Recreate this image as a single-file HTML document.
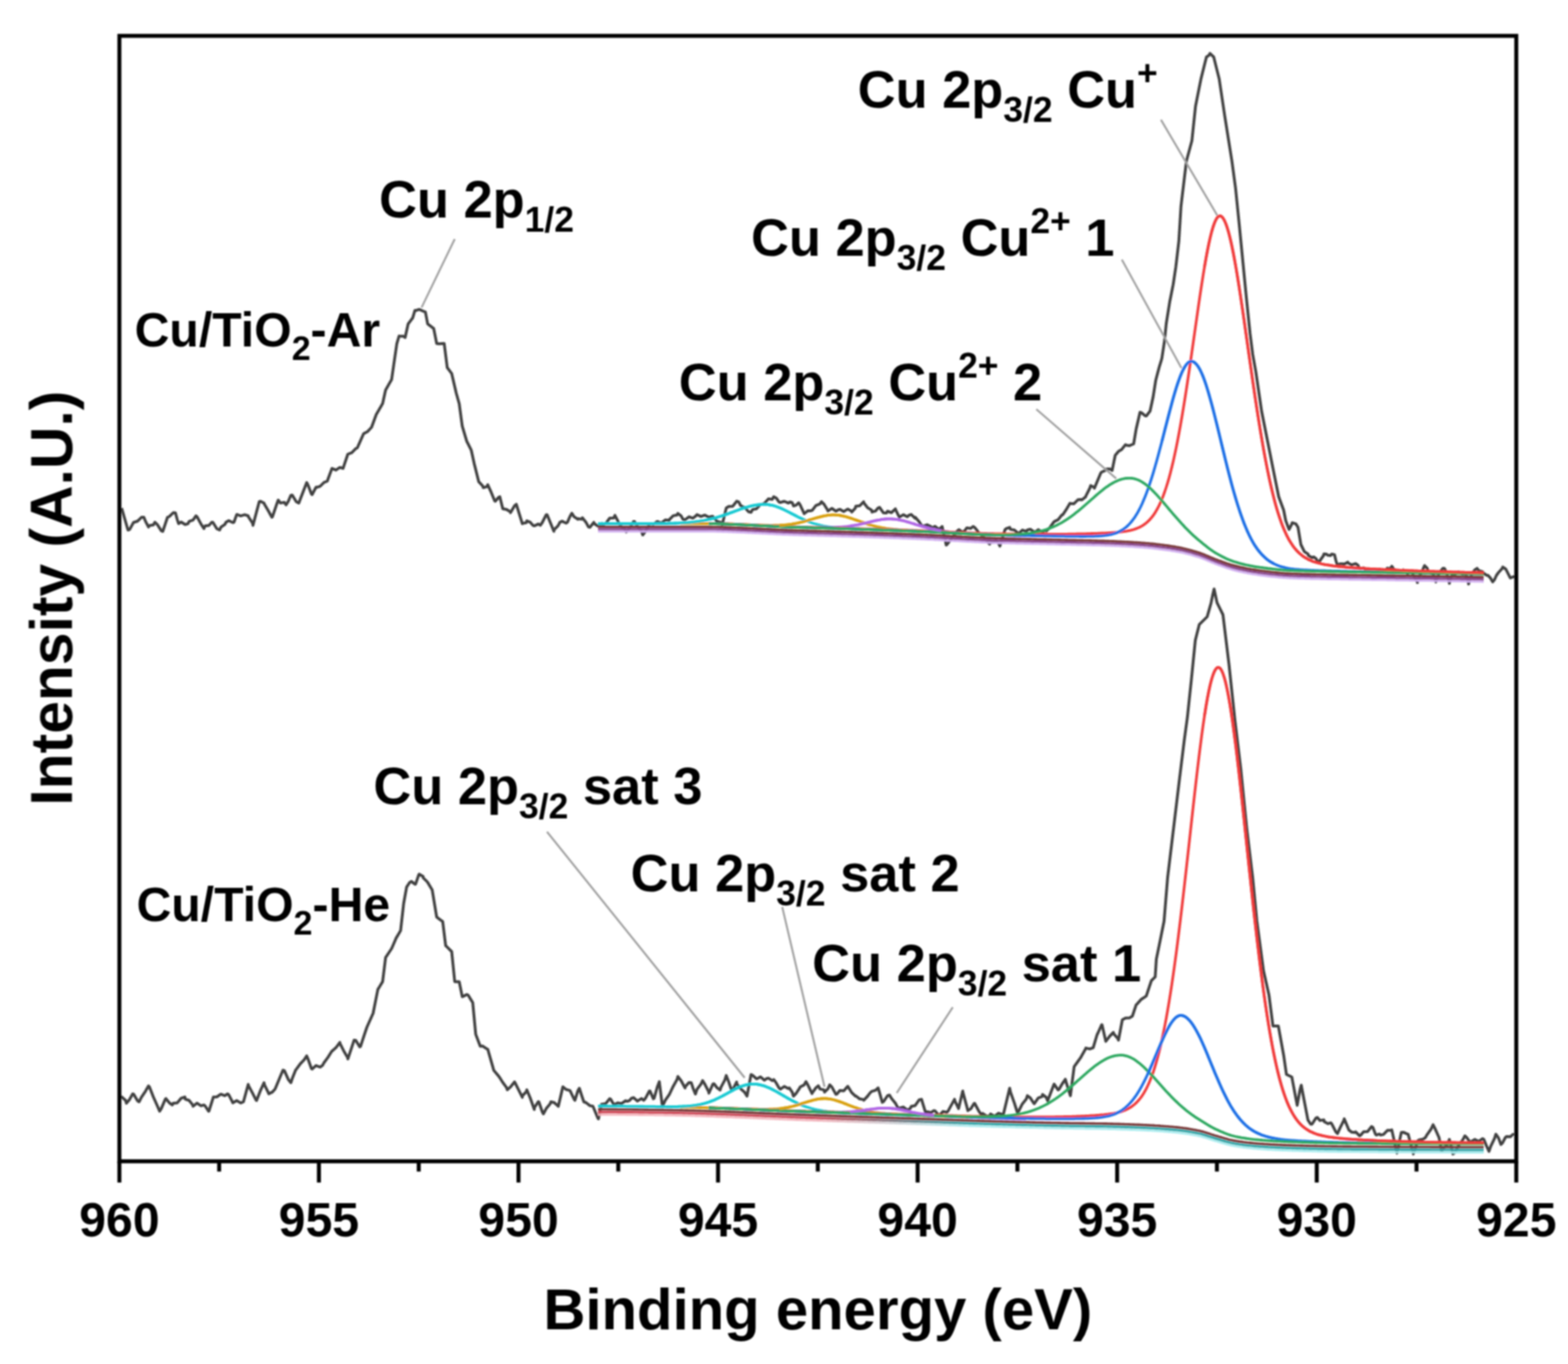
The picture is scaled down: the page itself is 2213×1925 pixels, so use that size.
<!DOCTYPE html>
<html><head><meta charset="utf-8"><title>Cu 2p XPS</title>
<style>html,body{margin:0;padding:0;background:#fff;}body{width:2213px;height:1925px;overflow:hidden;}svg{display:block;}</style>
</head><body>
<svg width="2213" height="1925" viewBox="0 0 2213 1925">
<rect width="100%" height="100%" fill="#fff"/>
<filter id="soft" x="0" y="0" width="100%" height="100%" filterUnits="userSpaceOnUse"><feGaussianBlur stdDeviation="1.3"/></filter>
<g filter="url(#soft)">
<g fill="none" stroke="#3f3f3f" stroke-width="4" stroke-linejoin="round">
<path d="M171.7 717.0 L171.7 717.0 L177.3 736.5 L180.6 748.0 L182.9 747.4 L188.5 737.2 L189.5 737.0 L194.1 735.5 L199.7 730.1 L203.0 730.0 L205.3 735.6 L209.6 743.8 L210.9 741.7 L216.5 740.7 L218.6 737.0 L222.1 740.4 L227.7 749.1 L229.7 750.0 L233.3 739.3 L236.4 730.0 L238.9 729.0 L244.5 723.6 L247.6 723.7 L250.1 733.0 L252.0 739.0 L255.7 736.7 L261.3 740.3 L265.4 739.0 L266.9 735.8 L272.5 733.8 L276.6 728.0 L278.1 729.3 L283.7 739.6 L287.8 746.0 L289.3 742.2 L294.9 741.5 L298.9 737.0 L300.5 737.2 L306.1 746.2 L310.0 748.0 L311.7 744.1 L317.3 740.2 L319.0 737.0 L322.9 734.8 L328.5 737.5 L330.2 737.0 L334.1 726.1 L334.6 726.0 L339.7 728.1 L345.3 726.4 L350.3 728.0 L350.9 729.9 L356.5 738.3 L357.0 741.5 L362.1 722.3 L365.9 708.0 L367.7 707.5 L372.6 710.0 L373.3 711.7 L378.9 721.3 L383.7 730.0 L384.5 729.4 L390.1 712.8 L392.7 705.8 L395.7 709.9 L401.3 709.0 L403.8 712.5 L406.9 707.5 L410.5 699.0 L412.5 698.7 L418.1 708.0 L421.7 710.0 L423.7 704.7 L429.3 690.3 L432.9 681.0 L434.9 684.9 L439.5 697.0 L440.5 698.0 L446.1 687.5 L446.3 688.0 L451.7 686.4 L457.3 680.9 L461.9 679.0 L462.9 676.3 L468.5 661.1 L468.6 661.0 L474.1 663.4 L479.7 659.7 L484.2 661.0 L485.3 657.7 L490.9 641.0 L490.9 641.0 L496.5 638.8 L502.1 633.1 L504.3 632.0 L507.7 624.4 L513.2 612.0 L513.3 611.9 L518.9 608.9 L524.4 603.0 L524.5 602.7 L530.1 587.5 L531.0 585.0 L535.7 577.0 L540.0 569.6 L541.3 563.7 L544.2 550.5 L546.9 545.8 L552.5 536.0 L552.7 535.7 L557.0 506.0 L558.1 498.5 L560.1 484.8 L563.3 474.2 L563.7 474.3 L569.3 474.6 L571.8 476.3 L574.9 462.2 L576.0 457.2 L580.5 451.3 L582.4 448.8 L585.6 438.2 L586.1 438.5 L591.7 436.7 L595.1 438.2 L597.3 439.2 L600.4 440.3 L602.9 453.5 L603.6 457.2 L608.5 460.9 L612.1 463.6 L614.1 473.7 L616.3 484.8 L619.7 485.3 L625.3 484.8 L626.9 484.8 L630.9 516.3 L631.2 518.7 L636.5 525.9 L637.5 527.2 L642.1 547.0 L643.9 554.8 L647.7 568.2 L648.1 569.6 L652.4 601.4 L653.3 604.4 L658.7 622.6 L658.9 623.0 L664.5 634.1 L665.1 635.3 L669.3 654.4 L670.1 657.6 L675.7 679.9 L675.7 679.9 L681.3 685.9 L682.0 688.3 L686.9 686.9 L688.4 684.1 L692.5 693.1 L698.1 706.7 L699.0 707.4 L703.7 701.9 L705.4 701.0 L709.3 716.8 L709.6 718.0 L714.9 719.0 L720.2 722.3 L720.5 723.6 L726.1 713.9 L728.7 711.7 L731.7 721.4 L737.2 739.2 L737.3 738.7 L742.9 737.6 L743.5 735.0 L748.5 737.2 L752.0 741.3 L754.1 742.1 L759.7 739.6 L762.6 741.3 L765.3 737.5 L770.9 726.4 L772.2 726.5 L776.5 737.0 L781.7 749.8 L782.1 747.7 L787.7 741.9 L790.2 737.1 L793.3 735.6 L798.9 738.3 L800.8 737.1 L804.5 728.7 L807.1 724.4 L810.1 729.1 L815.6 732.9 L815.7 731.9 L821.3 732.7 L822.0 730.7 L826.9 736.9 L830.5 743.5 L832.5 744.2 L838.1 737.2 L838.7 739.0 L843.7 742.4 L849.3 738.6 L850.0 741.0 L854.9 739.0 L860.5 731.3 L866.1 731.0 L867.9 727.4 L871.7 734.7 L873.7 739.0 L877.3 743.5 L882.9 748.1 L883.9 750.7 L888.5 745.4 L894.1 736.0 L895.5 736.0 L899.7 743.1 L905.3 750.1 L907.2 755.0 L910.9 750.1 L916.5 739.9 L917.4 739.0 L922.1 739.8 L927.7 735.9 L930.0 737.0 L933.3 738.2 L938.9 733.7 L944.5 734.2 L945.0 733.0 L950.1 727.9 L955.7 726.7 L956.7 724.5 L961.3 728.1 L964.0 733.0 L966.9 733.5 L972.5 729.3 L978.1 731.3 L982.9 727.4 L983.7 726.2 L989.3 728.9 L994.9 726.9 L1000.5 729.9 L1004.7 728.8 L1006.1 728.8 L1011.7 735.6 L1017.3 737.1 L1019.3 740.5 L1022.9 725.7 L1025.0 717.0 L1028.5 714.8 L1034.1 714.5 L1039.7 707.4 L1042.6 708.4 L1045.3 713.5 L1050.0 716.0 L1050.9 715.9 L1056.5 722.3 L1060.0 723.0 L1062.1 719.1 L1067.7 718.0 L1073.3 711.8 L1075.0 712.0 L1078.9 710.4 L1084.5 704.0 L1090.1 704.7 L1092.0 701.0 L1095.7 703.0 L1099.4 708.4 L1101.3 709.2 L1106.9 707.5 L1112.5 709.9 L1115.4 708.4 L1118.1 709.4 L1120.0 714.0 L1123.7 712.9 L1127.3 709.5 L1129.3 712.6 L1134.6 724.0 L1134.9 725.0 L1140.5 720.7 L1143.3 721.0 L1146.1 720.4 L1151.7 713.3 L1157.3 711.1 L1159.3 708.0 L1162.9 711.5 L1168.0 719.7 L1168.5 721.2 L1174.1 717.5 L1179.7 721.4 L1182.6 719.7 L1185.3 718.8 L1190.9 721.9 L1196.5 718.4 L1201.6 721.2 L1202.1 722.6 L1207.4 716.8 L1207.7 714.6 L1213.3 713.8 L1218.9 708.2 L1219.0 709.5 L1224.5 716.5 L1230.1 719.9 L1230.7 722.6 L1235.7 721.1 L1239.4 716.8 L1241.3 716.0 L1246.9 723.8 L1251.0 724.0 L1252.5 721.5 L1258.1 723.5 L1263.7 718.2 L1264.2 719.7 L1268.5 728.4 L1269.3 729.9 L1274.9 726.4 L1280.5 729.2 L1283.1 727.0 L1286.1 726.1 L1291.7 731.5 L1291.8 730.0 L1297.3 736.4 L1300.6 741.5 L1302.9 742.6 L1308.5 740.6 L1313.7 743.0 L1314.1 745.5 L1319.7 742.8 L1323.9 746.0 L1325.3 747.2 L1329.7 743.0 L1330.9 748.4 L1335.5 769.2 L1336.5 768.5 L1341.4 762.0 L1342.1 760.6 L1347.7 753.9 L1350.0 750.3 L1353.3 747.5 L1358.9 751.5 L1361.7 748.8 L1364.5 744.9 L1370.1 745.7 L1373.4 743.0 L1375.7 744.4 L1379.2 748.8 L1381.3 752.1 L1386.9 756.5 L1392.5 764.0 L1396.7 767.8 L1398.1 765.4 L1403.7 765.1 L1405.4 762.0 L1409.3 766.8 L1411.2 770.7 L1414.9 758.9 L1418.5 747.4 L1420.5 745.9 L1425.0 744.3 L1426.1 747.1 L1431.7 748.0 L1435.7 751.4 L1437.3 753.3 L1442.9 748.1 L1448.5 749.9 L1450.0 748.0 L1454.1 746.9 L1459.7 750.9 L1462.0 750.0 L1465.3 747.5 L1470.9 750.9 L1476.5 747.9 L1476.8 749.6 L1482.1 744.0 L1487.7 736.3 L1489.3 735.4 L1493.3 733.5 L1498.9 726.4 L1500.0 726.4 L1504.5 719.7 L1510.1 710.3 L1510.7 710.4 L1515.7 710.9 L1521.3 705.3 L1525.0 705.0 L1526.9 705.5 L1532.0 701.4 L1532.5 700.2 L1538.1 689.0 L1539.3 685.4 L1543.7 687.5 L1544.6 689.0 L1549.3 677.8 L1553.6 667.5 L1554.9 666.3 L1560.5 663.6 L1560.7 662.0 L1566.1 661.7 L1569.6 664.0 L1571.7 653.7 L1574.0 642.5 L1577.3 638.6 L1578.6 637.0 L1582.9 634.5 L1588.5 627.5 L1589.3 628.2 L1594.1 629.0 L1599.7 626.5 L1600.0 626.4 L1603.6 605.0 L1605.3 597.7 L1609.0 581.8 L1610.9 582.4 L1616.5 587.0 L1617.9 587.0 L1622.1 581.5 L1623.2 580.0 L1627.5 560.0 L1627.7 558.7 L1631.2 536.5 L1633.3 528.6 L1636.1 518.0 L1638.9 508.8 L1639.8 505.8 L1643.5 481.2 L1644.5 471.4 L1646.0 456.6 L1650.1 431.0 L1650.9 426.0 L1655.7 401.9 L1655.8 401.4 L1659.5 376.8 L1661.3 361.4 L1663.8 340.0 L1666.8 291.0 L1666.9 290.2 L1672.5 243.6 L1674.5 227.0 L1678.1 213.7 L1682.2 198.6 L1683.7 184.3 L1687.3 150.0 L1689.3 139.9 L1694.9 111.8 L1695.0 111.3 L1700.5 89.3 L1702.7 80.5 L1706.1 78.2 L1707.8 75.4 L1711.7 79.2 L1713.0 80.5 L1717.3 97.7 L1720.7 111.3 L1722.9 126.0 L1728.4 162.7 L1728.5 163.3 L1734.1 198.6 L1738.6 227.0 L1739.7 235.1 L1743.8 265.4 L1745.3 280.2 L1749.0 316.7 L1750.9 336.2 L1754.0 368.0 L1756.5 393.7 L1759.0 419.4 L1762.1 449.5 L1764.3 470.8 L1767.7 497.6 L1768.0 500.0 L1772.5 525.0 L1773.3 530.5 L1778.9 568.9 L1780.6 580.5 L1784.5 600.0 L1788.6 620.6 L1790.1 628.1 L1795.7 656.3 L1796.6 660.8 L1801.3 684.1 L1804.7 701.0 L1806.9 707.0 L1811.7 720.0 L1812.5 724.0 L1814.6 734.6 L1818.1 744.1 L1819.4 747.2 L1823.3 739.4 L1823.7 737.7 L1829.0 739.4 L1829.3 739.9 L1832.0 744.3 L1834.9 761.8 L1836.0 768.5 L1840.5 777.7 L1840.8 778.3 L1846.1 781.8 L1846.6 784.0 L1851.7 787.0 L1854.4 786.0 L1857.3 788.3 L1859.2 791.8 L1862.9 792.1 L1863.0 791.0 L1868.0 784.0 L1868.5 781.8 L1871.8 782.0 L1874.1 783.6 L1877.7 784.0 L1879.7 781.9 L1883.5 783.0 L1885.3 790.5 L1887.4 797.7 L1890.9 795.7 L1896.0 795.7 L1896.5 796.5 L1902.1 793.4 L1903.0 794.8 L1907.7 797.2 L1913.3 795.4 L1916.5 797.7 L1918.9 801.9 L1920.3 802.2 L1924.5 801.4 L1930.0 806.0 L1930.1 807.0 L1935.7 803.6 L1940.3 806.2 L1941.3 807.0 L1946.9 803.6 L1952.0 806.0 L1952.5 807.2 L1958.1 801.7 L1960.0 803.0 L1963.7 800.6 L1964.4 799.2 L1969.0 806.0 L1969.3 804.5 L1974.9 808.1 L1980.4 806.2 L1980.5 804.3 L1986.1 809.3 L1991.7 807.1 L1993.0 808.0 L1997.3 817.0 L1998.0 817.0 L2000.5 822.2 L2002.9 814.6 L2004.0 812.0 L2008.5 802.9 L2010.5 798.2 L2014.1 801.7 L2016.0 807.0 L2019.7 808.6 L2022.0 809.0 L2025.3 816.7 L2026.5 821.2 L2030.9 809.6 L2031.0 809.0 L2036.5 802.1 L2038.6 802.2 L2042.0 809.0 L2042.1 809.7 L2045.6 823.2 L2047.7 815.7 L2050.0 810.0 L2053.3 810.4 L2058.9 807.2 L2060.6 808.2 L2064.5 810.4 L2068.0 809.0 L2070.1 813.9 L2072.7 824.2 L2075.7 815.7 L2077.0 810.0 L2081.3 804.5 L2084.7 802.2 L2086.9 805.2 L2092.5 806.9 L2092.7 808.2 L2098.1 811.7 L2100.0 812.0 L2103.7 815.9 L2106.7 821.2 L2109.3 818.0 L2112.0 812.0 L2114.9 808.0 L2120.5 801.9 L2120.8 800.2 L2125.0 803.0 L2126.1 804.8 L2130.8 814.2 L2131.7 815.7 L2136.8 813.7 L2136.8 816.2"/>
<path d="M171.7 1548.3 L171.7 1548.0 L177.3 1553.1 L178.4 1557.0 L182.9 1551.6 L187.3 1543.8 L188.5 1544.1 L194.1 1553.6 L196.3 1555.0 L199.7 1548.3 L205.3 1540.1 L209.6 1532.6 L210.9 1533.9 L216.5 1548.3 L222.1 1560.8 L225.3 1568.3 L227.7 1564.4 L233.3 1551.2 L234.2 1550.4 L238.9 1556.3 L243.1 1559.4 L244.5 1556.9 L250.1 1556.5 L255.7 1549.9 L261.0 1548.2 L261.3 1551.1 L266.9 1553.0 L272.1 1559.4 L272.5 1561.3 L278.1 1556.8 L283.7 1560.6 L287.8 1559.4 L289.3 1560.5 L294.5 1568.3 L294.9 1568.1 L300.5 1550.3 L301.2 1548.2 L306.1 1548.0 L311.7 1544.2 L317.3 1546.3 L321.3 1543.8 L322.9 1545.1 L328.0 1555.0 L328.5 1556.4 L334.1 1553.3 L339.7 1556.6 L343.6 1555.0 L345.3 1548.8 L350.3 1530.4 L350.9 1532.4 L356.5 1542.9 L361.4 1552.7 L362.1 1553.2 L367.7 1538.8 L372.6 1528.0 L373.3 1531.1 L378.9 1542.4 L379.3 1543.8 L384.5 1541.1 L388.2 1537.0 L390.1 1532.5 L395.7 1519.1 L399.4 1510.3 L401.3 1510.9 L406.9 1523.4 L410.5 1528.0 L412.5 1522.0 L417.2 1510.3 L418.1 1509.1 L423.7 1501.5 L429.3 1495.7 L432.9 1490.2 L434.9 1495.0 L439.5 1508.0 L440.5 1508.7 L446.1 1503.8 L451.7 1506.0 L455.2 1503.6 L457.3 1499.7 L462.9 1492.1 L468.5 1483.3 L468.6 1483.5 L474.1 1478.6 L479.7 1471.2 L479.7 1472.3 L485.3 1483.4 L490.9 1493.1 L490.9 1494.6 L496.5 1477.8 L499.8 1467.9 L502.1 1468.3 L507.7 1477.4 L508.8 1476.8 L513.3 1463.2 L517.7 1450.0 L518.9 1447.3 L524.5 1434.7 L526.6 1430.0 L530.1 1412.4 L533.3 1396.4 L535.7 1392.5 L540.0 1385.4 L541.3 1374.9 L544.2 1351.4 L546.9 1347.4 L552.5 1339.0 L552.7 1338.7 L558.1 1326.2 L559.1 1323.9 L563.7 1316.2 L565.4 1313.3 L569.3 1278.7 L569.7 1275.1 L573.9 1251.8 L574.9 1250.3 L578.2 1245.4 L580.5 1244.0 L586.1 1248.0 L586.6 1247.6 L590.9 1234.8 L591.7 1233.7 L597.2 1237.0 L597.3 1238.8 L602.9 1244.4 L603.6 1245.4 L608.5 1253.5 L610.0 1256.0 L614.1 1280.9 L616.3 1294.2 L619.7 1296.8 L624.8 1300.6 L625.3 1304.6 L629.0 1334.5 L630.9 1336.4 L636.5 1342.0 L637.5 1343.0 L641.8 1385.4 L642.1 1385.4 L647.7 1385.4 L648.1 1385.4 L652.4 1406.6 L653.3 1406.4 L658.9 1403.5 L660.8 1404.5 L664.5 1410.6 L667.2 1415.0 L670.1 1445.8 L671.4 1459.6 L675.7 1471.0 L677.8 1476.5 L681.3 1476.3 L686.9 1480.2 L688.4 1480.8 L692.5 1495.1 L696.9 1510.5 L698.1 1512.0 L703.7 1518.6 L705.4 1521.0 L709.3 1527.3 L714.9 1534.9 L716.0 1538.0 L720.5 1534.1 L726.1 1526.9 L726.6 1527.4 L731.7 1537.6 L737.2 1548.6 L737.3 1546.5 L742.9 1540.6 L743.5 1538.0 L748.5 1550.0 L754.1 1565.8 L754.1 1563.5 L759.7 1554.7 L760.5 1555.0 L765.3 1569.0 L766.9 1572.0 L770.9 1564.6 L776.5 1557.7 L777.5 1555.0 L782.1 1556.0 L787.7 1561.1 L788.0 1561.3 L793.3 1538.5 L794.4 1533.8 L798.9 1537.5 L804.5 1539.1 L805.0 1540.1 L810.1 1551.0 L811.4 1552.8 L815.7 1539.1 L817.7 1535.9 L821.3 1547.1 L824.0 1555.0 L826.9 1556.0 L832.5 1560.4 L836.8 1561.3 L838.1 1564.2 L843.7 1577.7 L844.6 1579.0 L848.9 1558.6 L849.3 1558.4 L854.9 1557.4 L860.5 1550.5 L862.0 1551.4 L866.1 1558.5 L867.9 1558.6 L871.7 1556.5 L877.3 1557.4 L882.9 1553.5 L885.3 1554.3 L888.5 1553.1 L891.2 1550.0 L894.1 1549.1 L899.7 1553.9 L905.3 1550.4 L908.6 1552.8 L910.9 1550.1 L916.5 1539.8 L917.4 1539.7 L922.1 1550.6 L923.2 1550.0 L927.7 1534.0 L930.5 1526.6 L933.3 1548.8 L934.9 1561.5 L938.9 1552.9 L944.5 1544.9 L945.0 1544.0 L950.1 1533.2 L955.7 1523.2 L956.7 1519.3 L961.3 1525.2 L966.9 1535.5 L966.9 1533.9 L972.5 1527.7 L975.6 1528.0 L978.1 1535.7 L981.5 1544.0 L983.7 1537.4 L989.3 1530.0 L991.6 1525.0 L994.9 1530.4 L1000.4 1541.2 L1000.5 1542.8 L1006.1 1530.0 L1007.7 1529.5 L1011.7 1534.8 L1016.4 1538.3 L1017.3 1534.9 L1022.9 1524.4 L1025.0 1517.9 L1028.5 1526.9 L1032.4 1538.3 L1034.1 1538.2 L1039.7 1527.0 L1039.7 1529.5 L1045.3 1536.6 L1050.9 1541.4 L1054.3 1547.0 L1056.5 1535.2 L1060.0 1516.4 L1062.1 1517.5 L1067.7 1522.6 L1068.8 1522.2 L1073.3 1519.8 L1078.9 1524.5 L1082.0 1522.2 L1084.5 1521.6 L1090.1 1525.1 L1092.1 1523.7 L1095.7 1528.7 L1099.4 1535.3 L1101.3 1537.1 L1106.9 1533.3 L1112.5 1536.3 L1114.0 1535.3 L1118.1 1541.3 L1119.8 1547.0 L1123.7 1543.0 L1128.7 1535.3 L1129.3 1534.0 L1134.9 1531.1 L1137.5 1526.6 L1140.5 1531.8 L1146.1 1543.3 L1146.2 1542.6 L1151.7 1535.0 L1155.0 1532.4 L1157.3 1536.9 L1162.9 1538.1 L1163.7 1541.2 L1168.5 1536.6 L1171.0 1531.0 L1174.1 1534.1 L1179.7 1544.4 L1181.2 1544.0 L1185.3 1538.9 L1190.9 1539.5 L1195.7 1533.9 L1196.5 1533.1 L1202.1 1542.0 L1207.4 1547.0 L1207.7 1546.5 L1213.3 1550.8 L1218.9 1551.9 L1219.0 1552.8 L1224.5 1547.0 L1227.8 1542.6 L1230.1 1540.3 L1235.7 1538.7 L1239.4 1535.3 L1241.3 1541.9 L1245.2 1555.7 L1246.9 1554.8 L1252.5 1546.5 L1255.4 1545.5 L1258.1 1550.0 L1262.7 1555.7 L1263.7 1556.9 L1267.0 1563.0 L1269.3 1564.0 L1274.9 1562.3 L1280.5 1566.6 L1284.6 1564.5 L1286.1 1561.5 L1291.7 1560.2 L1297.3 1552.1 L1300.6 1551.4 L1302.9 1559.1 L1306.4 1570.3 L1308.5 1569.0 L1314.1 1570.2 L1318.0 1567.4 L1319.7 1567.7 L1325.3 1574.5 L1326.8 1573.2 L1330.9 1568.6 L1336.5 1569.7 L1338.4 1567.4 L1342.1 1560.6 L1347.2 1551.4 L1347.7 1553.9 L1353.0 1564.5 L1353.3 1562.7 L1358.8 1539.7 L1358.9 1541.1 L1364.5 1561.6 L1366.0 1567.4 L1370.1 1564.9 L1374.8 1557.2 L1375.7 1557.3 L1381.3 1567.8 L1385.0 1573.2 L1386.9 1571.4 L1392.5 1575.2 L1396.7 1574.7 L1398.1 1572.2 L1403.7 1575.4 L1408.0 1572.0 L1409.3 1571.1 L1414.9 1573.0 L1416.0 1573.2 L1420.5 1554.5 L1425.0 1535.7 L1426.1 1541.1 L1431.7 1556.9 L1435.7 1569.6 L1437.3 1569.0 L1442.9 1557.9 L1448.5 1550.9 L1450.0 1546.4 L1454.1 1549.4 L1459.0 1557.0 L1459.7 1557.7 L1465.3 1549.7 L1470.9 1547.5 L1471.4 1544.6 L1476.5 1548.6 L1478.6 1553.6 L1482.1 1544.5 L1487.5 1530.4 L1487.7 1530.0 L1493.3 1538.2 L1494.6 1537.5 L1498.9 1530.0 L1503.6 1523.2 L1504.5 1526.6 L1510.1 1544.4 L1510.7 1546.4 L1515.7 1507.7 L1516.0 1505.4 L1521.3 1498.0 L1525.0 1492.9 L1526.9 1489.5 L1532.0 1480.4 L1532.5 1479.1 L1538.1 1480.4 L1542.9 1478.6 L1543.7 1475.9 L1548.2 1460.7 L1549.3 1458.5 L1554.9 1446.2 L1555.4 1446.4 L1560.5 1468.9 L1560.7 1469.6 L1566.1 1462.5 L1571.4 1457.0 L1571.7 1458.9 L1577.3 1465.2 L1578.6 1467.9 L1582.9 1445.1 L1584.0 1439.3 L1588.5 1436.8 L1594.1 1436.6 L1598.2 1434.0 L1599.7 1429.5 L1603.6 1417.9 L1605.3 1416.4 L1610.9 1410.2 L1616.5 1406.6 L1617.9 1405.4 L1622.1 1392.7 L1625.0 1384.0 L1627.7 1381.3 L1630.4 1378.6 L1632.0 1353.6 L1633.3 1347.3 L1637.5 1326.8 L1638.9 1319.9 L1642.9 1300.0 L1644.5 1280.4 L1647.9 1238.8 L1650.1 1220.5 L1655.7 1174.0 L1656.3 1169.0 L1661.3 1127.5 L1664.7 1099.2 L1666.9 1081.4 L1671.6 1043.3 L1672.5 1036.7 L1675.8 1012.6 L1678.1 990.8 L1681.4 959.6 L1683.7 936.7 L1687.0 903.8 L1689.3 894.6 L1692.6 881.4 L1694.9 879.1 L1700.5 873.6 L1703.8 870.3 L1706.1 862.1 L1709.3 850.7 L1711.7 838.9 L1713.5 831.2 L1717.3 848.8 L1717.7 850.7 L1722.9 861.2 L1726.0 867.5 L1728.5 888.0 L1734.1 934.0 L1734.5 937.3 L1739.7 986.2 L1742.8 1015.4 L1745.3 1036.2 L1750.9 1082.7 L1751.2 1085.2 L1756.5 1138.1 L1759.6 1169.0 L1762.1 1189.8 L1767.7 1236.3 L1768.0 1238.8 L1773.3 1293.8 L1773.9 1300.0 L1778.9 1337.3 L1783.3 1370.2 L1784.5 1375.5 L1790.1 1400.4 L1791.0 1404.4 L1795.7 1441.0 L1796.6 1448.0 L1801.3 1448.0 L1804.2 1448.0 L1806.9 1462.8 L1811.8 1489.8 L1812.5 1494.7 L1815.6 1516.3 L1818.1 1517.5 L1823.2 1520.0 L1823.7 1522.6 L1829.3 1552.1 L1830.8 1560.0 L1834.9 1537.2 L1836.5 1531.5 L1840.5 1552.3 L1846.0 1580.8 L1846.1 1580.9 L1849.8 1586.5 L1851.7 1586.5 L1857.3 1577.8 L1859.2 1577.0 L1862.9 1581.4 L1868.5 1580.4 L1868.7 1582.7 L1874.1 1585.9 L1878.2 1584.6 L1879.7 1586.3 L1885.3 1597.4 L1887.7 1599.8 L1890.9 1592.6 L1896.5 1581.4 L1897.2 1579.0 L1902.1 1590.8 L1903.6 1594.6 L1907.7 1597.8 L1912.0 1598.3 L1913.3 1597.4 L1918.9 1603.0 L1920.6 1601.9 L1924.5 1597.3 L1930.1 1597.1 L1935.7 1589.9 L1937.6 1591.0 L1941.3 1600.8 L1942.5 1601.9 L1946.9 1600.4 L1948.5 1601.9 L1952.5 1601.1 L1958.1 1595.3 L1963.7 1594.9 L1964.3 1594.6 L1969.3 1617.1 L1971.6 1627.4 L1974.9 1611.7 L1977.7 1598.3 L1980.5 1597.9 L1986.1 1600.4 L1987.4 1600.7 L1991.7 1617.1 L1994.7 1628.6 L1997.3 1621.5 L2000.7 1610.4 L2002.9 1608.7 L2008.5 1607.7 L2011.7 1605.5 L2014.1 1601.3 L2019.7 1593.5 L2022.6 1587.3 L2025.3 1592.6 L2030.9 1605.3 L2031.0 1605.5 L2034.7 1625.0 L2036.5 1621.3 L2042.1 1615.9 L2045.6 1608.0 L2047.7 1616.2 L2050.5 1628.6 L2053.3 1626.6 L2058.9 1616.0 L2064.5 1608.6 L2067.5 1603.0 L2070.1 1605.4 L2073.5 1610.4 L2075.7 1611.5 L2081.3 1608.1 L2086.9 1610.9 L2092.5 1607.0 L2094.2 1608.0 L2098.1 1617.5 L2101.5 1625.0 L2103.7 1618.3 L2109.3 1606.6 L2111.2 1600.7 L2114.9 1605.9 L2118.4 1615.2 L2120.5 1613.1 L2124.5 1605.5 L2126.1 1603.9 L2131.7 1604.3 L2135.4 1600.9 L2135.4 1601.9"/>
</g>
<defs><linearGradient id="gb" gradientUnits="userSpaceOnUse" x1="844" y1="0" x2="2094" y2="0"><stop offset="0" stop-color="#d24656"/><stop offset="0.25" stop-color="#c84a5a"/><stop offset="0.42" stop-color="#2ea6a8"/><stop offset="1" stop-color="#2ea6a8"/></linearGradient><linearGradient id="gbl" gradientUnits="userSpaceOnUse" x1="844" y1="0" x2="2094" y2="0"><stop offset="0" stop-color="#f6b6be"/><stop offset="0.25" stop-color="#f3b5bd"/><stop offset="0.42" stop-color="#a8ecef"/><stop offset="1" stop-color="#a8ecef"/></linearGradient></defs>
<g fill="none" stroke-width="4" stroke-linejoin="round" stroke-linecap="butt">
<path d="M844.0 750.0 L846.0 750.0 L848.0 750.0 L850.0 750.0 L852.0 750.0 L854.0 750.0 L856.0 750.0 L858.0 750.0 L860.0 750.0 L862.0 750.0 L864.0 750.0 L866.0 750.0 L868.0 750.0 L870.0 750.0 L872.0 750.0 L874.0 750.0 L876.0 750.0 L878.0 750.0 L880.0 750.0 L882.0 750.0 L884.0 750.0 L886.0 750.0 L888.0 750.0 L890.0 750.0 L892.0 750.0 L894.0 750.0 L896.0 750.0 L898.0 750.0 L900.0 750.0 L902.0 750.0 L904.0 750.0 L906.0 750.0 L908.0 750.0 L910.0 750.0 L912.0 750.0 L914.0 750.0 L916.0 750.0 L918.0 750.0 L920.0 750.0 L922.0 750.0 L924.0 750.0 L926.0 750.0 L928.0 750.0 L930.0 750.0 L932.0 750.0 L934.0 750.0 L936.0 750.0 L938.0 750.0 L940.0 750.0 L942.0 750.0 L944.0 750.0 L946.0 750.0 L948.0 750.0 L950.0 750.0 L952.0 750.0 L954.0 750.0 L956.0 750.0 L958.0 750.0 L960.0 750.0 L962.0 750.0 L964.0 750.0 L966.0 750.0 L968.0 750.0 L970.0 750.0 L972.0 750.0 L974.0 750.0 L976.0 750.0 L978.0 750.0 L980.0 750.0 L982.0 750.0 L984.0 750.0 L986.0 750.0 L988.0 750.0 L990.0 750.0 L992.0 750.0 L994.0 750.0 L996.0 750.0 L998.0 750.0 L1000.0 750.1 L1002.0 750.1 L1004.0 750.1 L1006.0 750.2 L1008.0 750.2 L1010.0 750.2 L1012.0 750.3 L1014.0 750.3 L1016.0 750.4 L1018.0 750.4 L1020.0 750.5 L1022.0 750.6 L1024.0 750.6 L1026.0 750.7 L1028.0 750.8 L1030.0 750.9 L1032.0 750.9 L1034.0 751.0 L1036.0 751.1 L1038.0 751.2 L1040.0 751.3 L1042.0 751.4 L1044.0 751.4 L1046.0 751.5 L1048.0 751.6 L1050.0 751.7 L1052.0 751.8 L1054.0 751.9 L1056.0 752.0 L1058.0 752.1 L1060.0 752.2 L1062.0 752.3 L1064.0 752.4 L1066.0 752.5 L1068.0 752.6 L1070.0 752.7 L1072.0 752.8 L1074.0 752.9 L1076.0 753.0 L1078.0 753.1 L1080.0 753.2 L1082.0 753.3 L1084.0 753.4 L1086.0 753.5 L1088.0 753.6 L1090.0 753.7 L1092.0 753.8 L1094.0 753.9 L1096.0 754.0 L1098.0 754.1 L1100.0 754.2 L1102.0 754.3 L1104.0 754.4 L1106.0 754.5 L1108.0 754.6 L1110.0 754.6 L1112.0 754.7 L1114.0 754.8 L1116.0 754.9 L1118.0 754.9 L1120.0 755.0 L1122.0 755.1 L1124.0 755.1 L1126.0 755.2 L1128.0 755.3 L1130.0 755.3 L1132.0 755.4 L1134.0 755.4 L1136.0 755.5 L1138.0 755.5 L1140.0 755.6 L1142.0 755.7 L1144.0 755.7 L1146.0 755.8 L1148.0 755.8 L1150.0 755.9 L1152.0 755.9 L1154.0 756.0 L1156.0 756.0 L1158.0 756.1 L1160.0 756.2 L1162.0 756.2 L1164.0 756.3 L1166.0 756.3 L1168.0 756.4 L1170.0 756.4 L1172.0 756.5 L1174.0 756.5 L1176.0 756.6 L1178.0 756.7 L1180.0 756.7 L1182.0 756.8 L1184.0 756.8 L1186.0 756.9 L1188.0 757.0 L1190.0 757.0 L1192.0 757.1 L1194.0 757.2 L1196.0 757.2 L1198.0 757.3 L1200.0 757.4 L1202.0 757.4 L1204.0 757.5 L1206.0 757.5 L1208.0 757.6 L1210.0 757.7 L1212.0 757.7 L1214.0 757.8 L1216.0 757.9 L1218.0 757.9 L1220.0 758.0 L1222.0 758.1 L1224.0 758.1 L1226.0 758.2 L1228.0 758.3 L1230.0 758.4 L1232.0 758.4 L1234.0 758.5 L1236.0 758.6 L1238.0 758.6 L1240.0 758.7 L1242.0 758.8 L1244.0 758.8 L1246.0 758.9 L1248.0 759.0 L1250.0 759.1 L1252.0 759.1 L1254.0 759.2 L1256.0 759.3 L1258.0 759.3 L1260.0 759.4 L1262.0 759.5 L1264.0 759.6 L1266.0 759.6 L1268.0 759.7 L1270.0 759.8 L1272.0 759.9 L1274.0 760.0 L1276.0 760.0 L1278.0 760.1 L1280.0 760.2 L1282.0 760.3 L1284.0 760.3 L1286.0 760.4 L1288.0 760.5 L1290.0 760.6 L1292.0 760.7 L1294.0 760.8 L1296.0 760.8 L1298.0 760.9 L1300.0 761.0 L1302.0 761.1 L1304.0 761.2 L1306.0 761.3 L1308.0 761.4 L1310.0 761.5 L1312.0 761.5 L1314.0 761.6 L1316.0 761.7 L1318.0 761.8 L1320.0 762.0 L1322.0 762.1 L1324.0 762.2 L1326.0 762.3 L1328.0 762.4 L1330.0 762.5 L1332.0 762.6 L1334.0 762.7 L1336.0 762.8 L1338.0 762.9 L1340.0 763.0 L1342.0 763.2 L1344.0 763.3 L1346.0 763.4 L1348.0 763.5 L1350.0 763.6 L1352.0 763.7 L1354.0 763.8 L1356.0 763.9 L1358.0 764.1 L1360.0 764.2 L1362.0 764.3 L1364.0 764.4 L1366.0 764.5 L1368.0 764.6 L1370.0 764.7 L1372.0 764.8 L1374.0 764.9 L1376.0 765.0 L1378.0 765.1 L1380.0 765.2 L1382.0 765.3 L1384.0 765.4 L1386.0 765.5 L1388.0 765.5 L1390.0 765.6 L1392.0 765.7 L1394.0 765.8 L1396.0 765.9 L1398.0 765.9 L1400.0 766.0 L1402.0 766.1 L1404.0 766.1 L1406.0 766.2 L1408.0 766.3 L1410.0 766.3 L1412.0 766.4 L1414.0 766.4 L1416.0 766.5 L1418.0 766.6 L1420.0 766.6 L1422.0 766.7 L1424.0 766.7 L1426.0 766.8 L1428.0 766.8 L1430.0 766.9 L1432.0 766.9 L1434.0 767.0 L1436.0 767.0 L1438.0 767.1 L1440.0 767.1 L1442.0 767.2 L1444.0 767.2 L1446.0 767.3 L1448.0 767.3 L1450.0 767.4 L1452.0 767.4 L1454.0 767.4 L1456.0 767.5 L1458.0 767.5 L1460.0 767.6 L1462.0 767.6 L1464.0 767.7 L1466.0 767.7 L1468.0 767.8 L1470.0 767.8 L1472.0 767.8 L1474.0 767.9 L1476.0 767.9 L1478.0 768.0 L1480.0 768.0 L1482.0 768.1 L1484.0 768.1 L1486.0 768.2 L1488.0 768.2 L1490.0 768.3 L1492.0 768.3 L1494.0 768.4 L1496.0 768.4 L1498.0 768.5 L1500.0 768.5 L1502.0 768.5 L1504.0 768.6 L1506.0 768.6 L1508.0 768.7 L1510.0 768.7 L1512.0 768.8 L1514.0 768.8 L1516.0 768.9 L1518.0 768.9 L1520.0 769.0 L1522.0 769.0 L1524.0 769.0 L1526.0 769.1 L1528.0 769.1 L1530.0 769.2 L1532.0 769.2 L1534.0 769.3 L1536.0 769.3 L1538.0 769.4 L1540.0 769.4 L1542.0 769.5 L1544.0 769.5 L1546.0 769.6 L1548.0 769.6 L1550.0 769.7 L1552.0 769.7 L1554.0 769.8 L1556.0 769.9 L1558.0 769.9 L1560.0 770.0 L1562.0 770.1 L1564.0 770.1 L1566.0 770.2 L1568.0 770.3 L1570.0 770.4 L1572.0 770.4 L1574.0 770.5 L1576.0 770.6 L1578.0 770.7 L1580.0 770.8 L1582.0 770.9 L1584.0 771.0 L1586.0 771.1 L1588.0 771.2 L1590.0 771.3 L1592.0 771.4 L1594.0 771.5 L1596.0 771.6 L1598.0 771.7 L1600.0 771.9 L1602.0 772.0 L1604.0 772.1 L1606.0 772.3 L1608.0 772.4 L1610.0 772.5 L1612.0 772.7 L1614.0 772.8 L1616.0 773.0 L1618.0 773.2 L1620.0 773.3 L1622.0 773.5 L1624.0 773.7 L1626.0 773.9 L1628.0 774.1 L1630.0 774.3 L1632.0 774.6 L1634.0 774.8 L1636.0 775.0 L1638.0 775.3 L1640.0 775.5 L1642.0 775.8 L1644.0 776.1 L1646.0 776.3 L1648.0 776.6 L1650.0 776.9 L1652.0 777.2 L1654.0 777.5 L1656.0 777.8 L1658.0 778.1 L1660.0 778.5 L1662.0 778.8 L1664.0 779.2 L1666.0 779.6 L1668.0 780.0 L1670.0 780.5 L1672.0 780.9 L1674.0 781.4 L1676.0 781.9 L1678.0 782.4 L1680.0 783.0 L1682.0 783.5 L1684.0 784.1 L1686.0 784.7 L1688.0 785.3 L1690.0 785.9 L1692.0 786.5 L1694.0 787.2 L1696.0 787.9 L1698.0 788.6 L1700.0 789.4 L1702.0 790.3 L1704.0 791.1 L1706.0 792.0 L1708.0 792.8 L1710.0 793.7 L1712.0 794.5 L1714.0 795.3 L1716.0 796.1 L1718.0 796.8 L1720.0 797.6 L1722.0 798.3 L1724.0 799.0 L1726.0 799.8 L1728.0 800.5 L1730.0 801.2 L1732.0 801.9 L1734.0 802.5 L1736.0 803.2 L1738.0 803.7 L1740.0 804.3 L1742.0 804.8 L1744.0 805.3 L1746.0 805.8 L1748.0 806.3 L1750.0 806.8 L1752.0 807.2 L1754.0 807.6 L1756.0 808.1 L1758.0 808.5 L1760.0 808.9 L1762.0 809.3 L1764.0 809.6 L1766.0 810.0 L1768.0 810.3 L1770.0 810.6 L1772.0 810.9 L1774.0 811.2 L1776.0 811.5 L1778.0 811.8 L1780.0 812.0 L1782.0 812.3 L1784.0 812.5 L1786.0 812.8 L1788.0 813.0 L1790.0 813.3 L1792.0 813.5 L1794.0 813.8 L1796.0 814.0 L1798.0 814.2 L1800.0 814.4 L1802.0 814.6 L1804.0 814.8 L1806.0 815.0 L1808.0 815.2 L1810.0 815.4 L1812.0 815.5 L1814.0 815.7 L1816.0 815.8 L1818.0 815.9 L1820.0 816.0 L1822.0 816.1 L1824.0 816.2 L1826.0 816.3 L1828.0 816.3 L1830.0 816.4 L1832.0 816.5 L1834.0 816.5 L1836.0 816.6 L1838.0 816.7 L1840.0 816.7 L1842.0 816.8 L1844.0 816.8 L1846.0 816.9 L1848.0 816.9 L1850.0 817.0 L1852.0 817.0 L1854.0 817.1 L1856.0 817.1 L1858.0 817.2 L1860.0 817.2 L1862.0 817.2 L1864.0 817.3 L1866.0 817.3 L1868.0 817.4 L1870.0 817.4 L1872.0 817.4 L1874.0 817.5 L1876.0 817.5 L1878.0 817.5 L1880.0 817.6 L1882.0 817.6 L1884.0 817.6 L1886.0 817.7 L1888.0 817.7 L1890.0 817.7 L1892.0 817.8 L1894.0 817.8 L1896.0 817.8 L1898.0 817.9 L1900.0 817.9 L1902.0 817.9 L1904.0 818.0 L1906.0 818.0 L1908.0 818.0 L1910.0 818.1 L1912.0 818.1 L1914.0 818.1 L1916.0 818.2 L1918.0 818.2 L1920.0 818.2 L1922.0 818.3 L1924.0 818.3 L1926.0 818.3 L1928.0 818.3 L1930.0 818.4 L1932.0 818.4 L1934.0 818.4 L1936.0 818.5 L1938.0 818.5 L1940.0 818.5 L1942.0 818.5 L1944.0 818.6 L1946.0 818.6 L1948.0 818.6 L1950.0 818.6 L1952.0 818.7 L1954.0 818.7 L1956.0 818.7 L1958.0 818.8 L1960.0 818.8 L1962.0 818.8 L1964.0 818.9 L1966.0 818.9 L1968.0 818.9 L1970.0 819.0 L1972.0 819.0 L1974.0 819.0 L1976.0 819.1 L1978.0 819.1 L1980.0 819.1 L1982.0 819.1 L1984.0 819.2 L1986.0 819.2 L1988.0 819.2 L1990.0 819.3 L1992.0 819.3 L1994.0 819.3 L1996.0 819.4 L1998.0 819.4 L2000.0 819.4 L2002.0 819.5 L2004.0 819.5 L2006.0 819.5 L2008.0 819.6 L2010.0 819.6 L2012.0 819.6 L2014.0 819.7 L2016.0 819.7 L2018.0 819.7 L2020.0 819.8 L2022.0 819.8 L2024.0 819.8 L2026.0 819.9 L2028.0 819.9 L2030.0 819.9 L2032.0 820.0 L2034.0 820.0 L2036.0 820.0 L2038.0 820.1 L2040.0 820.1 L2042.0 820.1 L2044.0 820.2 L2046.0 820.2 L2048.0 820.2 L2050.0 820.3 L2052.0 820.3 L2054.0 820.3 L2056.0 820.4 L2058.0 820.4 L2060.0 820.4 L2062.0 820.5 L2064.0 820.5 L2066.0 820.5 L2068.0 820.6 L2070.0 820.6 L2072.0 820.6 L2074.0 820.7 L2076.0 820.7 L2078.0 820.7 L2080.0 820.8 L2082.0 820.8 L2084.0 820.8 L2086.0 820.9 L2088.0 820.9 L2090.0 820.9 L2092.0 821.0 L2094.0 821.0" stroke="#d2b0f2" stroke-width="2.8"/>
<path d="M844.0 746.8 L846.0 746.8 L848.0 746.8 L850.0 746.8 L852.0 746.8 L854.0 746.8 L856.0 746.8 L858.0 746.8 L860.0 746.8 L862.0 746.8 L864.0 746.8 L866.0 746.8 L868.0 746.8 L870.0 746.8 L872.0 746.8 L874.0 746.8 L876.0 746.8 L878.0 746.8 L880.0 746.8 L882.0 746.8 L884.0 746.8 L886.0 746.8 L888.0 746.8 L890.0 746.8 L892.0 746.8 L894.0 746.8 L896.0 746.8 L898.0 746.8 L900.0 746.8 L902.0 746.8 L904.0 746.8 L906.0 746.8 L908.0 746.8 L910.0 746.8 L912.0 746.8 L914.0 746.8 L916.0 746.8 L918.0 746.8 L920.0 746.8 L922.0 746.8 L924.0 746.8 L926.0 746.8 L928.0 746.8 L930.0 746.8 L932.0 746.8 L934.0 746.8 L936.0 746.8 L938.0 746.8 L940.0 746.8 L942.0 746.8 L944.0 746.8 L946.0 746.8 L948.0 746.8 L950.0 746.8 L952.0 746.8 L954.0 746.8 L956.0 746.8 L958.0 746.8 L960.0 746.8 L962.0 746.8 L964.0 746.8 L966.0 746.8 L968.0 746.8 L970.0 746.8 L972.0 746.8 L974.0 746.8 L976.0 746.8 L978.0 746.8 L980.0 746.8 L982.0 746.8 L984.0 746.8 L986.0 746.8 L988.0 746.8 L990.0 746.8 L992.0 746.8 L994.0 746.8 L996.0 746.8 L998.0 746.8 L1000.0 746.9 L1002.0 746.9 L1004.0 746.9 L1006.0 747.0 L1008.0 747.0 L1010.0 747.0 L1012.0 747.1 L1014.0 747.1 L1016.0 747.2 L1018.0 747.2 L1020.0 747.3 L1022.0 747.4 L1024.0 747.4 L1026.0 747.5 L1028.0 747.6 L1030.0 747.7 L1032.0 747.7 L1034.0 747.8 L1036.0 747.9 L1038.0 748.0 L1040.0 748.1 L1042.0 748.2 L1044.0 748.2 L1046.0 748.3 L1048.0 748.4 L1050.0 748.5 L1052.0 748.6 L1054.0 748.7 L1056.0 748.8 L1058.0 748.9 L1060.0 749.0 L1062.0 749.1 L1064.0 749.2 L1066.0 749.3 L1068.0 749.4 L1070.0 749.5 L1072.0 749.6 L1074.0 749.7 L1076.0 749.8 L1078.0 749.9 L1080.0 750.0 L1082.0 750.1 L1084.0 750.2 L1086.0 750.3 L1088.0 750.4 L1090.0 750.5 L1092.0 750.6 L1094.0 750.7 L1096.0 750.8 L1098.0 750.9 L1100.0 751.0 L1102.0 751.1 L1104.0 751.2 L1106.0 751.3 L1108.0 751.4 L1110.0 751.4 L1112.0 751.5 L1114.0 751.6 L1116.0 751.7 L1118.0 751.7 L1120.0 751.8 L1122.0 751.9 L1124.0 751.9 L1126.0 752.0 L1128.0 752.1 L1130.0 752.1 L1132.0 752.2 L1134.0 752.2 L1136.0 752.3 L1138.0 752.3 L1140.0 752.4 L1142.0 752.5 L1144.0 752.5 L1146.0 752.6 L1148.0 752.6 L1150.0 752.7 L1152.0 752.7 L1154.0 752.8 L1156.0 752.8 L1158.0 752.9 L1160.0 753.0 L1162.0 753.0 L1164.0 753.1 L1166.0 753.1 L1168.0 753.2 L1170.0 753.2 L1172.0 753.3 L1174.0 753.3 L1176.0 753.4 L1178.0 753.5 L1180.0 753.5 L1182.0 753.6 L1184.0 753.6 L1186.0 753.7 L1188.0 753.8 L1190.0 753.8 L1192.0 753.9 L1194.0 754.0 L1196.0 754.0 L1198.0 754.1 L1200.0 754.2 L1202.0 754.2 L1204.0 754.3 L1206.0 754.3 L1208.0 754.4 L1210.0 754.5 L1212.0 754.5 L1214.0 754.6 L1216.0 754.7 L1218.0 754.7 L1220.0 754.8 L1222.0 754.9 L1224.0 754.9 L1226.0 755.0 L1228.0 755.1 L1230.0 755.2 L1232.0 755.2 L1234.0 755.3 L1236.0 755.4 L1238.0 755.4 L1240.0 755.5 L1242.0 755.6 L1244.0 755.6 L1246.0 755.7 L1248.0 755.8 L1250.0 755.9 L1252.0 755.9 L1254.0 756.0 L1256.0 756.1 L1258.0 756.1 L1260.0 756.2 L1262.0 756.3 L1264.0 756.4 L1266.0 756.4 L1268.0 756.5 L1270.0 756.6 L1272.0 756.7 L1274.0 756.8 L1276.0 756.8 L1278.0 756.9 L1280.0 757.0 L1282.0 757.1 L1284.0 757.1 L1286.0 757.2 L1288.0 757.3 L1290.0 757.4 L1292.0 757.5 L1294.0 757.6 L1296.0 757.6 L1298.0 757.7 L1300.0 757.8 L1302.0 757.9 L1304.0 758.0 L1306.0 758.1 L1308.0 758.2 L1310.0 758.3 L1312.0 758.3 L1314.0 758.4 L1316.0 758.5 L1318.0 758.6 L1320.0 758.8 L1322.0 758.9 L1324.0 759.0 L1326.0 759.1 L1328.0 759.2 L1330.0 759.3 L1332.0 759.4 L1334.0 759.5 L1336.0 759.6 L1338.0 759.7 L1340.0 759.8 L1342.0 760.0 L1344.0 760.1 L1346.0 760.2 L1348.0 760.3 L1350.0 760.4 L1352.0 760.5 L1354.0 760.6 L1356.0 760.7 L1358.0 760.9 L1360.0 761.0 L1362.0 761.1 L1364.0 761.2 L1366.0 761.3 L1368.0 761.4 L1370.0 761.5 L1372.0 761.6 L1374.0 761.7 L1376.0 761.8 L1378.0 761.9 L1380.0 762.0 L1382.0 762.1 L1384.0 762.2 L1386.0 762.3 L1388.0 762.3 L1390.0 762.4 L1392.0 762.5 L1394.0 762.6 L1396.0 762.7 L1398.0 762.7 L1400.0 762.8 L1402.0 762.9 L1404.0 762.9 L1406.0 763.0 L1408.0 763.1 L1410.0 763.1 L1412.0 763.2 L1414.0 763.2 L1416.0 763.3 L1418.0 763.4 L1420.0 763.4 L1422.0 763.5 L1424.0 763.5 L1426.0 763.6 L1428.0 763.6 L1430.0 763.7 L1432.0 763.7 L1434.0 763.8 L1436.0 763.8 L1438.0 763.9 L1440.0 763.9 L1442.0 764.0 L1444.0 764.0 L1446.0 764.1 L1448.0 764.1 L1450.0 764.2 L1452.0 764.2 L1454.0 764.2 L1456.0 764.3 L1458.0 764.3 L1460.0 764.4 L1462.0 764.4 L1464.0 764.5 L1466.0 764.5 L1468.0 764.6 L1470.0 764.6 L1472.0 764.6 L1474.0 764.7 L1476.0 764.7 L1478.0 764.8 L1480.0 764.8 L1482.0 764.9 L1484.0 764.9 L1486.0 765.0 L1488.0 765.0 L1490.0 765.1 L1492.0 765.1 L1494.0 765.2 L1496.0 765.2 L1498.0 765.3 L1500.0 765.3 L1502.0 765.3 L1504.0 765.4 L1506.0 765.4 L1508.0 765.5 L1510.0 765.5 L1512.0 765.6 L1514.0 765.6 L1516.0 765.7 L1518.0 765.7 L1520.0 765.8 L1522.0 765.8 L1524.0 765.8 L1526.0 765.9 L1528.0 765.9 L1530.0 766.0 L1532.0 766.0 L1534.0 766.1 L1536.0 766.1 L1538.0 766.2 L1540.0 766.2 L1542.0 766.3 L1544.0 766.3 L1546.0 766.4 L1548.0 766.4 L1550.0 766.5 L1552.0 766.5 L1554.0 766.6 L1556.0 766.7 L1558.0 766.7 L1560.0 766.8 L1562.0 766.9 L1564.0 766.9 L1566.0 767.0 L1568.0 767.1 L1570.0 767.2 L1572.0 767.2 L1574.0 767.3 L1576.0 767.4 L1578.0 767.5 L1580.0 767.6 L1582.0 767.7 L1584.0 767.8 L1586.0 767.9 L1588.0 768.0 L1590.0 768.1 L1592.0 768.2 L1594.0 768.3 L1596.0 768.4 L1598.0 768.5 L1600.0 768.7 L1602.0 768.8 L1604.0 768.9 L1606.0 769.1 L1608.0 769.2 L1610.0 769.3 L1612.0 769.5 L1614.0 769.6 L1616.0 769.8 L1618.0 770.0 L1620.0 770.1 L1622.0 770.3 L1624.0 770.5 L1626.0 770.7 L1628.0 770.9 L1630.0 771.1 L1632.0 771.4 L1634.0 771.6 L1636.0 771.8 L1638.0 772.1 L1640.0 772.3 L1642.0 772.6 L1644.0 772.9 L1646.0 773.1 L1648.0 773.4 L1650.0 773.7 L1652.0 774.0 L1654.0 774.3 L1656.0 774.6 L1658.0 774.9 L1660.0 775.3 L1662.0 775.6 L1664.0 776.0 L1666.0 776.4 L1668.0 776.8 L1670.0 777.3 L1672.0 777.7 L1674.0 778.2 L1676.0 778.7 L1678.0 779.2 L1680.0 779.8 L1682.0 780.3 L1684.0 780.9 L1686.0 781.5 L1688.0 782.1 L1690.0 782.7 L1692.0 783.3 L1694.0 784.0 L1696.0 784.7 L1698.0 785.4 L1700.0 786.2 L1702.0 787.1 L1704.0 787.9 L1706.0 788.8 L1708.0 789.6 L1710.0 790.5 L1712.0 791.3 L1714.0 792.1 L1716.0 792.9 L1718.0 793.6 L1720.0 794.4 L1722.0 795.1 L1724.0 795.8 L1726.0 796.6 L1728.0 797.3 L1730.0 798.0 L1732.0 798.7 L1734.0 799.3 L1736.0 800.0 L1738.0 800.5 L1740.0 801.1 L1742.0 801.6 L1744.0 802.1 L1746.0 802.6 L1748.0 803.1 L1750.0 803.6 L1752.0 804.0 L1754.0 804.4 L1756.0 804.9 L1758.0 805.3 L1760.0 805.7 L1762.0 806.1 L1764.0 806.4 L1766.0 806.8 L1768.0 807.1 L1770.0 807.4 L1772.0 807.7 L1774.0 808.0 L1776.0 808.3 L1778.0 808.6 L1780.0 808.8 L1782.0 809.1 L1784.0 809.3 L1786.0 809.6 L1788.0 809.8 L1790.0 810.1 L1792.0 810.3 L1794.0 810.6 L1796.0 810.8 L1798.0 811.0 L1800.0 811.2 L1802.0 811.4 L1804.0 811.6 L1806.0 811.8 L1808.0 812.0 L1810.0 812.2 L1812.0 812.3 L1814.0 812.5 L1816.0 812.6 L1818.0 812.7 L1820.0 812.8 L1822.0 812.9 L1824.0 813.0 L1826.0 813.1 L1828.0 813.1 L1830.0 813.2 L1832.0 813.3 L1834.0 813.3 L1836.0 813.4 L1838.0 813.5 L1840.0 813.5 L1842.0 813.6 L1844.0 813.6 L1846.0 813.7 L1848.0 813.7 L1850.0 813.8 L1852.0 813.8 L1854.0 813.9 L1856.0 813.9 L1858.0 814.0 L1860.0 814.0 L1862.0 814.0 L1864.0 814.1 L1866.0 814.1 L1868.0 814.2 L1870.0 814.2 L1872.0 814.2 L1874.0 814.3 L1876.0 814.3 L1878.0 814.3 L1880.0 814.4 L1882.0 814.4 L1884.0 814.4 L1886.0 814.5 L1888.0 814.5 L1890.0 814.5 L1892.0 814.6 L1894.0 814.6 L1896.0 814.6 L1898.0 814.7 L1900.0 814.7 L1902.0 814.7 L1904.0 814.8 L1906.0 814.8 L1908.0 814.8 L1910.0 814.9 L1912.0 814.9 L1914.0 814.9 L1916.0 815.0 L1918.0 815.0 L1920.0 815.0 L1922.0 815.1 L1924.0 815.1 L1926.0 815.1 L1928.0 815.1 L1930.0 815.2 L1932.0 815.2 L1934.0 815.2 L1936.0 815.3 L1938.0 815.3 L1940.0 815.3 L1942.0 815.3 L1944.0 815.4 L1946.0 815.4 L1948.0 815.4 L1950.0 815.4 L1952.0 815.5 L1954.0 815.5 L1956.0 815.5 L1958.0 815.6 L1960.0 815.6 L1962.0 815.6 L1964.0 815.7 L1966.0 815.7 L1968.0 815.7 L1970.0 815.8 L1972.0 815.8 L1974.0 815.8 L1976.0 815.9 L1978.0 815.9 L1980.0 815.9 L1982.0 815.9 L1984.0 816.0 L1986.0 816.0 L1988.0 816.0 L1990.0 816.1 L1992.0 816.1 L1994.0 816.1 L1996.0 816.2 L1998.0 816.2 L2000.0 816.2 L2002.0 816.3 L2004.0 816.3 L2006.0 816.3 L2008.0 816.4 L2010.0 816.4 L2012.0 816.4 L2014.0 816.5 L2016.0 816.5 L2018.0 816.5 L2020.0 816.6 L2022.0 816.6 L2024.0 816.6 L2026.0 816.7 L2028.0 816.7 L2030.0 816.7 L2032.0 816.8 L2034.0 816.8 L2036.0 816.8 L2038.0 816.9 L2040.0 816.9 L2042.0 816.9 L2044.0 817.0 L2046.0 817.0 L2048.0 817.0 L2050.0 817.1 L2052.0 817.1 L2054.0 817.1 L2056.0 817.2 L2058.0 817.2 L2060.0 817.2 L2062.0 817.3 L2064.0 817.3 L2066.0 817.3 L2068.0 817.4 L2070.0 817.4 L2072.0 817.4 L2074.0 817.5 L2076.0 817.5 L2078.0 817.5 L2080.0 817.6 L2082.0 817.6 L2084.0 817.6 L2086.0 817.7 L2088.0 817.7 L2090.0 817.7 L2092.0 817.8 L2094.0 817.8" stroke="#8e4c92" stroke-width="3.2"/>
<path d="M844.0 743.5 L846.0 743.5 L848.0 743.5 L850.0 743.5 L852.0 743.5 L854.0 743.5 L856.0 743.5 L858.0 743.5 L860.0 743.5 L862.0 743.5 L864.0 743.5 L866.0 743.5 L868.0 743.5 L870.0 743.5 L872.0 743.5 L874.0 743.5 L876.0 743.5 L878.0 743.5 L880.0 743.5 L882.0 743.5 L884.0 743.5 L886.0 743.5 L888.0 743.5 L890.0 743.5 L892.0 743.5 L894.0 743.5 L896.0 743.5 L898.0 743.5 L900.0 743.5 L902.0 743.5 L904.0 743.5 L906.0 743.5 L908.0 743.5 L910.0 743.5 L912.0 743.5 L914.0 743.5 L916.0 743.5 L918.0 743.5 L920.0 743.5 L922.0 743.5 L924.0 743.5 L926.0 743.5 L928.0 743.5 L930.0 743.5 L932.0 743.5 L934.0 743.5 L936.0 743.5 L938.0 743.5 L940.0 743.5 L942.0 743.5 L944.0 743.5 L946.0 743.5 L948.0 743.5 L950.0 743.5 L952.0 743.5 L954.0 743.5 L956.0 743.5 L958.0 743.5 L960.0 743.5 L962.0 743.5 L964.0 743.5 L966.0 743.5 L968.0 743.5 L970.0 743.5 L972.0 743.5 L974.0 743.5 L976.0 743.5 L978.0 743.5 L980.0 743.5 L982.0 743.5 L984.0 743.5 L986.0 743.5 L988.0 743.5 L990.0 743.5 L992.0 743.5 L994.0 743.5 L996.0 743.5 L998.0 743.5 L1000.0 743.6 L1002.0 743.6 L1004.0 743.6 L1006.0 743.7 L1008.0 743.7 L1010.0 743.7 L1012.0 743.8 L1014.0 743.8 L1016.0 743.9 L1018.0 743.9 L1020.0 744.0 L1022.0 744.1 L1024.0 744.1 L1026.0 744.2 L1028.0 744.3 L1030.0 744.4 L1032.0 744.4 L1034.0 744.5 L1036.0 744.6 L1038.0 744.7 L1040.0 744.8 L1042.0 744.9 L1044.0 744.9 L1046.0 745.0 L1048.0 745.1 L1050.0 745.2 L1052.0 745.3 L1054.0 745.4 L1056.0 745.5 L1058.0 745.6 L1060.0 745.7 L1062.0 745.8 L1064.0 745.9 L1066.0 746.0 L1068.0 746.1 L1070.0 746.2 L1072.0 746.3 L1074.0 746.4 L1076.0 746.5 L1078.0 746.6 L1080.0 746.7 L1082.0 746.8 L1084.0 746.9 L1086.0 747.0 L1088.0 747.1 L1090.0 747.2 L1092.0 747.3 L1094.0 747.4 L1096.0 747.5 L1098.0 747.6 L1100.0 747.7 L1102.0 747.8 L1104.0 747.9 L1106.0 748.0 L1108.0 748.1 L1110.0 748.1 L1112.0 748.2 L1114.0 748.3 L1116.0 748.4 L1118.0 748.4 L1120.0 748.5 L1122.0 748.6 L1124.0 748.6 L1126.0 748.7 L1128.0 748.8 L1130.0 748.8 L1132.0 748.9 L1134.0 748.9 L1136.0 749.0 L1138.0 749.0 L1140.0 749.1 L1142.0 749.2 L1144.0 749.2 L1146.0 749.3 L1148.0 749.3 L1150.0 749.4 L1152.0 749.4 L1154.0 749.5 L1156.0 749.5 L1158.0 749.6 L1160.0 749.7 L1162.0 749.7 L1164.0 749.8 L1166.0 749.8 L1168.0 749.9 L1170.0 749.9 L1172.0 750.0 L1174.0 750.0 L1176.0 750.1 L1178.0 750.2 L1180.0 750.2 L1182.0 750.3 L1184.0 750.3 L1186.0 750.4 L1188.0 750.5 L1190.0 750.5 L1192.0 750.6 L1194.0 750.7 L1196.0 750.7 L1198.0 750.8 L1200.0 750.9 L1202.0 750.9 L1204.0 751.0 L1206.0 751.0 L1208.0 751.1 L1210.0 751.2 L1212.0 751.2 L1214.0 751.3 L1216.0 751.4 L1218.0 751.4 L1220.0 751.5 L1222.0 751.6 L1224.0 751.6 L1226.0 751.7 L1228.0 751.8 L1230.0 751.9 L1232.0 751.9 L1234.0 752.0 L1236.0 752.1 L1238.0 752.1 L1240.0 752.2 L1242.0 752.3 L1244.0 752.3 L1246.0 752.4 L1248.0 752.5 L1250.0 752.6 L1252.0 752.6 L1254.0 752.7 L1256.0 752.8 L1258.0 752.8 L1260.0 752.9 L1262.0 753.0 L1264.0 753.1 L1266.0 753.1 L1268.0 753.2 L1270.0 753.3 L1272.0 753.4 L1274.0 753.5 L1276.0 753.5 L1278.0 753.6 L1280.0 753.7 L1282.0 753.8 L1284.0 753.8 L1286.0 753.9 L1288.0 754.0 L1290.0 754.1 L1292.0 754.2 L1294.0 754.3 L1296.0 754.3 L1298.0 754.4 L1300.0 754.5 L1302.0 754.6 L1304.0 754.7 L1306.0 754.8 L1308.0 754.9 L1310.0 755.0 L1312.0 755.0 L1314.0 755.1 L1316.0 755.2 L1318.0 755.3 L1320.0 755.5 L1322.0 755.6 L1324.0 755.7 L1326.0 755.8 L1328.0 755.9 L1330.0 756.0 L1332.0 756.1 L1334.0 756.2 L1336.0 756.3 L1338.0 756.4 L1340.0 756.5 L1342.0 756.7 L1344.0 756.8 L1346.0 756.9 L1348.0 757.0 L1350.0 757.1 L1352.0 757.2 L1354.0 757.3 L1356.0 757.4 L1358.0 757.6 L1360.0 757.7 L1362.0 757.8 L1364.0 757.9 L1366.0 758.0 L1368.0 758.1 L1370.0 758.2 L1372.0 758.3 L1374.0 758.4 L1376.0 758.5 L1378.0 758.6 L1380.0 758.7 L1382.0 758.8 L1384.0 758.9 L1386.0 759.0 L1388.0 759.0 L1390.0 759.1 L1392.0 759.2 L1394.0 759.3 L1396.0 759.4 L1398.0 759.4 L1400.0 759.5 L1402.0 759.6 L1404.0 759.6 L1406.0 759.7 L1408.0 759.8 L1410.0 759.8 L1412.0 759.9 L1414.0 759.9 L1416.0 760.0 L1418.0 760.1 L1420.0 760.1 L1422.0 760.2 L1424.0 760.2 L1426.0 760.3 L1428.0 760.3 L1430.0 760.4 L1432.0 760.4 L1434.0 760.5 L1436.0 760.5 L1438.0 760.6 L1440.0 760.6 L1442.0 760.7 L1444.0 760.7 L1446.0 760.8 L1448.0 760.8 L1450.0 760.9 L1452.0 760.9 L1454.0 760.9 L1456.0 761.0 L1458.0 761.0 L1460.0 761.1 L1462.0 761.1 L1464.0 761.2 L1466.0 761.2 L1468.0 761.3 L1470.0 761.3 L1472.0 761.3 L1474.0 761.4 L1476.0 761.4 L1478.0 761.5 L1480.0 761.5 L1482.0 761.6 L1484.0 761.6 L1486.0 761.7 L1488.0 761.7 L1490.0 761.8 L1492.0 761.8 L1494.0 761.9 L1496.0 761.9 L1498.0 762.0 L1500.0 762.0 L1502.0 762.0 L1504.0 762.1 L1506.0 762.1 L1508.0 762.2 L1510.0 762.2 L1512.0 762.3 L1514.0 762.3 L1516.0 762.4 L1518.0 762.4 L1520.0 762.5 L1522.0 762.5 L1524.0 762.5 L1526.0 762.6 L1528.0 762.6 L1530.0 762.7 L1532.0 762.7 L1534.0 762.8 L1536.0 762.8 L1538.0 762.9 L1540.0 762.9 L1542.0 763.0 L1544.0 763.0 L1546.0 763.1 L1548.0 763.1 L1550.0 763.2 L1552.0 763.2 L1554.0 763.3 L1556.0 763.4 L1558.0 763.4 L1560.0 763.5 L1562.0 763.6 L1564.0 763.6 L1566.0 763.7 L1568.0 763.8 L1570.0 763.9 L1572.0 763.9 L1574.0 764.0 L1576.0 764.1 L1578.0 764.2 L1580.0 764.3 L1582.0 764.4 L1584.0 764.5 L1586.0 764.6 L1588.0 764.7 L1590.0 764.8 L1592.0 764.9 L1594.0 765.0 L1596.0 765.1 L1598.0 765.2 L1600.0 765.4 L1602.0 765.5 L1604.0 765.6 L1606.0 765.8 L1608.0 765.9 L1610.0 766.0 L1612.0 766.2 L1614.0 766.3 L1616.0 766.5 L1618.0 766.7 L1620.0 766.8 L1622.0 767.0 L1624.0 767.2 L1626.0 767.4 L1628.0 767.6 L1630.0 767.8 L1632.0 768.1 L1634.0 768.3 L1636.0 768.5 L1638.0 768.8 L1640.0 769.0 L1642.0 769.3 L1644.0 769.6 L1646.0 769.8 L1648.0 770.1 L1650.0 770.4 L1652.0 770.7 L1654.0 771.0 L1656.0 771.3 L1658.0 771.6 L1660.0 772.0 L1662.0 772.3 L1664.0 772.7 L1666.0 773.1 L1668.0 773.5 L1670.0 774.0 L1672.0 774.4 L1674.0 774.9 L1676.0 775.4 L1678.0 775.9 L1680.0 776.5 L1682.0 777.0 L1684.0 777.6 L1686.0 778.2 L1688.0 778.8 L1690.0 779.4 L1692.0 780.0 L1694.0 780.7 L1696.0 781.4 L1698.0 782.1 L1700.0 782.9 L1702.0 783.8 L1704.0 784.6 L1706.0 785.5 L1708.0 786.3 L1710.0 787.2 L1712.0 788.0 L1714.0 788.8 L1716.0 789.6 L1718.0 790.3 L1720.0 791.1 L1722.0 791.8 L1724.0 792.5 L1726.0 793.3 L1728.0 794.0 L1730.0 794.7 L1732.0 795.4 L1734.0 796.0 L1736.0 796.7 L1738.0 797.2 L1740.0 797.8 L1742.0 798.3 L1744.0 798.8 L1746.0 799.3 L1748.0 799.8 L1750.0 800.3 L1752.0 800.7 L1754.0 801.1 L1756.0 801.6 L1758.0 802.0 L1760.0 802.4 L1762.0 802.8 L1764.0 803.1 L1766.0 803.5 L1768.0 803.8 L1770.0 804.1 L1772.0 804.4 L1774.0 804.7 L1776.0 805.0 L1778.0 805.3 L1780.0 805.5 L1782.0 805.8 L1784.0 806.0 L1786.0 806.3 L1788.0 806.5 L1790.0 806.8 L1792.0 807.0 L1794.0 807.3 L1796.0 807.5 L1798.0 807.7 L1800.0 807.9 L1802.0 808.1 L1804.0 808.3 L1806.0 808.5 L1808.0 808.7 L1810.0 808.9 L1812.0 809.0 L1814.0 809.2 L1816.0 809.3 L1818.0 809.4 L1820.0 809.5 L1822.0 809.6 L1824.0 809.7 L1826.0 809.8 L1828.0 809.8 L1830.0 809.9 L1832.0 810.0 L1834.0 810.0 L1836.0 810.1 L1838.0 810.2 L1840.0 810.2 L1842.0 810.3 L1844.0 810.3 L1846.0 810.4 L1848.0 810.4 L1850.0 810.5 L1852.0 810.5 L1854.0 810.6 L1856.0 810.6 L1858.0 810.7 L1860.0 810.7 L1862.0 810.7 L1864.0 810.8 L1866.0 810.8 L1868.0 810.9 L1870.0 810.9 L1872.0 810.9 L1874.0 811.0 L1876.0 811.0 L1878.0 811.0 L1880.0 811.1 L1882.0 811.1 L1884.0 811.1 L1886.0 811.2 L1888.0 811.2 L1890.0 811.2 L1892.0 811.3 L1894.0 811.3 L1896.0 811.3 L1898.0 811.4 L1900.0 811.4 L1902.0 811.4 L1904.0 811.5 L1906.0 811.5 L1908.0 811.5 L1910.0 811.6 L1912.0 811.6 L1914.0 811.6 L1916.0 811.7 L1918.0 811.7 L1920.0 811.7 L1922.0 811.8 L1924.0 811.8 L1926.0 811.8 L1928.0 811.8 L1930.0 811.9 L1932.0 811.9 L1934.0 811.9 L1936.0 812.0 L1938.0 812.0 L1940.0 812.0 L1942.0 812.0 L1944.0 812.1 L1946.0 812.1 L1948.0 812.1 L1950.0 812.1 L1952.0 812.2 L1954.0 812.2 L1956.0 812.2 L1958.0 812.3 L1960.0 812.3 L1962.0 812.3 L1964.0 812.4 L1966.0 812.4 L1968.0 812.4 L1970.0 812.5 L1972.0 812.5 L1974.0 812.5 L1976.0 812.6 L1978.0 812.6 L1980.0 812.6 L1982.0 812.6 L1984.0 812.7 L1986.0 812.7 L1988.0 812.7 L1990.0 812.8 L1992.0 812.8 L1994.0 812.8 L1996.0 812.9 L1998.0 812.9 L2000.0 812.9 L2002.0 813.0 L2004.0 813.0 L2006.0 813.0 L2008.0 813.1 L2010.0 813.1 L2012.0 813.1 L2014.0 813.2 L2016.0 813.2 L2018.0 813.2 L2020.0 813.3 L2022.0 813.3 L2024.0 813.3 L2026.0 813.4 L2028.0 813.4 L2030.0 813.4 L2032.0 813.5 L2034.0 813.5 L2036.0 813.5 L2038.0 813.6 L2040.0 813.6 L2042.0 813.6 L2044.0 813.7 L2046.0 813.7 L2048.0 813.7 L2050.0 813.8 L2052.0 813.8 L2054.0 813.8 L2056.0 813.9 L2058.0 813.9 L2060.0 813.9 L2062.0 814.0 L2064.0 814.0 L2066.0 814.0 L2068.0 814.1 L2070.0 814.1 L2072.0 814.1 L2074.0 814.2 L2076.0 814.2 L2078.0 814.2 L2080.0 814.3 L2082.0 814.3 L2084.0 814.3 L2086.0 814.4 L2088.0 814.4 L2090.0 814.4 L2092.0 814.5 L2094.0 814.5" stroke="#7a3b3b" stroke-width="3.6"/>
<path d="M844.0 739.0 L846.0 739.0 L848.0 739.0 L850.0 739.0 L852.0 739.0 L854.0 739.0 L856.0 739.0 L858.0 739.0 L860.0 739.0 L862.0 739.0 L864.0 739.0 L866.0 739.0 L868.0 739.0 L870.0 739.0 L872.0 739.0 L874.0 739.0 L876.0 739.0 L878.0 739.0 L880.0 739.0 L882.0 739.0 L884.0 739.0 L886.0 739.0 L888.0 739.0 L890.0 739.0 L892.0 739.0 L894.0 739.0 L896.0 739.0 L898.0 739.0 L900.0 739.0 L902.0 739.0 L904.0 739.0 L906.0 739.0 L908.0 739.0 L910.0 739.0 L912.0 739.0 L914.0 739.0 L916.0 739.0 L918.0 739.0 L920.0 739.0 L922.0 738.9 L924.0 738.9 L926.0 738.9 L928.0 738.9 L930.0 738.9 L932.0 738.9 L934.0 738.9 L936.0 738.8 L938.0 738.8 L940.0 738.8 L942.0 738.8 L944.0 738.7 L946.0 738.7 L948.0 738.6 L950.0 738.6 L952.0 738.5 L954.0 738.5 L956.0 738.4 L958.0 738.3 L960.0 738.2 L962.0 738.1 L964.0 738.0 L966.0 737.9 L968.0 737.8 L970.0 737.6 L972.0 737.5 L974.0 737.3 L976.0 737.1 L978.0 736.9 L980.0 736.7 L982.0 736.4 L984.0 736.1 L986.0 735.9 L988.0 735.5 L990.0 735.2 L992.0 734.9 L994.0 734.5 L996.0 734.1 L998.0 733.7 L1000.0 733.2 L1002.0 732.8 L1004.0 732.3 L1006.0 731.8 L1008.0 731.3 L1010.0 730.7 L1012.0 730.1 L1014.0 729.5 L1016.0 728.9 L1018.0 728.3 L1020.0 727.6 L1022.0 727.0 L1024.0 726.3 L1026.0 725.6 L1028.0 724.9 L1030.0 724.1 L1032.0 723.4 L1034.0 722.7 L1036.0 721.9 L1038.0 721.2 L1040.0 720.5 L1042.0 719.7 L1044.0 719.0 L1046.0 718.3 L1048.0 717.6 L1050.0 717.0 L1052.0 716.4 L1054.0 715.8 L1056.0 715.2 L1058.0 714.6 L1060.0 714.2 L1062.0 713.7 L1064.0 713.3 L1066.0 712.9 L1068.0 712.6 L1070.0 712.4 L1072.0 712.2 L1074.0 712.0 L1076.0 711.9 L1078.0 711.9 L1080.0 711.9 L1082.0 712.0 L1084.0 712.2 L1086.0 712.5 L1088.0 712.8 L1090.0 713.2 L1092.0 713.7 L1094.0 714.3 L1096.0 715.0 L1098.0 715.7 L1100.0 716.5 L1102.0 717.3 L1104.0 718.2 L1106.0 719.1 L1108.0 720.1 L1110.0 721.1 L1112.0 722.1 L1114.0 723.1 L1116.0 724.2 L1118.0 725.2 L1120.0 726.3 L1122.0 727.3 L1124.0 728.3 L1126.0 729.4 L1128.0 730.4 L1130.0 731.3 L1132.0 732.3 L1134.0 733.2 L1136.0 734.1 L1138.0 734.9 L1140.0 735.8 L1142.0 736.5 L1144.0 737.3 L1146.0 738.0 L1148.0 738.7 L1150.0 739.3 L1152.0 739.9 L1154.0 740.4 L1156.0 740.9 L1158.0 741.4 L1160.0 741.8 L1162.0 742.3 L1164.0 742.6 L1166.0 743.0 L1168.0 743.3 L1170.0 743.6 L1172.0 743.9 L1174.0 744.1 L1176.0 744.4 L1178.0 744.6 L1180.0 744.8 L1182.0 745.0 L1184.0 745.1 L1186.0 745.3 L1188.0 745.5 L1190.0 745.6 L1192.0 745.7 L1194.0 745.8 L1196.0 746.0 L1198.0 746.1 L1200.0 746.2 L1202.0 746.3 L1204.0 746.3 L1206.0 746.4 L1208.0 746.5 L1210.0 746.6 L1212.0 746.7 L1214.0 746.8 L1216.0 746.8 L1218.0 746.9 L1220.0 747.0 L1222.0 747.1 L1224.0 747.1 L1226.0 747.2 L1228.0 747.3 L1230.0 747.3 L1232.0 747.4 L1234.0 747.5 L1236.0 747.6 L1238.0 747.6 L1240.0 747.7 L1242.0 747.8 L1244.0 747.8 L1246.0 747.9 L1248.0 748.0 L1250.0 748.1 L1252.0 748.1 L1254.0 748.2 L1256.0 748.3 L1258.0 748.3 L1260.0 748.4 L1262.0 748.5 L1264.0 748.6 L1266.0 748.6 L1268.0 748.7 L1270.0 748.8 L1272.0 748.9 L1274.0 749.0 L1276.0 749.0 L1278.0 749.1 L1280.0 749.2 L1282.0 749.3 L1284.0 749.3 L1286.0 749.4 L1288.0 749.5 L1290.0 749.6 L1292.0 749.7 L1294.0 749.8 L1296.0 749.8 L1298.0 749.9" stroke="#12c9d2" stroke-width="3.8"/>
<path d="M960.0 738.9 L962.0 738.9 L964.0 738.9 L966.0 738.9 L968.0 738.9 L970.0 738.9 L972.0 738.9 L974.0 738.9 L976.0 738.9 L978.0 738.9 L980.0 738.9 L982.0 738.8 L984.0 738.8 L986.0 738.8 L988.0 738.8 L990.0 738.8 L992.0 738.8 L994.0 738.8 L996.0 738.8 L998.0 738.9 L1000.0 738.9 L1002.0 738.9 L1004.0 738.9 L1006.0 739.0 L1008.0 739.0 L1010.0 739.0 L1012.0 739.1 L1014.0 739.1 L1016.0 739.2 L1018.0 739.2 L1020.0 739.3 L1022.0 739.3 L1024.0 739.4 L1026.0 739.5 L1028.0 739.5 L1030.0 739.6 L1032.0 739.7 L1034.0 739.7 L1036.0 739.8 L1038.0 739.9 L1040.0 740.0 L1042.0 740.0 L1044.0 740.1 L1046.0 740.2 L1048.0 740.3 L1050.0 740.4 L1052.0 740.5 L1054.0 740.5 L1056.0 740.6 L1058.0 740.7 L1060.0 740.8 L1062.0 740.9 L1064.0 741.0 L1066.0 741.0 L1068.0 741.1 L1070.0 741.2 L1072.0 741.2 L1074.0 741.3 L1076.0 741.4 L1078.0 741.4 L1080.0 741.5 L1082.0 741.5 L1084.0 741.5 L1086.0 741.6 L1088.0 741.6 L1090.0 741.6 L1092.0 741.5 L1094.0 741.5 L1096.0 741.5 L1098.0 741.4 L1100.0 741.3 L1102.0 741.2 L1104.0 741.1 L1106.0 741.0 L1108.0 740.8 L1110.0 740.6 L1112.0 740.4 L1114.0 740.1 L1116.0 739.9 L1118.0 739.6 L1120.0 739.2 L1122.0 738.9 L1124.0 738.5 L1126.0 738.1 L1128.0 737.6 L1130.0 737.2 L1132.0 736.7 L1134.0 736.1 L1136.0 735.6 L1138.0 735.0 L1140.0 734.5 L1142.0 733.9 L1144.0 733.3 L1146.0 732.7 L1148.0 732.1 L1150.0 731.5 L1152.0 730.9 L1154.0 730.4 L1156.0 729.8 L1158.0 729.3 L1160.0 728.8 L1162.0 728.3 L1164.0 727.9 L1166.0 727.6 L1168.0 727.2 L1170.0 727.0 L1172.0 726.8 L1174.0 726.7 L1176.0 726.6 L1178.0 726.7 L1180.0 726.8 L1182.0 726.9 L1184.0 727.2 L1186.0 727.5 L1188.0 727.8 L1190.0 728.3 L1192.0 728.7 L1194.0 729.3 L1196.0 729.9 L1198.0 730.5 L1200.0 731.1 L1202.0 731.8 L1204.0 732.5 L1206.0 733.2 L1208.0 733.9 L1210.0 734.6 L1212.0 735.3 L1214.0 736.0 L1216.0 736.7 L1218.0 737.4 L1220.0 738.1 L1222.0 738.8 L1224.0 739.4 L1226.0 740.1 L1228.0 740.7 L1230.0 741.2 L1232.0 741.8 L1234.0 742.3 L1236.0 742.8 L1238.0 743.3 L1240.0 743.7 L1242.0 744.1 L1244.0 744.5 L1246.0 744.9 L1248.0 745.2 L1250.0 745.6 L1252.0 745.9 L1254.0 746.1 L1256.0 746.4 L1258.0 746.6 L1260.0 746.9 L1262.0 747.1 L1264.0 747.3 L1266.0 747.5 L1268.0 747.6 L1270.0 747.8 L1272.0 748.0 L1274.0 748.1 L1276.0 748.3 L1278.0 748.4 L1280.0 748.5 L1282.0 748.6 L1284.0 748.8 L1286.0 748.9 L1288.0 749.0 L1290.0 749.1 L1292.0 749.2 L1294.0 749.3 L1296.0 749.4 L1298.0 749.5 L1300.0 749.6 L1302.0 749.7 L1304.0 749.8 L1306.0 749.9 L1308.0 750.0 L1310.0 750.1 L1312.0 750.2 L1314.0 750.3 L1316.0 750.4 L1318.0 750.6 L1320.0 750.7 L1322.0 750.8 L1324.0 750.9 L1326.0 751.0 L1328.0 751.1 L1330.0 751.2 L1332.0 751.4 L1334.0 751.5 L1336.0 751.6 L1338.0 751.7 L1340.0 751.8 L1342.0 751.9 L1344.0 752.1 L1346.0 752.2 L1348.0 752.3 L1350.0 752.4 L1352.0 752.5 L1354.0 752.6 L1356.0 752.8 L1358.0 752.9 L1360.0 753.0 L1362.0 753.1 L1364.0 753.2 L1366.0 753.3 L1368.0 753.4 L1370.0 753.5 L1372.0 753.6 L1374.0 753.7 L1376.0 753.8 L1378.0 753.9 L1380.0 754.0 L1382.0 754.1 L1384.0 754.2 L1386.0 754.3 L1388.0 754.4 L1390.0 754.5 L1392.0 754.6 L1394.0 754.7 L1396.0 754.7 L1398.0 754.8" stroke="#d9a00c" stroke-width="3.8"/>
<path d="M1050.0 740.6 L1052.0 740.7 L1054.0 740.8 L1056.0 740.9 L1058.0 741.0 L1060.0 741.1 L1062.0 741.2 L1064.0 741.3 L1066.0 741.4 L1068.0 741.5 L1070.0 741.6 L1072.0 741.7 L1074.0 741.8 L1076.0 741.9 L1078.0 742.0 L1080.0 742.1 L1082.0 742.2 L1084.0 742.3 L1086.0 742.4 L1088.0 742.5 L1090.0 742.6 L1092.0 742.7 L1094.0 742.8 L1096.0 742.8 L1098.0 742.9 L1100.0 743.0 L1102.0 743.1 L1104.0 743.2 L1106.0 743.3 L1108.0 743.3 L1110.0 743.4 L1112.0 743.5 L1114.0 743.6 L1116.0 743.6 L1118.0 743.7 L1120.0 743.7 L1122.0 743.8 L1124.0 743.9 L1126.0 743.9 L1128.0 744.0 L1130.0 744.0 L1132.0 744.1 L1134.0 744.1 L1136.0 744.2 L1138.0 744.2 L1140.0 744.2 L1142.0 744.3 L1144.0 744.3 L1146.0 744.4 L1148.0 744.4 L1150.0 744.4 L1152.0 744.4 L1154.0 744.5 L1156.0 744.5 L1158.0 744.5 L1160.0 744.5 L1162.0 744.5 L1164.0 744.5 L1166.0 744.5 L1168.0 744.5 L1170.0 744.4 L1172.0 744.4 L1174.0 744.4 L1176.0 744.3 L1178.0 744.2 L1180.0 744.1 L1182.0 744.0 L1184.0 743.9 L1186.0 743.8 L1188.0 743.6 L1190.0 743.5 L1192.0 743.3 L1194.0 743.1 L1196.0 742.9 L1198.0 742.6 L1200.0 742.3 L1202.0 742.0 L1204.0 741.7 L1206.0 741.4 L1208.0 741.0 L1210.0 740.7 L1212.0 740.3 L1214.0 739.8 L1216.0 739.4 L1218.0 738.9 L1220.0 738.5 L1222.0 738.0 L1224.0 737.5 L1226.0 737.1 L1228.0 736.6 L1230.0 736.1 L1232.0 735.6 L1234.0 735.2 L1236.0 734.7 L1238.0 734.3 L1240.0 733.9 L1242.0 733.6 L1244.0 733.2 L1246.0 733.0 L1248.0 732.7 L1250.0 732.5 L1252.0 732.4 L1254.0 732.3 L1256.0 732.3 L1258.0 732.3 L1260.0 732.5 L1262.0 732.6 L1264.0 732.8 L1266.0 733.1 L1268.0 733.5 L1270.0 733.8 L1272.0 734.3 L1274.0 734.7 L1276.0 735.2 L1278.0 735.8 L1280.0 736.4 L1282.0 736.9 L1284.0 737.5 L1286.0 738.2 L1288.0 738.8 L1290.0 739.4 L1292.0 740.1 L1294.0 740.7 L1296.0 741.3 L1298.0 741.9 L1300.0 742.5 L1302.0 743.1 L1304.0 743.7 L1306.0 744.2 L1308.0 744.8 L1310.0 745.3 L1312.0 745.8 L1314.0 746.3 L1316.0 746.7 L1318.0 747.2 L1320.0 747.6 L1322.0 748.0 L1324.0 748.4 L1326.0 748.7 L1328.0 749.1 L1330.0 749.4 L1332.0 749.7 L1334.0 750.0 L1336.0 750.2 L1338.0 750.5 L1340.0 750.7 L1342.0 751.0 L1344.0 751.2 L1346.0 751.4 L1348.0 751.6 L1350.0 751.8 L1352.0 752.0 L1354.0 752.1 L1356.0 752.3 L1358.0 752.4 L1360.0 752.6 L1362.0 752.7 L1364.0 752.9 L1366.0 753.0 L1368.0 753.1 L1370.0 753.3 L1372.0 753.4 L1374.0 753.5 L1376.0 753.6 L1378.0 753.7 L1380.0 753.9 L1382.0 754.0 L1384.0 754.1 L1386.0 754.2 L1388.0 754.3 L1390.0 754.4 L1392.0 754.4 L1394.0 754.5 L1396.0 754.6 L1398.0 754.7 L1400.0 754.8 L1402.0 754.8 L1404.0 754.9 L1406.0 755.0 L1408.0 755.0 L1410.0 755.1 L1412.0 755.2 L1414.0 755.2 L1416.0 755.3 L1418.0 755.4 L1420.0 755.4 L1422.0 755.5 L1424.0 755.5 L1426.0 755.6 L1428.0 755.7 L1430.0 755.7 L1432.0 755.8 L1434.0 755.8 L1436.0 755.9 L1438.0 755.9 L1440.0 756.0 L1442.0 756.0 L1444.0 756.1 L1446.0 756.1 L1448.0 756.2" stroke="#b066e6" stroke-width="3.8"/>
<path d="M1000.0 738.7 L1002.0 738.7 L1004.0 738.7 L1006.0 738.8 L1008.0 738.8 L1010.0 738.9 L1012.0 738.9 L1014.0 739.0 L1016.0 739.0 L1018.0 739.1 L1020.0 739.1 L1022.0 739.2 L1024.0 739.2 L1026.0 739.3 L1028.0 739.4 L1030.0 739.5 L1032.0 739.5 L1034.0 739.6 L1036.0 739.7 L1038.0 739.8 L1040.0 739.9 L1042.0 739.9 L1044.0 740.0 L1046.0 740.1 L1048.0 740.2 L1050.0 740.3 L1052.0 740.4 L1054.0 740.5 L1056.0 740.6 L1058.0 740.7 L1060.0 740.8 L1062.0 740.9 L1064.0 741.0 L1066.0 741.1 L1068.0 741.2 L1070.0 741.3 L1072.0 741.4 L1074.0 741.5 L1076.0 741.6 L1078.0 741.7 L1080.0 741.8 L1082.0 741.9 L1084.0 742.0 L1086.0 742.1 L1088.0 742.2 L1090.0 742.3 L1092.0 742.4 L1094.0 742.5 L1096.0 742.5 L1098.0 742.6 L1100.0 742.7 L1102.0 742.8 L1104.0 742.9 L1106.0 743.0 L1108.0 743.1 L1110.0 743.1 L1112.0 743.2 L1114.0 743.3 L1116.0 743.3 L1118.0 743.4 L1120.0 743.5 L1122.0 743.5 L1124.0 743.6 L1126.0 743.7 L1128.0 743.7 L1130.0 743.8 L1132.0 743.8 L1134.0 743.9 L1136.0 743.9 L1138.0 744.0 L1140.0 744.0 L1142.0 744.1 L1144.0 744.2 L1146.0 744.2 L1148.0 744.3 L1150.0 744.3 L1152.0 744.4 L1154.0 744.4 L1156.0 744.5 L1158.0 744.5 L1160.0 744.6 L1162.0 744.6 L1164.0 744.7 L1166.0 744.7 L1168.0 744.8 L1170.0 744.8 L1172.0 744.9 L1174.0 744.9 L1176.0 745.0 L1178.0 745.0 L1180.0 745.1 L1182.0 745.1 L1184.0 745.2 L1186.0 745.2 L1188.0 745.3 L1190.0 745.4 L1192.0 745.4 L1194.0 745.5 L1196.0 745.5 L1198.0 745.6 L1200.0 745.7 L1202.0 745.7 L1204.0 745.8 L1206.0 745.8 L1208.0 745.9 L1210.0 746.0 L1212.0 746.0 L1214.0 746.1 L1216.0 746.1 L1218.0 746.2 L1220.0 746.3 L1222.0 746.3 L1224.0 746.4 L1226.0 746.4 L1228.0 746.5 L1230.0 746.6 L1232.0 746.6 L1234.0 746.7 L1236.0 746.8 L1238.0 746.8 L1240.0 746.9 L1242.0 747.0 L1244.0 747.0 L1246.0 747.1 L1248.0 747.1 L1250.0 747.2 L1252.0 747.3 L1254.0 747.3 L1256.0 747.4 L1258.0 747.5 L1260.0 747.5 L1262.0 747.6 L1264.0 747.7 L1266.0 747.7 L1268.0 747.8 L1270.0 747.9 L1272.0 747.9 L1274.0 748.0 L1276.0 748.1 L1278.0 748.2 L1280.0 748.2 L1282.0 748.3 L1284.0 748.4 L1286.0 748.4 L1288.0 748.5 L1290.0 748.6 L1292.0 748.7 L1294.0 748.7 L1296.0 748.8 L1298.0 748.9 L1300.0 748.9 L1302.0 749.0 L1304.0 749.1 L1306.0 749.2 L1308.0 749.3 L1310.0 749.3 L1312.0 749.4 L1314.0 749.5 L1316.0 749.6 L1318.0 749.7 L1320.0 749.8 L1322.0 749.9 L1324.0 750.0 L1326.0 750.1 L1328.0 750.2 L1330.0 750.3 L1332.0 750.4 L1334.0 750.5 L1336.0 750.6 L1338.0 750.7 L1340.0 750.8 L1342.0 750.9 L1344.0 751.0 L1346.0 751.1 L1348.0 751.2 L1350.0 751.3 L1352.0 751.4 L1354.0 751.5 L1356.0 751.5 L1358.0 751.6 L1360.0 751.7 L1362.0 751.8 L1364.0 751.9 L1366.0 752.0 L1368.0 752.1 L1370.0 752.2 L1372.0 752.3 L1374.0 752.4 L1376.0 752.4 L1378.0 752.5 L1380.0 752.6 L1382.0 752.7 L1384.0 752.7 L1386.0 752.8 L1388.0 752.9 L1390.0 752.9 L1392.0 753.0 L1394.0 753.1 L1396.0 753.1 L1398.0 753.2 L1400.0 753.2 L1402.0 753.2 L1404.0 753.3 L1406.0 753.3 L1408.0 753.4 L1410.0 753.4 L1412.0 753.4 L1414.0 753.5 L1416.0 753.5 L1418.0 753.5 L1420.0 753.6 L1422.0 753.6 L1424.0 753.6 L1426.0 753.7 L1428.0 753.7 L1430.0 753.7 L1432.0 753.7 L1434.0 753.7 L1436.0 753.8 L1438.0 753.8 L1440.0 753.8 L1442.0 753.8 L1444.0 753.8 L1446.0 753.8 L1448.0 753.8 L1450.0 753.9 L1452.0 753.9 L1454.0 753.9 L1456.0 753.9 L1458.0 753.9 L1460.0 753.9 L1462.0 753.9 L1464.0 753.9 L1466.0 753.9 L1468.0 753.9 L1470.0 753.9 L1472.0 753.9 L1474.0 753.9 L1476.0 753.9 L1478.0 753.9 L1480.0 753.9 L1482.0 753.9 L1484.0 753.9 L1486.0 753.9 L1488.0 753.9 L1490.0 753.9 L1492.0 753.9 L1494.0 753.8 L1496.0 753.8 L1498.0 753.8 L1500.0 753.8 L1502.0 753.8 L1504.0 753.8 L1506.0 753.8 L1508.0 753.7 L1510.0 753.7 L1512.0 753.7 L1514.0 753.6 L1516.0 753.6 L1518.0 753.6 L1520.0 753.5 L1522.0 753.5 L1524.0 753.5 L1526.0 753.4 L1528.0 753.4 L1530.0 753.3 L1532.0 753.3 L1534.0 753.2 L1536.0 753.2 L1538.0 753.1 L1540.0 753.0 L1542.0 753.0 L1544.0 752.9 L1546.0 752.8 L1548.0 752.8 L1550.0 752.7 L1552.0 752.6 L1554.0 752.5 L1556.0 752.4 L1558.0 752.4 L1560.0 752.3 L1562.0 752.2 L1564.0 752.1 L1566.0 751.9 L1568.0 751.8 L1570.0 751.7 L1572.0 751.6 L1574.0 751.4 L1576.0 751.3 L1578.0 751.1 L1580.0 750.9 L1582.0 750.7 L1584.0 750.4 L1586.0 750.2 L1588.0 749.9 L1590.0 749.6 L1592.0 749.2 L1594.0 748.8 L1596.0 748.4 L1598.0 747.8 L1600.0 747.3 L1602.0 746.6 L1604.0 745.9 L1606.0 745.1 L1608.0 744.2 L1610.0 743.2 L1612.0 742.1 L1614.0 740.8 L1616.0 739.4 L1618.0 737.8 L1620.0 736.0 L1622.0 734.1 L1624.0 731.9 L1626.0 729.5 L1628.0 726.8 L1630.0 723.9 L1632.0 720.6 L1634.0 717.0 L1636.0 713.1 L1638.0 708.8 L1640.0 704.1 L1642.0 699.0 L1644.0 693.5 L1646.0 687.5 L1648.0 681.1 L1650.0 674.2 L1652.0 666.8 L1654.0 658.8 L1656.0 650.4 L1658.0 641.4 L1660.0 631.9 L1662.0 621.9 L1664.0 611.4 L1666.0 600.4 L1668.0 588.9 L1670.0 577.0 L1672.0 564.7 L1674.0 552.0 L1676.0 538.9 L1678.0 525.5 L1680.0 511.9 L1682.0 498.0 L1684.0 484.0 L1686.0 470.0 L1688.0 455.9 L1690.0 441.9 L1692.0 428.1 L1694.0 414.5 L1696.0 401.4 L1698.0 388.7 L1700.0 376.5 L1702.0 365.0 L1704.0 354.3 L1706.0 344.4 L1708.0 335.4 L1710.0 327.4 L1712.0 320.5 L1714.0 314.8 L1716.0 310.2 L1718.0 307.0 L1720.0 305.1 L1722.0 304.6 L1724.0 305.5 L1726.0 307.6 L1728.0 311.0 L1730.0 315.5 L1732.0 321.2 L1734.0 327.9 L1736.0 335.7 L1738.0 344.4 L1740.0 354.0 L1742.0 364.4 L1744.0 375.5 L1746.0 387.3 L1748.0 399.6 L1750.0 412.5 L1752.0 425.7 L1754.0 439.3 L1756.0 453.1 L1758.0 467.2 L1760.0 481.3 L1762.0 495.4 L1764.0 509.5 L1766.0 523.5 L1768.0 537.4 L1770.0 551.1 L1772.0 564.5 L1774.0 577.6 L1776.0 590.4 L1778.0 602.8 L1780.0 614.9 L1782.0 626.5 L1784.0 637.8 L1786.0 648.5 L1788.0 658.9 L1790.0 668.7 L1792.0 678.1 L1794.0 687.0 L1796.0 695.4 L1798.0 703.4 L1800.0 710.9 L1802.0 717.9 L1804.0 724.5 L1806.0 730.7 L1808.0 736.4 L1810.0 741.8 L1812.0 746.7 L1814.0 751.3 L1816.0 755.6 L1818.0 759.5 L1820.0 763.1 L1822.0 766.3 L1824.0 769.3 L1826.0 772.1 L1828.0 774.6 L1830.0 776.9 L1832.0 779.0 L1834.0 780.9 L1836.0 782.6 L1838.0 784.2 L1840.0 785.7 L1842.0 787.0 L1844.0 788.1 L1846.0 789.2 L1848.0 790.2 L1850.0 791.1 L1852.0 791.9 L1854.0 792.7 L1856.0 793.3 L1858.0 794.0 L1860.0 794.5 L1862.0 795.0 L1864.0 795.5 L1866.0 796.0 L1868.0 796.4 L1870.0 796.8 L1872.0 797.1 L1874.0 797.4 L1876.0 797.7 L1878.0 798.0 L1880.0 798.3 L1882.0 798.6 L1884.0 798.8 L1886.0 799.1 L1888.0 799.3 L1890.0 799.5 L1892.0 799.7 L1894.0 799.9 L1896.0 800.1 L1898.0 800.3 L1900.0 800.5 L1902.0 800.6 L1904.0 800.8 L1906.0 801.0 L1908.0 801.1 L1910.0 801.3 L1912.0 801.4 L1914.0 801.6 L1916.0 801.7 L1918.0 801.8 L1920.0 802.0 L1922.0 802.1 L1924.0 802.2 L1926.0 802.3 L1928.0 802.5 L1930.0 802.6 L1932.0 802.7 L1934.0 802.8 L1936.0 802.9 L1938.0 803.0 L1940.0 803.1 L1942.0 803.2 L1944.0 803.3 L1946.0 803.4 L1948.0 803.5 L1950.0 803.6 L1952.0 803.7 L1954.0 803.8 L1956.0 803.9 L1958.0 804.0 L1960.0 804.1 L1962.0 804.2 L1964.0 804.3 L1966.0 804.4 L1968.0 804.5 L1970.0 804.5 L1972.0 804.6 L1974.0 804.7 L1976.0 804.8 L1978.0 804.9 L1980.0 805.0 L1982.0 805.0 L1984.0 805.1 L1986.0 805.2 L1988.0 805.3 L1990.0 805.3 L1992.0 805.4 L1994.0 805.5 L1996.0 805.6 L1998.0 805.6 L2000.0 805.7 L2002.0 805.8 L2004.0 805.8 L2006.0 805.9 L2008.0 806.0 L2010.0 806.0 L2012.0 806.1 L2014.0 806.2 L2016.0 806.2 L2018.0 806.3 L2020.0 806.4 L2022.0 806.4 L2024.0 806.5 L2026.0 806.6 L2028.0 806.6 L2030.0 806.7 L2032.0 806.7 L2034.0 806.8 L2036.0 806.9 L2038.0 806.9 L2040.0 807.0 L2042.0 807.0 L2044.0 807.1 L2046.0 807.2 L2048.0 807.2 L2050.0 807.3 L2052.0 807.3 L2054.0 807.4 L2056.0 807.4 L2058.0 807.5 L2060.0 807.6 L2062.0 807.6 L2064.0 807.7 L2066.0 807.7 L2068.0 807.8 L2070.0 807.8 L2072.0 807.9 L2074.0 807.9 L2076.0 808.0 L2078.0 808.0 L2080.0 808.1 L2082.0 808.1 L2084.0 808.2 L2086.0 808.2 L2088.0 808.3 L2090.0 808.4 L2092.0 808.4 L2094.0 808.5" stroke="#f03a3a" stroke-width="3.8"/>
<path d="M1000.0 739.0 L1002.0 739.0 L1004.0 739.1 L1006.0 739.1 L1008.0 739.1 L1010.0 739.2 L1012.0 739.2 L1014.0 739.3 L1016.0 739.3 L1018.0 739.4 L1020.0 739.4 L1022.0 739.5 L1024.0 739.6 L1026.0 739.6 L1028.0 739.7 L1030.0 739.8 L1032.0 739.9 L1034.0 739.9 L1036.0 740.0 L1038.0 740.1 L1040.0 740.2 L1042.0 740.3 L1044.0 740.4 L1046.0 740.5 L1048.0 740.6 L1050.0 740.7 L1052.0 740.8 L1054.0 740.8 L1056.0 740.9 L1058.0 741.0 L1060.0 741.1 L1062.0 741.2 L1064.0 741.4 L1066.0 741.5 L1068.0 741.6 L1070.0 741.7 L1072.0 741.8 L1074.0 741.9 L1076.0 742.0 L1078.0 742.1 L1080.0 742.2 L1082.0 742.3 L1084.0 742.4 L1086.0 742.5 L1088.0 742.6 L1090.0 742.7 L1092.0 742.8 L1094.0 742.9 L1096.0 742.9 L1098.0 743.0 L1100.0 743.1 L1102.0 743.2 L1104.0 743.3 L1106.0 743.4 L1108.0 743.5 L1110.0 743.6 L1112.0 743.6 L1114.0 743.7 L1116.0 743.8 L1118.0 743.8 L1120.0 743.9 L1122.0 744.0 L1124.0 744.0 L1126.0 744.1 L1128.0 744.2 L1130.0 744.2 L1132.0 744.3 L1134.0 744.3 L1136.0 744.4 L1138.0 744.5 L1140.0 744.5 L1142.0 744.6 L1144.0 744.6 L1146.0 744.7 L1148.0 744.7 L1150.0 744.8 L1152.0 744.8 L1154.0 744.9 L1156.0 744.9 L1158.0 745.0 L1160.0 745.1 L1162.0 745.1 L1164.0 745.2 L1166.0 745.2 L1168.0 745.3 L1170.0 745.3 L1172.0 745.4 L1174.0 745.4 L1176.0 745.5 L1178.0 745.6 L1180.0 745.6 L1182.0 745.7 L1184.0 745.7 L1186.0 745.8 L1188.0 745.9 L1190.0 745.9 L1192.0 746.0 L1194.0 746.0 L1196.0 746.1 L1198.0 746.2 L1200.0 746.2 L1202.0 746.3 L1204.0 746.4 L1206.0 746.4 L1208.0 746.5 L1210.0 746.6 L1212.0 746.6 L1214.0 746.7 L1216.0 746.8 L1218.0 746.8 L1220.0 746.9 L1222.0 746.9 L1224.0 747.0 L1226.0 747.1 L1228.0 747.1 L1230.0 747.2 L1232.0 747.3 L1234.0 747.4 L1236.0 747.4 L1238.0 747.5 L1240.0 747.6 L1242.0 747.6 L1244.0 747.7 L1246.0 747.8 L1248.0 747.8 L1250.0 747.9 L1252.0 748.0 L1254.0 748.0 L1256.0 748.1 L1258.0 748.2 L1260.0 748.3 L1262.0 748.3 L1264.0 748.4 L1266.0 748.5 L1268.0 748.6 L1270.0 748.6 L1272.0 748.7 L1274.0 748.8 L1276.0 748.9 L1278.0 748.9 L1280.0 749.0 L1282.0 749.1 L1284.0 749.2 L1286.0 749.2 L1288.0 749.3 L1290.0 749.4 L1292.0 749.5 L1294.0 749.6 L1296.0 749.6 L1298.0 749.7 L1300.0 749.8 L1302.0 749.9 L1304.0 750.0 L1306.0 750.1 L1308.0 750.2 L1310.0 750.2 L1312.0 750.3 L1314.0 750.4 L1316.0 750.5 L1318.0 750.6 L1320.0 750.7 L1322.0 750.8 L1324.0 750.9 L1326.0 751.1 L1328.0 751.2 L1330.0 751.3 L1332.0 751.4 L1334.0 751.5 L1336.0 751.6 L1338.0 751.7 L1340.0 751.8 L1342.0 751.9 L1344.0 752.0 L1346.0 752.1 L1348.0 752.2 L1350.0 752.4 L1352.0 752.5 L1354.0 752.6 L1356.0 752.7 L1358.0 752.8 L1360.0 752.9 L1362.0 753.0 L1364.0 753.1 L1366.0 753.2 L1368.0 753.3 L1370.0 753.4 L1372.0 753.5 L1374.0 753.6 L1376.0 753.7 L1378.0 753.8 L1380.0 753.9 L1382.0 754.0 L1384.0 754.1 L1386.0 754.1 L1388.0 754.2 L1390.0 754.3 L1392.0 754.4 L1394.0 754.5 L1396.0 754.5 L1398.0 754.6 L1400.0 754.7 L1402.0 754.7 L1404.0 754.8 L1406.0 754.8 L1408.0 754.9 L1410.0 754.9 L1412.0 755.0 L1414.0 755.1 L1416.0 755.1 L1418.0 755.2 L1420.0 755.2 L1422.0 755.3 L1424.0 755.3 L1426.0 755.4 L1428.0 755.4 L1430.0 755.4 L1432.0 755.5 L1434.0 755.5 L1436.0 755.6 L1438.0 755.6 L1440.0 755.7 L1442.0 755.7 L1444.0 755.7 L1446.0 755.8 L1448.0 755.8 L1450.0 755.9 L1452.0 755.9 L1454.0 755.9 L1456.0 756.0 L1458.0 756.0 L1460.0 756.0 L1462.0 756.1 L1464.0 756.1 L1466.0 756.1 L1468.0 756.2 L1470.0 756.2 L1472.0 756.2 L1474.0 756.3 L1476.0 756.3 L1478.0 756.3 L1480.0 756.4 L1482.0 756.4 L1484.0 756.4 L1486.0 756.5 L1488.0 756.5 L1490.0 756.5 L1492.0 756.6 L1494.0 756.6 L1496.0 756.6 L1498.0 756.7 L1500.0 756.7 L1502.0 756.7 L1504.0 756.8 L1506.0 756.8 L1508.0 756.8 L1510.0 756.8 L1512.0 756.9 L1514.0 756.9 L1516.0 756.9 L1518.0 756.9 L1520.0 756.9 L1522.0 756.9 L1524.0 757.0 L1526.0 757.0 L1528.0 757.0 L1530.0 757.0 L1532.0 757.0 L1534.0 756.9 L1536.0 756.9 L1538.0 756.9 L1540.0 756.9 L1542.0 756.8 L1544.0 756.8 L1546.0 756.7 L1548.0 756.6 L1550.0 756.5 L1552.0 756.4 L1554.0 756.3 L1556.0 756.1 L1558.0 755.9 L1560.0 755.7 L1562.0 755.4 L1564.0 755.1 L1566.0 754.7 L1568.0 754.3 L1570.0 753.8 L1572.0 753.2 L1574.0 752.6 L1576.0 751.9 L1578.0 751.0 L1580.0 750.1 L1582.0 749.0 L1584.0 747.8 L1586.0 746.5 L1588.0 745.0 L1590.0 743.4 L1592.0 741.5 L1594.0 739.5 L1596.0 737.3 L1598.0 734.8 L1600.0 732.2 L1602.0 729.3 L1604.0 726.1 L1606.0 722.7 L1608.0 719.0 L1610.0 715.0 L1612.0 710.7 L1614.0 706.1 L1616.0 701.3 L1618.0 696.1 L1620.0 690.7 L1622.0 684.9 L1624.0 678.9 L1626.0 672.6 L1628.0 666.1 L1630.0 659.3 L1632.0 652.3 L1634.0 645.0 L1636.0 637.6 L1638.0 630.0 L1640.0 622.4 L1642.0 614.6 L1644.0 606.8 L1646.0 599.0 L1648.0 591.2 L1650.0 583.5 L1652.0 575.9 L1654.0 568.5 L1656.0 561.3 L1658.0 554.4 L1660.0 547.8 L1662.0 541.6 L1664.0 535.8 L1666.0 530.5 L1668.0 525.7 L1670.0 521.5 L1672.0 518.0 L1674.0 515.0 L1676.0 512.7 L1678.0 511.1 L1680.0 510.2 L1682.0 510.0 L1684.0 510.5 L1686.0 511.7 L1688.0 513.5 L1690.0 515.9 L1692.0 518.9 L1694.0 522.5 L1696.0 526.7 L1698.0 531.5 L1700.0 536.8 L1702.0 542.7 L1704.0 549.0 L1706.0 555.6 L1708.0 562.7 L1710.0 570.0 L1712.0 577.6 L1714.0 585.4 L1716.0 593.4 L1718.0 601.4 L1720.0 609.6 L1722.0 617.9 L1724.0 626.2 L1726.0 634.5 L1728.0 642.7 L1730.0 650.9 L1732.0 659.0 L1734.0 666.9 L1736.0 674.6 L1738.0 682.2 L1740.0 689.5 L1742.0 696.6 L1744.0 703.4 L1746.0 710.0 L1748.0 716.3 L1750.0 722.4 L1752.0 728.2 L1754.0 733.7 L1756.0 739.0 L1758.0 743.9 L1760.0 748.6 L1762.0 753.0 L1764.0 757.2 L1766.0 761.1 L1768.0 764.7 L1770.0 768.1 L1772.0 771.2 L1774.0 774.1 L1776.0 776.8 L1778.0 779.3 L1780.0 781.6 L1782.0 783.7 L1784.0 785.7 L1786.0 787.5 L1788.0 789.2 L1790.0 790.7 L1792.0 792.1 L1794.0 793.4 L1796.0 794.5 L1798.0 795.6 L1800.0 796.6 L1802.0 797.4 L1804.0 798.2 L1806.0 799.0 L1808.0 799.6 L1810.0 800.2 L1812.0 800.7 L1814.0 801.2 L1816.0 801.6 L1818.0 802.0 L1820.0 802.4 L1822.0 802.7 L1824.0 802.9 L1826.0 803.2 L1828.0 803.4 L1830.0 803.6 L1832.0 803.7 L1834.0 803.9 L1836.0 804.1 L1838.0 804.2 L1840.0 804.3 L1842.0 804.4 L1844.0 804.5 L1846.0 804.6 L1848.0 804.7 L1850.0 804.8 L1852.0 804.9 L1854.0 805.0 L1856.0 805.1 L1858.0 805.1 L1860.0 805.2 L1862.0 805.3 L1864.0 805.3 L1866.0 805.4 L1868.0 805.5 L1870.0 805.5 L1872.0 805.6 L1874.0 805.6 L1876.0 805.7 L1878.0 805.7 L1880.0 805.8 L1882.0 805.8 L1884.0 805.9 L1886.0 805.9 L1888.0 806.0 L1890.0 806.0 L1892.0 806.1 L1894.0 806.1 L1896.0 806.2 L1898.0 806.2 L1900.0 806.2 L1902.0 806.3 L1904.0 806.3 L1906.0 806.4 L1908.0 806.4 L1910.0 806.5 L1912.0 806.5 L1914.0 806.6 L1916.0 806.6 L1918.0 806.6 L1920.0 806.7 L1922.0 806.7 L1924.0 806.7 L1926.0 806.8 L1928.0 806.8 L1930.0 806.9 L1932.0 806.9 L1934.0 806.9 L1936.0 807.0 L1938.0 807.0 L1940.0 807.0 L1942.0 807.1 L1944.0 807.1 L1946.0 807.1 L1948.0 807.2 L1950.0 807.2 L1952.0 807.2 L1954.0 807.3 L1956.0 807.3 L1958.0 807.4 L1960.0 807.4 L1962.0 807.4 L1964.0 807.5 L1966.0 807.5 L1968.0 807.5 L1970.0 807.6 L1972.0 807.6 L1974.0 807.6 L1976.0 807.7 L1978.0 807.7 L1980.0 807.8 L1982.0 807.8 L1984.0 807.8 L1986.0 807.9 L1988.0 807.9 L1990.0 807.9 L1992.0 808.0 L1994.0 808.0 L1996.0 808.0 L1998.0 808.1 L2000.0 808.1 L2002.0 808.2 L2004.0 808.2 L2006.0 808.2 L2008.0 808.3 L2010.0 808.3 L2012.0 808.3 L2014.0 808.4 L2016.0 808.4 L2018.0 808.4 L2020.0 808.5 L2022.0 808.5 L2024.0 808.5 L2026.0 808.6 L2028.0 808.6 L2030.0 808.7 L2032.0 808.7 L2034.0 808.7 L2036.0 808.8 L2038.0 808.8 L2040.0 808.8 L2042.0 808.9 L2044.0 808.9 L2046.0 808.9 L2048.0 809.0 L2050.0 809.0 L2052.0 809.0 L2054.0 809.1 L2056.0 809.1 L2058.0 809.2 L2060.0 809.2 L2062.0 809.2 L2064.0 809.3 L2066.0 809.3 L2068.0 809.3 L2070.0 809.4 L2072.0 809.4 L2074.0 809.4 L2076.0 809.5 L2078.0 809.5 L2080.0 809.6 L2082.0 809.6 L2084.0 809.6 L2086.0 809.7 L2088.0 809.7 L2090.0 809.7 L2092.0 809.8 L2094.0 809.8" stroke="#1f6fe6" stroke-width="3.8"/>
<path d="M1000.0 739.1 L1002.0 739.1 L1004.0 739.1 L1006.0 739.2 L1008.0 739.2 L1010.0 739.2 L1012.0 739.3 L1014.0 739.3 L1016.0 739.4 L1018.0 739.4 L1020.0 739.5 L1022.0 739.6 L1024.0 739.6 L1026.0 739.7 L1028.0 739.8 L1030.0 739.9 L1032.0 739.9 L1034.0 740.0 L1036.0 740.1 L1038.0 740.2 L1040.0 740.3 L1042.0 740.4 L1044.0 740.4 L1046.0 740.5 L1048.0 740.6 L1050.0 740.7 L1052.0 740.8 L1054.0 740.9 L1056.0 741.0 L1058.0 741.1 L1060.0 741.2 L1062.0 741.3 L1064.0 741.4 L1066.0 741.5 L1068.0 741.6 L1070.0 741.7 L1072.0 741.8 L1074.0 741.9 L1076.0 742.0 L1078.0 742.1 L1080.0 742.2 L1082.0 742.3 L1084.0 742.4 L1086.0 742.5 L1088.0 742.6 L1090.0 742.7 L1092.0 742.8 L1094.0 742.9 L1096.0 743.0 L1098.0 743.1 L1100.0 743.2 L1102.0 743.3 L1104.0 743.4 L1106.0 743.5 L1108.0 743.6 L1110.0 743.6 L1112.0 743.7 L1114.0 743.8 L1116.0 743.9 L1118.0 743.9 L1120.0 744.0 L1122.0 744.1 L1124.0 744.1 L1126.0 744.2 L1128.0 744.3 L1130.0 744.3 L1132.0 744.4 L1134.0 744.4 L1136.0 744.5 L1138.0 744.5 L1140.0 744.6 L1142.0 744.7 L1144.0 744.7 L1146.0 744.8 L1148.0 744.8 L1150.0 744.9 L1152.0 744.9 L1154.0 745.0 L1156.0 745.0 L1158.0 745.1 L1160.0 745.2 L1162.0 745.2 L1164.0 745.3 L1166.0 745.3 L1168.0 745.4 L1170.0 745.4 L1172.0 745.5 L1174.0 745.5 L1176.0 745.6 L1178.0 745.7 L1180.0 745.7 L1182.0 745.8 L1184.0 745.8 L1186.0 745.9 L1188.0 746.0 L1190.0 746.0 L1192.0 746.1 L1194.0 746.2 L1196.0 746.2 L1198.0 746.3 L1200.0 746.4 L1202.0 746.4 L1204.0 746.5 L1206.0 746.5 L1208.0 746.6 L1210.0 746.7 L1212.0 746.7 L1214.0 746.8 L1216.0 746.9 L1218.0 746.9 L1220.0 747.0 L1222.0 747.1 L1224.0 747.1 L1226.0 747.2 L1228.0 747.3 L1230.0 747.4 L1232.0 747.4 L1234.0 747.5 L1236.0 747.6 L1238.0 747.6 L1240.0 747.7 L1242.0 747.8 L1244.0 747.8 L1246.0 747.9 L1248.0 748.0 L1250.0 748.1 L1252.0 748.1 L1254.0 748.2 L1256.0 748.3 L1258.0 748.3 L1260.0 748.4 L1262.0 748.5 L1264.0 748.6 L1266.0 748.6 L1268.0 748.7 L1270.0 748.8 L1272.0 748.9 L1274.0 749.0 L1276.0 749.0 L1278.0 749.1 L1280.0 749.2 L1282.0 749.3 L1284.0 749.3 L1286.0 749.4 L1288.0 749.5 L1290.0 749.6 L1292.0 749.7 L1294.0 749.8 L1296.0 749.8 L1298.0 749.9 L1300.0 750.0 L1302.0 750.1 L1304.0 750.2 L1306.0 750.3 L1308.0 750.4 L1310.0 750.4 L1312.0 750.5 L1314.0 750.6 L1316.0 750.7 L1318.0 750.8 L1320.0 751.0 L1322.0 751.1 L1324.0 751.2 L1326.0 751.3 L1328.0 751.4 L1330.0 751.5 L1332.0 751.6 L1334.0 751.7 L1336.0 751.8 L1338.0 751.9 L1340.0 752.0 L1342.0 752.2 L1344.0 752.3 L1346.0 752.4 L1348.0 752.5 L1350.0 752.6 L1352.0 752.7 L1354.0 752.8 L1356.0 752.9 L1358.0 753.0 L1360.0 753.1 L1362.0 753.3 L1364.0 753.4 L1366.0 753.5 L1368.0 753.6 L1370.0 753.7 L1372.0 753.8 L1374.0 753.9 L1376.0 753.9 L1378.0 754.0 L1380.0 754.1 L1382.0 754.2 L1384.0 754.3 L1386.0 754.4 L1388.0 754.4 L1390.0 754.5 L1392.0 754.6 L1394.0 754.6 L1396.0 754.7 L1398.0 754.7 L1400.0 754.8 L1402.0 754.8 L1404.0 754.8 L1406.0 754.9 L1408.0 754.9 L1410.0 754.9 L1412.0 754.9 L1414.0 754.9 L1416.0 754.9 L1418.0 754.9 L1420.0 754.9 L1422.0 754.8 L1424.0 754.8 L1426.0 754.8 L1428.0 754.7 L1430.0 754.6 L1432.0 754.5 L1434.0 754.4 L1436.0 754.3 L1438.0 754.2 L1440.0 754.1 L1442.0 753.9 L1444.0 753.7 L1446.0 753.5 L1448.0 753.3 L1450.0 753.1 L1452.0 752.8 L1454.0 752.6 L1456.0 752.2 L1458.0 751.9 L1460.0 751.6 L1462.0 751.2 L1464.0 750.7 L1466.0 750.3 L1468.0 749.8 L1470.0 749.3 L1472.0 748.7 L1474.0 748.1 L1476.0 747.5 L1478.0 746.8 L1480.0 746.1 L1482.0 745.4 L1484.0 744.6 L1486.0 743.7 L1488.0 742.9 L1490.0 741.9 L1492.0 741.0 L1494.0 739.9 L1496.0 738.9 L1498.0 737.8 L1500.0 736.6 L1502.0 735.4 L1504.0 734.1 L1506.0 732.9 L1508.0 731.5 L1510.0 730.1 L1512.0 728.7 L1514.0 727.2 L1516.0 725.7 L1518.0 724.1 L1520.0 722.5 L1522.0 720.9 L1524.0 719.3 L1526.0 717.6 L1528.0 715.9 L1530.0 714.1 L1532.0 712.4 L1534.0 710.6 L1536.0 708.9 L1538.0 707.1 L1540.0 705.3 L1542.0 703.6 L1544.0 701.8 L1546.0 700.0 L1548.0 698.3 L1550.0 696.6 L1552.0 694.9 L1554.0 693.3 L1556.0 691.7 L1558.0 690.1 L1560.0 688.6 L1562.0 687.1 L1564.0 685.8 L1566.0 684.4 L1568.0 683.2 L1570.0 682.0 L1572.0 680.9 L1574.0 679.8 L1576.0 678.9 L1578.0 678.0 L1580.0 677.3 L1582.0 676.6 L1584.0 676.0 L1586.0 675.6 L1588.0 675.2 L1590.0 675.0 L1592.0 674.8 L1594.0 674.8 L1596.0 674.8 L1598.0 675.0 L1600.0 675.4 L1602.0 675.9 L1604.0 676.5 L1606.0 677.2 L1608.0 678.1 L1610.0 679.2 L1612.0 680.3 L1614.0 681.6 L1616.0 683.0 L1618.0 684.5 L1620.0 686.1 L1622.0 687.9 L1624.0 689.7 L1626.0 691.6 L1628.0 693.6 L1630.0 695.7 L1632.0 697.8 L1634.0 700.0 L1636.0 702.2 L1638.0 704.5 L1640.0 706.8 L1642.0 709.2 L1644.0 711.5 L1646.0 713.9 L1648.0 716.3 L1650.0 718.7 L1652.0 721.0 L1654.0 723.4 L1656.0 725.7 L1658.0 728.0 L1660.0 730.3 L1662.0 732.6 L1664.0 734.8 L1666.0 737.1 L1668.0 739.3 L1670.0 741.4 L1672.0 743.6 L1674.0 745.7 L1676.0 747.7 L1678.0 749.7 L1680.0 751.7 L1682.0 753.6 L1684.0 755.5 L1686.0 757.3 L1688.0 759.0 L1690.0 760.8 L1692.0 762.4 L1694.0 764.1 L1696.0 765.7 L1698.0 767.4 L1700.0 769.0 L1702.0 770.6 L1704.0 772.2 L1706.0 773.7 L1708.0 775.2 L1710.0 776.6 L1712.0 778.0 L1714.0 779.3 L1716.0 780.6 L1718.0 781.7 L1720.0 782.8 L1722.0 783.9 L1724.0 785.0 L1726.0 786.0 L1728.0 787.0 L1730.0 788.0 L1732.0 788.9 L1734.0 789.8 L1736.0 790.6 L1738.0 791.3 L1740.0 792.1 L1742.0 792.7 L1744.0 793.3 L1746.0 793.9 L1748.0 794.5 L1750.0 795.1 L1752.0 795.6 L1754.0 796.1 L1756.0 796.6 L1758.0 797.1 L1760.0 797.5 L1762.0 797.9 L1764.0 798.4 L1766.0 798.7 L1768.0 799.1 L1770.0 799.5 L1772.0 799.8 L1774.0 800.1 L1776.0 800.4 L1778.0 800.7 L1780.0 800.9 L1782.0 801.2 L1784.0 801.5 L1786.0 801.7 L1788.0 802.0 L1790.0 802.3 L1792.0 802.5 L1794.0 802.7 L1796.0 803.0 L1798.0 803.2 L1800.0 803.4 L1802.0 803.6 L1804.0 803.8 L1806.0 804.0 L1808.0 804.2 L1810.0 804.3 L1812.0 804.5 L1814.0 804.6 L1816.0 804.8 L1818.0 804.9 L1820.0 805.0 L1822.0 805.1 L1824.0 805.2 L1826.0 805.3 L1828.0 805.3 L1830.0 805.4 L1832.0 805.5 L1834.0 805.5 L1836.0 805.6 L1838.0 805.7 L1840.0 805.7 L1842.0 805.8 L1844.0 805.8 L1846.0 805.9 L1848.0 805.9 L1850.0 806.0 L1852.0 806.0 L1854.0 806.1 L1856.0 806.1 L1858.0 806.2 L1860.0 806.2 L1862.0 806.2 L1864.0 806.3 L1866.0 806.3 L1868.0 806.4 L1870.0 806.4 L1872.0 806.4 L1874.0 806.5 L1876.0 806.5 L1878.0 806.5 L1880.0 806.6 L1882.0 806.6 L1884.0 806.6 L1886.0 806.7 L1888.0 806.7 L1890.0 806.7 L1892.0 806.8 L1894.0 806.8 L1896.0 806.8 L1898.0 806.9 L1900.0 806.9 L1902.0 806.9 L1904.0 807.0 L1906.0 807.0 L1908.0 807.0 L1910.0 807.1 L1912.0 807.1 L1914.0 807.1 L1916.0 807.2 L1918.0 807.2 L1920.0 807.2 L1922.0 807.3 L1924.0 807.3 L1926.0 807.3 L1928.0 807.3 L1930.0 807.4 L1932.0 807.4 L1934.0 807.4 L1936.0 807.5 L1938.0 807.5 L1940.0 807.5 L1942.0 807.5 L1944.0 807.6 L1946.0 807.6 L1948.0 807.6 L1950.0 807.6 L1952.0 807.7 L1954.0 807.7 L1956.0 807.7 L1958.0 807.8 L1960.0 807.8 L1962.0 807.8 L1964.0 807.9 L1966.0 807.9 L1968.0 807.9 L1970.0 808.0 L1972.0 808.0 L1974.0 808.0 L1976.0 808.1 L1978.0 808.1 L1980.0 808.1 L1982.0 808.1 L1984.0 808.2 L1986.0 808.2 L1988.0 808.2 L1990.0 808.3 L1992.0 808.3 L1994.0 808.3 L1996.0 808.4 L1998.0 808.4 L2000.0 808.4 L2002.0 808.5 L2004.0 808.5 L2006.0 808.5 L2008.0 808.6 L2010.0 808.6 L2012.0 808.6 L2014.0 808.7 L2016.0 808.7 L2018.0 808.7 L2020.0 808.8 L2022.0 808.8 L2024.0 808.8 L2026.0 808.9 L2028.0 808.9 L2030.0 808.9 L2032.0 809.0 L2034.0 809.0 L2036.0 809.0 L2038.0 809.1 L2040.0 809.1 L2042.0 809.1 L2044.0 809.2 L2046.0 809.2 L2048.0 809.2 L2050.0 809.3 L2052.0 809.3 L2054.0 809.3 L2056.0 809.4 L2058.0 809.4 L2060.0 809.4 L2062.0 809.5 L2064.0 809.5 L2066.0 809.5 L2068.0 809.6 L2070.0 809.6 L2072.0 809.6 L2074.0 809.7 L2076.0 809.7 L2078.0 809.7 L2080.0 809.8 L2082.0 809.8 L2084.0 809.8 L2086.0 809.9 L2088.0 809.9 L2090.0 809.9 L2092.0 810.0 L2094.0 810.0" stroke="#2ea860" stroke-width="3.8"/>
<path d="M844.0 739.0 L846.0 739.0 L848.0 739.0 L850.0 739.0 L852.0 739.0 L854.0 739.0 L856.0 739.0 L858.0 739.0 L860.0 739.0 L862.0 739.0 L864.0 739.0 L866.0 739.0 L868.0 739.0 L870.0 739.0 L872.0 739.0 L874.0 739.0 L876.0 739.0 L878.0 739.0 L880.0 739.0 L882.0 739.0 L884.0 739.0 L886.0 739.0 L888.0 739.0 L890.0 739.0 L892.0 739.0 L894.0 739.0 L896.0 739.0 L898.0 739.0 L900.0 739.0 L902.0 739.0 L904.0 739.0 L906.0 739.0 L908.0 739.0 L910.0 739.0 L912.0 739.0 L914.0 739.0 L916.0 739.0 L918.0 739.0 L920.0 739.0 L922.0 738.9 L924.0 738.9 L926.0 738.9 L928.0 738.9 L930.0 738.9 L932.0 738.9 L934.0 738.9 L936.0 738.8 L938.0 738.8 L940.0 738.8 L942.0 738.8 L944.0 738.7 L946.0 738.7 L948.0 738.6 L950.0 738.6 L952.0 738.5 L954.0 738.5 L956.0 738.4 L958.0 738.3 L960.0 738.2 L962.0 738.1 L964.0 738.0 L966.0 737.9 L968.0 737.8 L970.0 737.6 L972.0 737.5 L974.0 737.3 L976.0 737.1 L978.0 736.9 L980.0 736.7 L982.0 736.4 L984.0 736.1 L986.0 735.9 L988.0 735.5 L990.0 735.2 L992.0 734.9 L994.0 734.5 L996.0 734.1 L998.0 733.7 L1000.0 733.2 L1002.0 732.8 L1004.0 732.3 L1006.0 731.8 L1008.0 731.3 L1010.0 730.7 L1012.0 730.1 L1014.0 729.5 L1016.0 728.9 L1018.0 728.3 L1020.0 727.6 L1022.0 727.0 L1024.0 726.3 L1026.0 725.6 L1028.0 724.9 L1030.0 724.1 L1032.0 723.4 L1034.0 722.7 L1036.0 721.9 L1038.0 721.2 L1040.0 720.5 L1042.0 719.7 L1044.0 719.0 L1046.0 718.3 L1048.0 717.6 L1050.0 717.0 L1052.0 716.4 L1054.0 715.8 L1056.0 715.2 L1058.0 714.6 L1060.0 714.2 L1062.0 713.7 L1064.0 713.3 L1066.0 712.9 L1068.0 712.6 L1070.0 712.4 L1072.0 712.2 L1074.0 712.0 L1076.0 711.9 L1078.0 711.9 L1080.0 711.9 L1082.0 712.0 L1084.0 712.2 L1086.0 712.5 L1088.0 712.8 L1090.0 713.2 L1092.0 713.7 L1094.0 714.3 L1096.0 715.0 L1098.0 715.7 L1100.0 716.5 L1102.0 717.3 L1104.0 718.2 L1106.0 719.1 L1108.0 720.1 L1110.0 721.1 L1112.0 722.1 L1114.0 723.1 L1116.0 724.2 L1118.0 725.2 L1120.0 726.3 L1122.0 727.3 L1124.0 728.3 L1126.0 729.4 L1128.0 730.4 L1130.0 731.3 L1132.0 732.3 L1134.0 733.2 L1136.0 734.1 L1138.0 734.9" stroke="#12c9d2" stroke-width="3.8"/>
<path d="M1100.0 741.3 L1102.0 741.2 L1104.0 741.1 L1106.0 741.0 L1108.0 740.8 L1110.0 740.6 L1112.0 740.4 L1114.0 740.1 L1116.0 739.9 L1118.0 739.6 L1120.0 739.2 L1122.0 738.9 L1124.0 738.5 L1126.0 738.1 L1128.0 737.6 L1130.0 737.2 L1132.0 736.7 L1134.0 736.1 L1136.0 735.6 L1138.0 735.0 L1140.0 734.5 L1142.0 733.9 L1144.0 733.3 L1146.0 732.7 L1148.0 732.1 L1150.0 731.5 L1152.0 730.9 L1154.0 730.4 L1156.0 729.8 L1158.0 729.3 L1160.0 728.8 L1162.0 728.3 L1164.0 727.9 L1166.0 727.6 L1168.0 727.2 L1170.0 727.0 L1172.0 726.8 L1174.0 726.7 L1176.0 726.6 L1178.0 726.7 L1180.0 726.8 L1182.0 726.9 L1184.0 727.2 L1186.0 727.5 L1188.0 727.8 L1190.0 728.3 L1192.0 728.7 L1194.0 729.3 L1196.0 729.9 L1198.0 730.5 L1200.0 731.1 L1202.0 731.8 L1204.0 732.5 L1206.0 733.2 L1208.0 733.9 L1210.0 734.6 L1212.0 735.3 L1214.0 736.0 L1216.0 736.7 L1218.0 737.4 L1220.0 738.1 L1222.0 738.8 L1224.0 739.4 L1226.0 740.1 L1228.0 740.7" stroke="#d9a00c" stroke-width="3.8"/>
<path d="M1200.0 742.3 L1202.0 742.0 L1204.0 741.7 L1206.0 741.4 L1208.0 741.0 L1210.0 740.7 L1212.0 740.3 L1214.0 739.8 L1216.0 739.4 L1218.0 738.9 L1220.0 738.5 L1222.0 738.0 L1224.0 737.5 L1226.0 737.1 L1228.0 736.6 L1230.0 736.1 L1232.0 735.6 L1234.0 735.2 L1236.0 734.7 L1238.0 734.3 L1240.0 733.9 L1242.0 733.6 L1244.0 733.2 L1246.0 733.0 L1248.0 732.7 L1250.0 732.5 L1252.0 732.4 L1254.0 732.3 L1256.0 732.3 L1258.0 732.3 L1260.0 732.5 L1262.0 732.6 L1264.0 732.8 L1266.0 733.1 L1268.0 733.5 L1270.0 733.8 L1272.0 734.3 L1274.0 734.7 L1276.0 735.2 L1278.0 735.8 L1280.0 736.4 L1282.0 736.9 L1284.0 737.5 L1286.0 738.2 L1288.0 738.8 L1290.0 739.4 L1292.0 740.1 L1294.0 740.7 L1296.0 741.3 L1298.0 741.9 L1300.0 742.5 L1302.0 743.1 L1304.0 743.7 L1306.0 744.2 L1308.0 744.8 L1310.0 745.3 L1312.0 745.8 L1314.0 746.3 L1316.0 746.7 L1318.0 747.2 L1320.0 747.6 L1322.0 748.0 L1324.0 748.4 L1326.0 748.7 L1328.0 749.1" stroke="#b066e6" stroke-width="3.8"/>
<path d="M1640.0 622.4 L1642.0 614.6 L1644.0 606.8 L1646.0 599.0 L1648.0 591.2 L1650.0 583.5 L1652.0 575.9 L1654.0 568.5 L1656.0 561.3 L1658.0 554.4 L1660.0 547.8 L1662.0 541.6 L1664.0 535.8 L1666.0 530.5 L1668.0 525.7 L1670.0 521.5 L1672.0 518.0 L1674.0 515.0 L1676.0 512.7 L1678.0 511.1 L1680.0 510.2 L1682.0 510.0 L1684.0 510.5 L1686.0 511.7 L1688.0 513.5 L1690.0 515.9 L1692.0 518.9 L1694.0 522.5 L1696.0 526.7 L1698.0 531.5 L1700.0 536.8 L1702.0 542.7 L1704.0 549.0 L1706.0 555.6 L1708.0 562.7 L1710.0 570.0 L1712.0 577.6 L1714.0 585.4 L1716.0 593.4 L1718.0 601.4 L1720.0 609.6 L1722.0 617.9 L1724.0 626.2 L1726.0 634.5 L1728.0 642.7 L1730.0 650.9 L1732.0 659.0 L1734.0 666.9 L1736.0 674.6 L1738.0 682.2 L1740.0 689.5 L1742.0 696.6 L1744.0 703.4 L1746.0 710.0 L1748.0 716.3 L1750.0 722.4 L1752.0 728.2 L1754.0 733.7 L1756.0 739.0 L1758.0 743.9 L1760.0 748.6 L1762.0 753.0 L1764.0 757.2 L1766.0 761.1 L1768.0 764.7 L1770.0 768.1 L1772.0 771.2 L1774.0 774.1 L1776.0 776.8 L1778.0 779.3 L1780.0 781.6 L1782.0 783.7 L1784.0 785.7 L1786.0 787.5 L1788.0 789.2 L1790.0 790.7 L1792.0 792.1 L1794.0 793.4 L1796.0 794.5 L1798.0 795.6" stroke="#1f6fe6" stroke-width="3.8"/>
<path d="M1700.0 376.5 L1702.0 365.0 L1704.0 354.3 L1706.0 344.4 L1708.0 335.4 L1710.0 327.4 L1712.0 320.5 L1714.0 314.8 L1716.0 310.2 L1718.0 307.0 L1720.0 305.1 L1722.0 304.6 L1724.0 305.5 L1726.0 307.6 L1728.0 311.0 L1730.0 315.5 L1732.0 321.2 L1734.0 327.9 L1736.0 335.7 L1738.0 344.4 L1740.0 354.0 L1742.0 364.4 L1744.0 375.5 L1746.0 387.3 L1748.0 399.6 L1750.0 412.5 L1752.0 425.7 L1754.0 439.3 L1756.0 453.1 L1758.0 467.2 L1760.0 481.3 L1762.0 495.4 L1764.0 509.5 L1766.0 523.5 L1768.0 537.4 L1770.0 551.1 L1772.0 564.5 L1774.0 577.6 L1776.0 590.4 L1778.0 602.8 L1780.0 614.9 L1782.0 626.5 L1784.0 637.8 L1786.0 648.5 L1788.0 658.9 L1790.0 668.7 L1792.0 678.1 L1794.0 687.0 L1796.0 695.4 L1798.0 703.4 L1800.0 710.9 L1802.0 717.9 L1804.0 724.5 L1806.0 730.7 L1808.0 736.4 L1810.0 741.8 L1812.0 746.7 L1814.0 751.3 L1816.0 755.6 L1818.0 759.5 L1820.0 763.1 L1822.0 766.3 L1824.0 769.3 L1826.0 772.1 L1828.0 774.6 L1830.0 776.9 L1832.0 779.0 L1834.0 780.9 L1836.0 782.6 L1838.0 784.2 L1840.0 785.7 L1842.0 787.0 L1844.0 788.1 L1846.0 789.2 L1848.0 790.2 L1850.0 791.1 L1852.0 791.9 L1854.0 792.7 L1856.0 793.3 L1858.0 794.0 L1860.0 794.5 L1862.0 795.0 L1864.0 795.5 L1866.0 796.0 L1868.0 796.4 L1870.0 796.8 L1872.0 797.1 L1874.0 797.4 L1876.0 797.7 L1878.0 798.0 L1880.0 798.3 L1882.0 798.6 L1884.0 798.8 L1886.0 799.1 L1888.0 799.3 L1890.0 799.5 L1892.0 799.7 L1894.0 799.9 L1896.0 800.1 L1898.0 800.3 L1900.0 800.5 L1902.0 800.6 L1904.0 800.8 L1906.0 801.0 L1908.0 801.1 L1910.0 801.3 L1912.0 801.4 L1914.0 801.6 L1916.0 801.7 L1918.0 801.8 L1920.0 802.0 L1922.0 802.1 L1924.0 802.2 L1926.0 802.3 L1928.0 802.5 L1930.0 802.6 L1932.0 802.7 L1934.0 802.8 L1936.0 802.9 L1938.0 803.0 L1940.0 803.1 L1942.0 803.2 L1944.0 803.3 L1946.0 803.4 L1948.0 803.5 L1950.0 803.6 L1952.0 803.7 L1954.0 803.8 L1956.0 803.9 L1958.0 804.0 L1960.0 804.1 L1962.0 804.2 L1964.0 804.3 L1966.0 804.4 L1968.0 804.5 L1970.0 804.5 L1972.0 804.6 L1974.0 804.7 L1976.0 804.8 L1978.0 804.9 L1980.0 805.0 L1982.0 805.0 L1984.0 805.1 L1986.0 805.2 L1988.0 805.3 L1990.0 805.3 L1992.0 805.4 L1994.0 805.5 L1996.0 805.6 L1998.0 805.6 L2000.0 805.7 L2002.0 805.8 L2004.0 805.8 L2006.0 805.9 L2008.0 806.0 L2010.0 806.0 L2012.0 806.1 L2014.0 806.2 L2016.0 806.2 L2018.0 806.3 L2020.0 806.4 L2022.0 806.4 L2024.0 806.5 L2026.0 806.6 L2028.0 806.6 L2030.0 806.7 L2032.0 806.7 L2034.0 806.8 L2036.0 806.9 L2038.0 806.9 L2040.0 807.0 L2042.0 807.0 L2044.0 807.1 L2046.0 807.2 L2048.0 807.2 L2050.0 807.3 L2052.0 807.3 L2054.0 807.4 L2056.0 807.4 L2058.0 807.5 L2060.0 807.6 L2062.0 807.6 L2064.0 807.7 L2066.0 807.7 L2068.0 807.8 L2070.0 807.8 L2072.0 807.9 L2074.0 807.9 L2076.0 808.0 L2078.0 808.0 L2080.0 808.1 L2082.0 808.1 L2084.0 808.2 L2086.0 808.2 L2088.0 808.3 L2090.0 808.4 L2092.0 808.4 L2094.0 808.5" stroke="#f03a3a" stroke-width="3.8"/>
<path d="M844.0 1573.0 L846.0 1573.0 L848.0 1573.0 L850.0 1573.0 L852.0 1573.0 L854.0 1573.0 L856.0 1573.0 L858.0 1573.1 L860.0 1573.1 L862.0 1573.1 L864.0 1573.1 L866.0 1573.1 L868.0 1573.1 L870.0 1573.1 L872.0 1573.2 L874.0 1573.2 L876.0 1573.2 L878.0 1573.2 L880.0 1573.2 L882.0 1573.2 L884.0 1573.3 L886.0 1573.3 L888.0 1573.3 L890.0 1573.3 L892.0 1573.3 L894.0 1573.4 L896.0 1573.4 L898.0 1573.4 L900.0 1573.4 L902.0 1573.5 L904.0 1573.5 L906.0 1573.5 L908.0 1573.5 L910.0 1573.6 L912.0 1573.6 L914.0 1573.6 L916.0 1573.7 L918.0 1573.7 L920.0 1573.7 L922.0 1573.7 L924.0 1573.8 L926.0 1573.8 L928.0 1573.8 L930.0 1573.9 L932.0 1573.9 L934.0 1573.9 L936.0 1573.9 L938.0 1574.0 L940.0 1574.0 L942.0 1574.0 L944.0 1574.1 L946.0 1574.1 L948.0 1574.1 L950.0 1574.2 L952.0 1574.2 L954.0 1574.3 L956.0 1574.3 L958.0 1574.3 L960.0 1574.4 L962.0 1574.4 L964.0 1574.5 L966.0 1574.5 L968.0 1574.6 L970.0 1574.6 L972.0 1574.7 L974.0 1574.7 L976.0 1574.8 L978.0 1574.8 L980.0 1574.9 L982.0 1575.0 L984.0 1575.0 L986.0 1575.1 L988.0 1575.1 L990.0 1575.2 L992.0 1575.3 L994.0 1575.3 L996.0 1575.4 L998.0 1575.5 L1000.0 1575.5 L1002.0 1575.6 L1004.0 1575.7 L1006.0 1575.7 L1008.0 1575.8 L1010.0 1575.9 L1012.0 1576.0 L1014.0 1576.0 L1016.0 1576.1 L1018.0 1576.2 L1020.0 1576.3 L1022.0 1576.3 L1024.0 1576.4 L1026.0 1576.5 L1028.0 1576.6 L1030.0 1576.6 L1032.0 1576.7 L1034.0 1576.8 L1036.0 1576.9 L1038.0 1577.0 L1040.0 1577.0 L1042.0 1577.1 L1044.0 1577.2 L1046.0 1577.3 L1048.0 1577.4 L1050.0 1577.4 L1052.0 1577.5 L1054.0 1577.6 L1056.0 1577.7 L1058.0 1577.8 L1060.0 1577.9 L1062.0 1577.9 L1064.0 1578.0 L1066.0 1578.1 L1068.0 1578.2 L1070.0 1578.3 L1072.0 1578.4 L1074.0 1578.4 L1076.0 1578.5 L1078.0 1578.6 L1080.0 1578.7 L1082.0 1578.8 L1084.0 1578.9 L1086.0 1578.9 L1088.0 1579.0 L1090.0 1579.1 L1092.0 1579.2 L1094.0 1579.3 L1096.0 1579.4 L1098.0 1579.4 L1100.0 1579.5 L1102.0 1579.6 L1104.0 1579.7 L1106.0 1579.8 L1108.0 1579.8 L1110.0 1579.9 L1112.0 1580.0 L1114.0 1580.1 L1116.0 1580.2 L1118.0 1580.2 L1120.0 1580.3 L1122.0 1580.4 L1124.0 1580.5 L1126.0 1580.5 L1128.0 1580.6 L1130.0 1580.7 L1132.0 1580.8 L1134.0 1580.8 L1136.0 1580.9 L1138.0 1581.0 L1140.0 1581.0 L1142.0 1581.1 L1144.0 1581.2 L1146.0 1581.2 L1148.0 1581.3 L1150.0 1581.4 L1152.0 1581.4 L1154.0 1581.5 L1156.0 1581.6 L1158.0 1581.7 L1160.0 1581.7 L1162.0 1581.8 L1164.0 1581.9 L1166.0 1581.9 L1168.0 1582.0 L1170.0 1582.1 L1172.0 1582.1 L1174.0 1582.2 L1176.0 1582.3 L1178.0 1582.3 L1180.0 1582.4 L1182.0 1582.5 L1184.0 1582.5 L1186.0 1582.6 L1188.0 1582.7 L1190.0 1582.7 L1192.0 1582.8 L1194.0 1582.9 L1196.0 1583.0 L1198.0 1583.0 L1200.0 1583.1 L1202.0 1583.2 L1204.0 1583.2 L1206.0 1583.3 L1208.0 1583.4 L1210.0 1583.4 L1212.0 1583.5 L1214.0 1583.6 L1216.0 1583.6 L1218.0 1583.7 L1220.0 1583.8 L1222.0 1583.8 L1224.0 1583.9 L1226.0 1584.0 L1228.0 1584.0 L1230.0 1584.1 L1232.0 1584.2 L1234.0 1584.2 L1236.0 1584.3 L1238.0 1584.4 L1240.0 1584.4 L1242.0 1584.5 L1244.0 1584.6 L1246.0 1584.7 L1248.0 1584.7 L1250.0 1584.8 L1252.0 1584.9 L1254.0 1584.9 L1256.0 1585.0 L1258.0 1585.1 L1260.0 1585.1 L1262.0 1585.2 L1264.0 1585.3 L1266.0 1585.3 L1268.0 1585.4 L1270.0 1585.5 L1272.0 1585.5 L1274.0 1585.6 L1276.0 1585.7 L1278.0 1585.7 L1280.0 1585.8 L1282.0 1585.9 L1284.0 1585.9 L1286.0 1586.0 L1288.0 1586.1 L1290.0 1586.2 L1292.0 1586.2 L1294.0 1586.3 L1296.0 1586.4 L1298.0 1586.4 L1300.0 1586.5 L1302.0 1586.6 L1304.0 1586.6 L1306.0 1586.7 L1308.0 1586.8 L1310.0 1586.9 L1312.0 1586.9 L1314.0 1587.0 L1316.0 1587.1 L1318.0 1587.1 L1320.0 1587.2 L1322.0 1587.3 L1324.0 1587.4 L1326.0 1587.4 L1328.0 1587.5 L1330.0 1587.6 L1332.0 1587.7 L1334.0 1587.7 L1336.0 1587.8 L1338.0 1587.9 L1340.0 1588.0 L1342.0 1588.0 L1344.0 1588.1 L1346.0 1588.2 L1348.0 1588.2 L1350.0 1588.3 L1352.0 1588.4 L1354.0 1588.5 L1356.0 1588.5 L1358.0 1588.6 L1360.0 1588.7 L1362.0 1588.8 L1364.0 1588.8 L1366.0 1588.9 L1368.0 1589.0 L1370.0 1589.0 L1372.0 1589.1 L1374.0 1589.2 L1376.0 1589.2 L1378.0 1589.3 L1380.0 1589.4 L1382.0 1589.4 L1384.0 1589.5 L1386.0 1589.6 L1388.0 1589.6 L1390.0 1589.7 L1392.0 1589.8 L1394.0 1589.8 L1396.0 1589.9 L1398.0 1589.9 L1400.0 1590.0 L1402.0 1590.1 L1404.0 1590.1 L1406.0 1590.2 L1408.0 1590.2 L1410.0 1590.3 L1412.0 1590.3 L1414.0 1590.4 L1416.0 1590.5 L1418.0 1590.5 L1420.0 1590.6 L1422.0 1590.6 L1424.0 1590.7 L1426.0 1590.7 L1428.0 1590.8 L1430.0 1590.9 L1432.0 1590.9 L1434.0 1591.0 L1436.0 1591.0 L1438.0 1591.1 L1440.0 1591.1 L1442.0 1591.2 L1444.0 1591.2 L1446.0 1591.3 L1448.0 1591.3 L1450.0 1591.4 L1452.0 1591.4 L1454.0 1591.5 L1456.0 1591.5 L1458.0 1591.6 L1460.0 1591.6 L1462.0 1591.7 L1464.0 1591.7 L1466.0 1591.8 L1468.0 1591.8 L1470.0 1591.9 L1472.0 1591.9 L1474.0 1592.0 L1476.0 1592.0 L1478.0 1592.1 L1480.0 1592.1 L1482.0 1592.1 L1484.0 1592.2 L1486.0 1592.2 L1488.0 1592.3 L1490.0 1592.3 L1492.0 1592.3 L1494.0 1592.4 L1496.0 1592.4 L1498.0 1592.5 L1500.0 1592.5 L1502.0 1592.5 L1504.0 1592.6 L1506.0 1592.6 L1508.0 1592.6 L1510.0 1592.7 L1512.0 1592.7 L1514.0 1592.7 L1516.0 1592.8 L1518.0 1592.8 L1520.0 1592.8 L1522.0 1592.8 L1524.0 1592.9 L1526.0 1592.9 L1528.0 1592.9 L1530.0 1592.9 L1532.0 1593.0 L1534.0 1593.0 L1536.0 1593.0 L1538.0 1593.0 L1540.0 1593.1 L1542.0 1593.1 L1544.0 1593.1 L1546.0 1593.2 L1548.0 1593.2 L1550.0 1593.2 L1552.0 1593.2 L1554.0 1593.3 L1556.0 1593.3 L1558.0 1593.4 L1560.0 1593.4 L1562.0 1593.4 L1564.0 1593.5 L1566.0 1593.5 L1568.0 1593.6 L1570.0 1593.6 L1572.0 1593.7 L1574.0 1593.7 L1576.0 1593.8 L1578.0 1593.9 L1580.0 1593.9 L1582.0 1594.0 L1584.0 1594.0 L1586.0 1594.1 L1588.0 1594.2 L1590.0 1594.2 L1592.0 1594.3 L1594.0 1594.4 L1596.0 1594.5 L1598.0 1594.5 L1600.0 1594.6 L1602.0 1594.7 L1604.0 1594.8 L1606.0 1594.9 L1608.0 1594.9 L1610.0 1595.0 L1612.0 1595.1 L1614.0 1595.2 L1616.0 1595.3 L1618.0 1595.4 L1620.0 1595.5 L1622.0 1595.6 L1624.0 1595.7 L1626.0 1595.8 L1628.0 1595.9 L1630.0 1596.1 L1632.0 1596.2 L1634.0 1596.3 L1636.0 1596.4 L1638.0 1596.6 L1640.0 1596.7 L1642.0 1596.9 L1644.0 1597.0 L1646.0 1597.2 L1648.0 1597.3 L1650.0 1597.5 L1652.0 1597.7 L1654.0 1597.8 L1656.0 1598.0 L1658.0 1598.2 L1660.0 1598.4 L1662.0 1598.6 L1664.0 1598.8 L1666.0 1599.1 L1668.0 1599.3 L1670.0 1599.6 L1672.0 1599.8 L1674.0 1600.1 L1676.0 1600.4 L1678.0 1600.7 L1680.0 1601.1 L1682.0 1601.4 L1684.0 1601.8 L1686.0 1602.1 L1688.0 1602.5 L1690.0 1602.9 L1692.0 1603.3 L1694.0 1603.7 L1696.0 1604.2 L1698.0 1604.8 L1700.0 1605.4 L1702.0 1606.0 L1704.0 1606.6 L1706.0 1607.3 L1708.0 1607.9 L1710.0 1608.6 L1712.0 1609.2 L1714.0 1609.9 L1716.0 1610.5 L1718.0 1611.0 L1720.0 1611.6 L1722.0 1612.2 L1724.0 1612.8 L1726.0 1613.4 L1728.0 1614.0 L1730.0 1614.6 L1732.0 1615.1 L1734.0 1615.7 L1736.0 1616.2 L1738.0 1616.6 L1740.0 1617.0 L1742.0 1617.4 L1744.0 1617.7 L1746.0 1618.0 L1748.0 1618.4 L1750.0 1618.7 L1752.0 1618.9 L1754.0 1619.2 L1756.0 1619.5 L1758.0 1619.7 L1760.0 1620.0 L1762.0 1620.2 L1764.0 1620.4 L1766.0 1620.6 L1768.0 1620.8 L1770.0 1621.0 L1772.0 1621.2 L1774.0 1621.4 L1776.0 1621.5 L1778.0 1621.7 L1780.0 1621.8 L1782.0 1621.9 L1784.0 1622.1 L1786.0 1622.2 L1788.0 1622.3 L1790.0 1622.5 L1792.0 1622.6 L1794.0 1622.7 L1796.0 1622.8 L1798.0 1622.9 L1800.0 1623.0 L1802.0 1623.1 L1804.0 1623.2 L1806.0 1623.3 L1808.0 1623.4 L1810.0 1623.5 L1812.0 1623.6 L1814.0 1623.6 L1816.0 1623.7 L1818.0 1623.8 L1820.0 1623.9 L1822.0 1623.9 L1824.0 1624.0 L1826.0 1624.1 L1828.0 1624.1 L1830.0 1624.2 L1832.0 1624.2 L1834.0 1624.3 L1836.0 1624.4 L1838.0 1624.4 L1840.0 1624.5 L1842.0 1624.5 L1844.0 1624.6 L1846.0 1624.6 L1848.0 1624.7 L1850.0 1624.7 L1852.0 1624.8 L1854.0 1624.8 L1856.0 1624.9 L1858.0 1624.9 L1860.0 1625.0 L1862.0 1625.0 L1864.0 1625.1 L1866.0 1625.1 L1868.0 1625.1 L1870.0 1625.2 L1872.0 1625.2 L1874.0 1625.3 L1876.0 1625.3 L1878.0 1625.3 L1880.0 1625.4 L1882.0 1625.4 L1884.0 1625.4 L1886.0 1625.4 L1888.0 1625.5 L1890.0 1625.5 L1892.0 1625.5 L1894.0 1625.5 L1896.0 1625.6 L1898.0 1625.6 L1900.0 1625.6 L1902.0 1625.6 L1904.0 1625.6 L1906.0 1625.6 L1908.0 1625.7 L1910.0 1625.7 L1912.0 1625.7 L1914.0 1625.7 L1916.0 1625.7 L1918.0 1625.7 L1920.0 1625.8 L1922.0 1625.8 L1924.0 1625.8 L1926.0 1625.8 L1928.0 1625.8 L1930.0 1625.8 L1932.0 1625.9 L1934.0 1625.9 L1936.0 1625.9 L1938.0 1625.9 L1940.0 1625.9 L1942.0 1625.9 L1944.0 1625.9 L1946.0 1626.0 L1948.0 1626.0 L1950.0 1626.0 L1952.0 1626.0 L1954.0 1626.0 L1956.0 1626.0 L1958.0 1626.0 L1960.0 1626.0 L1962.0 1626.1 L1964.0 1626.1 L1966.0 1626.1 L1968.0 1626.1 L1970.0 1626.1 L1972.0 1626.1 L1974.0 1626.1 L1976.0 1626.1 L1978.0 1626.2 L1980.0 1626.2 L1982.0 1626.2 L1984.0 1626.2 L1986.0 1626.2 L1988.0 1626.2 L1990.0 1626.2 L1992.0 1626.2 L1994.0 1626.2 L1996.0 1626.2 L1998.0 1626.3 L2000.0 1626.3 L2002.0 1626.3 L2004.0 1626.3 L2006.0 1626.3 L2008.0 1626.3 L2010.0 1626.3 L2012.0 1626.3 L2014.0 1626.3 L2016.0 1626.3 L2018.0 1626.3 L2020.0 1626.4 L2022.0 1626.4 L2024.0 1626.4 L2026.0 1626.4 L2028.0 1626.4 L2030.0 1626.4 L2032.0 1626.4 L2034.0 1626.4 L2036.0 1626.4 L2038.0 1626.4 L2040.0 1626.4 L2042.0 1626.4 L2044.0 1626.4 L2046.0 1626.4 L2048.0 1626.4 L2050.0 1626.4 L2052.0 1626.5 L2054.0 1626.5 L2056.0 1626.5 L2058.0 1626.5 L2060.0 1626.5 L2062.0 1626.5 L2064.0 1626.5 L2066.0 1626.5 L2068.0 1626.5 L2070.0 1626.5 L2072.0 1626.5 L2074.0 1626.5 L2076.0 1626.5 L2078.0 1626.5 L2080.0 1626.5 L2082.0 1626.5 L2084.0 1626.5 L2086.0 1626.5 L2088.0 1626.5 L2090.0 1626.5 L2092.0 1626.5 L2094.0 1626.5" stroke="url(#gbl)" stroke-width="2.8"/>
<path d="M844.0 1569.5 L846.0 1569.5 L848.0 1569.5 L850.0 1569.5 L852.0 1569.5 L854.0 1569.5 L856.0 1569.5 L858.0 1569.6 L860.0 1569.6 L862.0 1569.6 L864.0 1569.6 L866.0 1569.6 L868.0 1569.6 L870.0 1569.6 L872.0 1569.7 L874.0 1569.7 L876.0 1569.7 L878.0 1569.7 L880.0 1569.7 L882.0 1569.7 L884.0 1569.8 L886.0 1569.8 L888.0 1569.8 L890.0 1569.8 L892.0 1569.8 L894.0 1569.9 L896.0 1569.9 L898.0 1569.9 L900.0 1569.9 L902.0 1570.0 L904.0 1570.0 L906.0 1570.0 L908.0 1570.0 L910.0 1570.1 L912.0 1570.1 L914.0 1570.1 L916.0 1570.2 L918.0 1570.2 L920.0 1570.2 L922.0 1570.2 L924.0 1570.3 L926.0 1570.3 L928.0 1570.3 L930.0 1570.4 L932.0 1570.4 L934.0 1570.4 L936.0 1570.4 L938.0 1570.5 L940.0 1570.5 L942.0 1570.5 L944.0 1570.6 L946.0 1570.6 L948.0 1570.6 L950.0 1570.7 L952.0 1570.7 L954.0 1570.8 L956.0 1570.8 L958.0 1570.8 L960.0 1570.9 L962.0 1570.9 L964.0 1571.0 L966.0 1571.0 L968.0 1571.1 L970.0 1571.1 L972.0 1571.2 L974.0 1571.2 L976.0 1571.3 L978.0 1571.3 L980.0 1571.4 L982.0 1571.5 L984.0 1571.5 L986.0 1571.6 L988.0 1571.6 L990.0 1571.7 L992.0 1571.8 L994.0 1571.8 L996.0 1571.9 L998.0 1572.0 L1000.0 1572.0 L1002.0 1572.1 L1004.0 1572.2 L1006.0 1572.2 L1008.0 1572.3 L1010.0 1572.4 L1012.0 1572.5 L1014.0 1572.5 L1016.0 1572.6 L1018.0 1572.7 L1020.0 1572.8 L1022.0 1572.8 L1024.0 1572.9 L1026.0 1573.0 L1028.0 1573.1 L1030.0 1573.1 L1032.0 1573.2 L1034.0 1573.3 L1036.0 1573.4 L1038.0 1573.5 L1040.0 1573.5 L1042.0 1573.6 L1044.0 1573.7 L1046.0 1573.8 L1048.0 1573.9 L1050.0 1573.9 L1052.0 1574.0 L1054.0 1574.1 L1056.0 1574.2 L1058.0 1574.3 L1060.0 1574.4 L1062.0 1574.4 L1064.0 1574.5 L1066.0 1574.6 L1068.0 1574.7 L1070.0 1574.8 L1072.0 1574.9 L1074.0 1574.9 L1076.0 1575.0 L1078.0 1575.1 L1080.0 1575.2 L1082.0 1575.3 L1084.0 1575.4 L1086.0 1575.4 L1088.0 1575.5 L1090.0 1575.6 L1092.0 1575.7 L1094.0 1575.8 L1096.0 1575.9 L1098.0 1575.9 L1100.0 1576.0 L1102.0 1576.1 L1104.0 1576.2 L1106.0 1576.3 L1108.0 1576.3 L1110.0 1576.4 L1112.0 1576.5 L1114.0 1576.6 L1116.0 1576.7 L1118.0 1576.7 L1120.0 1576.8 L1122.0 1576.9 L1124.0 1577.0 L1126.0 1577.0 L1128.0 1577.1 L1130.0 1577.2 L1132.0 1577.3 L1134.0 1577.3 L1136.0 1577.4 L1138.0 1577.5 L1140.0 1577.5 L1142.0 1577.6 L1144.0 1577.7 L1146.0 1577.7 L1148.0 1577.8 L1150.0 1577.9 L1152.0 1577.9 L1154.0 1578.0 L1156.0 1578.1 L1158.0 1578.2 L1160.0 1578.2 L1162.0 1578.3 L1164.0 1578.4 L1166.0 1578.4 L1168.0 1578.5 L1170.0 1578.6 L1172.0 1578.6 L1174.0 1578.7 L1176.0 1578.8 L1178.0 1578.8 L1180.0 1578.9 L1182.0 1579.0 L1184.0 1579.0 L1186.0 1579.1 L1188.0 1579.2 L1190.0 1579.2 L1192.0 1579.3 L1194.0 1579.4 L1196.0 1579.5 L1198.0 1579.5 L1200.0 1579.6 L1202.0 1579.7 L1204.0 1579.7 L1206.0 1579.8 L1208.0 1579.9 L1210.0 1579.9 L1212.0 1580.0 L1214.0 1580.1 L1216.0 1580.1 L1218.0 1580.2 L1220.0 1580.3 L1222.0 1580.3 L1224.0 1580.4 L1226.0 1580.5 L1228.0 1580.5 L1230.0 1580.6 L1232.0 1580.7 L1234.0 1580.7 L1236.0 1580.8 L1238.0 1580.9 L1240.0 1580.9 L1242.0 1581.0 L1244.0 1581.1 L1246.0 1581.2 L1248.0 1581.2 L1250.0 1581.3 L1252.0 1581.4 L1254.0 1581.4 L1256.0 1581.5 L1258.0 1581.6 L1260.0 1581.6 L1262.0 1581.7 L1264.0 1581.8 L1266.0 1581.8 L1268.0 1581.9 L1270.0 1582.0 L1272.0 1582.0 L1274.0 1582.1 L1276.0 1582.2 L1278.0 1582.2 L1280.0 1582.3 L1282.0 1582.4 L1284.0 1582.4 L1286.0 1582.5 L1288.0 1582.6 L1290.0 1582.7 L1292.0 1582.7 L1294.0 1582.8 L1296.0 1582.9 L1298.0 1582.9 L1300.0 1583.0 L1302.0 1583.1 L1304.0 1583.1 L1306.0 1583.2 L1308.0 1583.3 L1310.0 1583.4 L1312.0 1583.4 L1314.0 1583.5 L1316.0 1583.6 L1318.0 1583.6 L1320.0 1583.7 L1322.0 1583.8 L1324.0 1583.9 L1326.0 1583.9 L1328.0 1584.0 L1330.0 1584.1 L1332.0 1584.2 L1334.0 1584.2 L1336.0 1584.3 L1338.0 1584.4 L1340.0 1584.5 L1342.0 1584.5 L1344.0 1584.6 L1346.0 1584.7 L1348.0 1584.7 L1350.0 1584.8 L1352.0 1584.9 L1354.0 1585.0 L1356.0 1585.0 L1358.0 1585.1 L1360.0 1585.2 L1362.0 1585.3 L1364.0 1585.3 L1366.0 1585.4 L1368.0 1585.5 L1370.0 1585.5 L1372.0 1585.6 L1374.0 1585.7 L1376.0 1585.7 L1378.0 1585.8 L1380.0 1585.9 L1382.0 1585.9 L1384.0 1586.0 L1386.0 1586.1 L1388.0 1586.1 L1390.0 1586.2 L1392.0 1586.3 L1394.0 1586.3 L1396.0 1586.4 L1398.0 1586.4 L1400.0 1586.5 L1402.0 1586.6 L1404.0 1586.6 L1406.0 1586.7 L1408.0 1586.7 L1410.0 1586.8 L1412.0 1586.8 L1414.0 1586.9 L1416.0 1587.0 L1418.0 1587.0 L1420.0 1587.1 L1422.0 1587.1 L1424.0 1587.2 L1426.0 1587.2 L1428.0 1587.3 L1430.0 1587.4 L1432.0 1587.4 L1434.0 1587.5 L1436.0 1587.5 L1438.0 1587.6 L1440.0 1587.6 L1442.0 1587.7 L1444.0 1587.7 L1446.0 1587.8 L1448.0 1587.8 L1450.0 1587.9 L1452.0 1587.9 L1454.0 1588.0 L1456.0 1588.0 L1458.0 1588.1 L1460.0 1588.1 L1462.0 1588.2 L1464.0 1588.2 L1466.0 1588.3 L1468.0 1588.3 L1470.0 1588.4 L1472.0 1588.4 L1474.0 1588.5 L1476.0 1588.5 L1478.0 1588.6 L1480.0 1588.6 L1482.0 1588.6 L1484.0 1588.7 L1486.0 1588.7 L1488.0 1588.8 L1490.0 1588.8 L1492.0 1588.8 L1494.0 1588.9 L1496.0 1588.9 L1498.0 1589.0 L1500.0 1589.0 L1502.0 1589.0 L1504.0 1589.1 L1506.0 1589.1 L1508.0 1589.1 L1510.0 1589.2 L1512.0 1589.2 L1514.0 1589.2 L1516.0 1589.3 L1518.0 1589.3 L1520.0 1589.3 L1522.0 1589.3 L1524.0 1589.4 L1526.0 1589.4 L1528.0 1589.4 L1530.0 1589.4 L1532.0 1589.5 L1534.0 1589.5 L1536.0 1589.5 L1538.0 1589.5 L1540.0 1589.6 L1542.0 1589.6 L1544.0 1589.6 L1546.0 1589.7 L1548.0 1589.7 L1550.0 1589.7 L1552.0 1589.7 L1554.0 1589.8 L1556.0 1589.8 L1558.0 1589.9 L1560.0 1589.9 L1562.0 1589.9 L1564.0 1590.0 L1566.0 1590.0 L1568.0 1590.1 L1570.0 1590.1 L1572.0 1590.2 L1574.0 1590.2 L1576.0 1590.3 L1578.0 1590.4 L1580.0 1590.4 L1582.0 1590.5 L1584.0 1590.5 L1586.0 1590.6 L1588.0 1590.7 L1590.0 1590.7 L1592.0 1590.8 L1594.0 1590.9 L1596.0 1591.0 L1598.0 1591.0 L1600.0 1591.1 L1602.0 1591.2 L1604.0 1591.3 L1606.0 1591.4 L1608.0 1591.4 L1610.0 1591.5 L1612.0 1591.6 L1614.0 1591.7 L1616.0 1591.8 L1618.0 1591.9 L1620.0 1592.0 L1622.0 1592.1 L1624.0 1592.2 L1626.0 1592.3 L1628.0 1592.4 L1630.0 1592.6 L1632.0 1592.7 L1634.0 1592.8 L1636.0 1592.9 L1638.0 1593.1 L1640.0 1593.2 L1642.0 1593.4 L1644.0 1593.5 L1646.0 1593.7 L1648.0 1593.8 L1650.0 1594.0 L1652.0 1594.2 L1654.0 1594.3 L1656.0 1594.5 L1658.0 1594.7 L1660.0 1594.9 L1662.0 1595.1 L1664.0 1595.3 L1666.0 1595.6 L1668.0 1595.8 L1670.0 1596.1 L1672.0 1596.3 L1674.0 1596.6 L1676.0 1596.9 L1678.0 1597.2 L1680.0 1597.6 L1682.0 1597.9 L1684.0 1598.3 L1686.0 1598.6 L1688.0 1599.0 L1690.0 1599.4 L1692.0 1599.8 L1694.0 1600.2 L1696.0 1600.7 L1698.0 1601.3 L1700.0 1601.9 L1702.0 1602.5 L1704.0 1603.1 L1706.0 1603.8 L1708.0 1604.4 L1710.0 1605.1 L1712.0 1605.7 L1714.0 1606.4 L1716.0 1607.0 L1718.0 1607.5 L1720.0 1608.1 L1722.0 1608.7 L1724.0 1609.3 L1726.0 1609.9 L1728.0 1610.5 L1730.0 1611.1 L1732.0 1611.6 L1734.0 1612.2 L1736.0 1612.7 L1738.0 1613.1 L1740.0 1613.5 L1742.0 1613.9 L1744.0 1614.2 L1746.0 1614.5 L1748.0 1614.9 L1750.0 1615.2 L1752.0 1615.4 L1754.0 1615.7 L1756.0 1616.0 L1758.0 1616.2 L1760.0 1616.5 L1762.0 1616.7 L1764.0 1616.9 L1766.0 1617.1 L1768.0 1617.3 L1770.0 1617.5 L1772.0 1617.7 L1774.0 1617.9 L1776.0 1618.0 L1778.0 1618.2 L1780.0 1618.3 L1782.0 1618.4 L1784.0 1618.6 L1786.0 1618.7 L1788.0 1618.8 L1790.0 1619.0 L1792.0 1619.1 L1794.0 1619.2 L1796.0 1619.3 L1798.0 1619.4 L1800.0 1619.5 L1802.0 1619.6 L1804.0 1619.7 L1806.0 1619.8 L1808.0 1619.9 L1810.0 1620.0 L1812.0 1620.1 L1814.0 1620.1 L1816.0 1620.2 L1818.0 1620.3 L1820.0 1620.4 L1822.0 1620.4 L1824.0 1620.5 L1826.0 1620.6 L1828.0 1620.6 L1830.0 1620.7 L1832.0 1620.7 L1834.0 1620.8 L1836.0 1620.9 L1838.0 1620.9 L1840.0 1621.0 L1842.0 1621.0 L1844.0 1621.1 L1846.0 1621.1 L1848.0 1621.2 L1850.0 1621.2 L1852.0 1621.3 L1854.0 1621.3 L1856.0 1621.4 L1858.0 1621.4 L1860.0 1621.5 L1862.0 1621.5 L1864.0 1621.6 L1866.0 1621.6 L1868.0 1621.6 L1870.0 1621.7 L1872.0 1621.7 L1874.0 1621.8 L1876.0 1621.8 L1878.0 1621.8 L1880.0 1621.9 L1882.0 1621.9 L1884.0 1621.9 L1886.0 1621.9 L1888.0 1622.0 L1890.0 1622.0 L1892.0 1622.0 L1894.0 1622.0 L1896.0 1622.1 L1898.0 1622.1 L1900.0 1622.1 L1902.0 1622.1 L1904.0 1622.1 L1906.0 1622.1 L1908.0 1622.2 L1910.0 1622.2 L1912.0 1622.2 L1914.0 1622.2 L1916.0 1622.2 L1918.0 1622.2 L1920.0 1622.3 L1922.0 1622.3 L1924.0 1622.3 L1926.0 1622.3 L1928.0 1622.3 L1930.0 1622.3 L1932.0 1622.4 L1934.0 1622.4 L1936.0 1622.4 L1938.0 1622.4 L1940.0 1622.4 L1942.0 1622.4 L1944.0 1622.4 L1946.0 1622.5 L1948.0 1622.5 L1950.0 1622.5 L1952.0 1622.5 L1954.0 1622.5 L1956.0 1622.5 L1958.0 1622.5 L1960.0 1622.5 L1962.0 1622.6 L1964.0 1622.6 L1966.0 1622.6 L1968.0 1622.6 L1970.0 1622.6 L1972.0 1622.6 L1974.0 1622.6 L1976.0 1622.6 L1978.0 1622.7 L1980.0 1622.7 L1982.0 1622.7 L1984.0 1622.7 L1986.0 1622.7 L1988.0 1622.7 L1990.0 1622.7 L1992.0 1622.7 L1994.0 1622.7 L1996.0 1622.7 L1998.0 1622.8 L2000.0 1622.8 L2002.0 1622.8 L2004.0 1622.8 L2006.0 1622.8 L2008.0 1622.8 L2010.0 1622.8 L2012.0 1622.8 L2014.0 1622.8 L2016.0 1622.8 L2018.0 1622.8 L2020.0 1622.9 L2022.0 1622.9 L2024.0 1622.9 L2026.0 1622.9 L2028.0 1622.9 L2030.0 1622.9 L2032.0 1622.9 L2034.0 1622.9 L2036.0 1622.9 L2038.0 1622.9 L2040.0 1622.9 L2042.0 1622.9 L2044.0 1622.9 L2046.0 1622.9 L2048.0 1622.9 L2050.0 1622.9 L2052.0 1623.0 L2054.0 1623.0 L2056.0 1623.0 L2058.0 1623.0 L2060.0 1623.0 L2062.0 1623.0 L2064.0 1623.0 L2066.0 1623.0 L2068.0 1623.0 L2070.0 1623.0 L2072.0 1623.0 L2074.0 1623.0 L2076.0 1623.0 L2078.0 1623.0 L2080.0 1623.0 L2082.0 1623.0 L2084.0 1623.0 L2086.0 1623.0 L2088.0 1623.0 L2090.0 1623.0 L2092.0 1623.0 L2094.0 1623.0" stroke="url(#gb)" stroke-width="3.4"/>
<path d="M844.0 1565.5 L846.0 1565.5 L848.0 1565.5 L850.0 1565.5 L852.0 1565.5 L854.0 1565.5 L856.0 1565.5 L858.0 1565.6 L860.0 1565.6 L862.0 1565.6 L864.0 1565.6 L866.0 1565.6 L868.0 1565.6 L870.0 1565.6 L872.0 1565.7 L874.0 1565.7 L876.0 1565.7 L878.0 1565.7 L880.0 1565.7 L882.0 1565.7 L884.0 1565.8 L886.0 1565.8 L888.0 1565.8 L890.0 1565.8 L892.0 1565.8 L894.0 1565.9 L896.0 1565.9 L898.0 1565.9 L900.0 1565.9 L902.0 1566.0 L904.0 1566.0 L906.0 1566.0 L908.0 1566.0 L910.0 1566.1 L912.0 1566.1 L914.0 1566.1 L916.0 1566.2 L918.0 1566.2 L920.0 1566.2 L922.0 1566.2 L924.0 1566.3 L926.0 1566.3 L928.0 1566.3 L930.0 1566.4 L932.0 1566.4 L934.0 1566.4 L936.0 1566.4 L938.0 1566.5 L940.0 1566.5 L942.0 1566.5 L944.0 1566.6 L946.0 1566.6 L948.0 1566.6 L950.0 1566.7 L952.0 1566.7 L954.0 1566.8 L956.0 1566.8 L958.0 1566.8 L960.0 1566.9 L962.0 1566.9 L964.0 1567.0 L966.0 1567.0 L968.0 1567.1 L970.0 1567.1 L972.0 1567.2 L974.0 1567.2 L976.0 1567.3 L978.0 1567.3 L980.0 1567.4 L982.0 1567.5 L984.0 1567.5 L986.0 1567.6 L988.0 1567.6 L990.0 1567.7 L992.0 1567.8 L994.0 1567.8 L996.0 1567.9 L998.0 1568.0 L1000.0 1568.0 L1002.0 1568.1 L1004.0 1568.2 L1006.0 1568.2 L1008.0 1568.3 L1010.0 1568.4 L1012.0 1568.5 L1014.0 1568.5 L1016.0 1568.6 L1018.0 1568.7 L1020.0 1568.8 L1022.0 1568.8 L1024.0 1568.9 L1026.0 1569.0 L1028.0 1569.1 L1030.0 1569.1 L1032.0 1569.2 L1034.0 1569.3 L1036.0 1569.4 L1038.0 1569.5 L1040.0 1569.5 L1042.0 1569.6 L1044.0 1569.7 L1046.0 1569.8 L1048.0 1569.9 L1050.0 1569.9 L1052.0 1570.0 L1054.0 1570.1 L1056.0 1570.2 L1058.0 1570.3 L1060.0 1570.4 L1062.0 1570.4 L1064.0 1570.5 L1066.0 1570.6 L1068.0 1570.7 L1070.0 1570.8 L1072.0 1570.9 L1074.0 1570.9 L1076.0 1571.0 L1078.0 1571.1 L1080.0 1571.2 L1082.0 1571.3 L1084.0 1571.4 L1086.0 1571.4 L1088.0 1571.5 L1090.0 1571.6 L1092.0 1571.7 L1094.0 1571.8 L1096.0 1571.9 L1098.0 1571.9 L1100.0 1572.0 L1102.0 1572.1 L1104.0 1572.2 L1106.0 1572.3 L1108.0 1572.3 L1110.0 1572.4 L1112.0 1572.5 L1114.0 1572.6 L1116.0 1572.7 L1118.0 1572.7 L1120.0 1572.8 L1122.0 1572.9 L1124.0 1573.0 L1126.0 1573.0 L1128.0 1573.1 L1130.0 1573.2 L1132.0 1573.3 L1134.0 1573.3 L1136.0 1573.4 L1138.0 1573.5 L1140.0 1573.5 L1142.0 1573.6 L1144.0 1573.7 L1146.0 1573.7 L1148.0 1573.8 L1150.0 1573.9 L1152.0 1573.9 L1154.0 1574.0 L1156.0 1574.1 L1158.0 1574.2 L1160.0 1574.2 L1162.0 1574.3 L1164.0 1574.4 L1166.0 1574.4 L1168.0 1574.5 L1170.0 1574.6 L1172.0 1574.6 L1174.0 1574.7 L1176.0 1574.8 L1178.0 1574.8 L1180.0 1574.9 L1182.0 1575.0 L1184.0 1575.0 L1186.0 1575.1 L1188.0 1575.2 L1190.0 1575.2 L1192.0 1575.3 L1194.0 1575.4 L1196.0 1575.5 L1198.0 1575.5 L1200.0 1575.6 L1202.0 1575.7 L1204.0 1575.7 L1206.0 1575.8 L1208.0 1575.9 L1210.0 1575.9 L1212.0 1576.0 L1214.0 1576.1 L1216.0 1576.1 L1218.0 1576.2 L1220.0 1576.3 L1222.0 1576.3 L1224.0 1576.4 L1226.0 1576.5 L1228.0 1576.5 L1230.0 1576.6 L1232.0 1576.7 L1234.0 1576.7 L1236.0 1576.8 L1238.0 1576.9 L1240.0 1576.9 L1242.0 1577.0 L1244.0 1577.1 L1246.0 1577.2 L1248.0 1577.2 L1250.0 1577.3 L1252.0 1577.4 L1254.0 1577.4 L1256.0 1577.5 L1258.0 1577.6 L1260.0 1577.6 L1262.0 1577.7 L1264.0 1577.8 L1266.0 1577.8 L1268.0 1577.9 L1270.0 1578.0 L1272.0 1578.0 L1274.0 1578.1 L1276.0 1578.2 L1278.0 1578.2 L1280.0 1578.3 L1282.0 1578.4 L1284.0 1578.4 L1286.0 1578.5 L1288.0 1578.6 L1290.0 1578.7 L1292.0 1578.7 L1294.0 1578.8 L1296.0 1578.9 L1298.0 1578.9 L1300.0 1579.0 L1302.0 1579.1 L1304.0 1579.1 L1306.0 1579.2 L1308.0 1579.3 L1310.0 1579.4 L1312.0 1579.4 L1314.0 1579.5 L1316.0 1579.6 L1318.0 1579.6 L1320.0 1579.7 L1322.0 1579.8 L1324.0 1579.9 L1326.0 1579.9 L1328.0 1580.0 L1330.0 1580.1 L1332.0 1580.2 L1334.0 1580.2 L1336.0 1580.3 L1338.0 1580.4 L1340.0 1580.5 L1342.0 1580.5 L1344.0 1580.6 L1346.0 1580.7 L1348.0 1580.7 L1350.0 1580.8 L1352.0 1580.9 L1354.0 1581.0 L1356.0 1581.0 L1358.0 1581.1 L1360.0 1581.2 L1362.0 1581.3 L1364.0 1581.3 L1366.0 1581.4 L1368.0 1581.5 L1370.0 1581.5 L1372.0 1581.6 L1374.0 1581.7 L1376.0 1581.7 L1378.0 1581.8 L1380.0 1581.9 L1382.0 1581.9 L1384.0 1582.0 L1386.0 1582.1 L1388.0 1582.1 L1390.0 1582.2 L1392.0 1582.3 L1394.0 1582.3 L1396.0 1582.4 L1398.0 1582.4 L1400.0 1582.5 L1402.0 1582.6 L1404.0 1582.6 L1406.0 1582.7 L1408.0 1582.7 L1410.0 1582.8 L1412.0 1582.8 L1414.0 1582.9 L1416.0 1583.0 L1418.0 1583.0 L1420.0 1583.1 L1422.0 1583.1 L1424.0 1583.2 L1426.0 1583.2 L1428.0 1583.3 L1430.0 1583.4 L1432.0 1583.4 L1434.0 1583.5 L1436.0 1583.5 L1438.0 1583.6 L1440.0 1583.6 L1442.0 1583.7 L1444.0 1583.7 L1446.0 1583.8 L1448.0 1583.8 L1450.0 1583.9 L1452.0 1583.9 L1454.0 1584.0 L1456.0 1584.0 L1458.0 1584.1 L1460.0 1584.1 L1462.0 1584.2 L1464.0 1584.2 L1466.0 1584.3 L1468.0 1584.3 L1470.0 1584.4 L1472.0 1584.4 L1474.0 1584.5 L1476.0 1584.5 L1478.0 1584.6 L1480.0 1584.6 L1482.0 1584.6 L1484.0 1584.7 L1486.0 1584.7 L1488.0 1584.8 L1490.0 1584.8 L1492.0 1584.8 L1494.0 1584.9 L1496.0 1584.9 L1498.0 1585.0 L1500.0 1585.0 L1502.0 1585.0 L1504.0 1585.1 L1506.0 1585.1 L1508.0 1585.1 L1510.0 1585.2 L1512.0 1585.2 L1514.0 1585.2 L1516.0 1585.3 L1518.0 1585.3 L1520.0 1585.3 L1522.0 1585.3 L1524.0 1585.4 L1526.0 1585.4 L1528.0 1585.4 L1530.0 1585.4 L1532.0 1585.5 L1534.0 1585.5 L1536.0 1585.5 L1538.0 1585.5 L1540.0 1585.6 L1542.0 1585.6 L1544.0 1585.6 L1546.0 1585.7 L1548.0 1585.7 L1550.0 1585.7 L1552.0 1585.7 L1554.0 1585.8 L1556.0 1585.8 L1558.0 1585.9 L1560.0 1585.9 L1562.0 1585.9 L1564.0 1586.0 L1566.0 1586.0 L1568.0 1586.1 L1570.0 1586.1 L1572.0 1586.2 L1574.0 1586.2 L1576.0 1586.3 L1578.0 1586.4 L1580.0 1586.4 L1582.0 1586.5 L1584.0 1586.5 L1586.0 1586.6 L1588.0 1586.7 L1590.0 1586.7 L1592.0 1586.8 L1594.0 1586.9 L1596.0 1587.0 L1598.0 1587.0 L1600.0 1587.1 L1602.0 1587.2 L1604.0 1587.3 L1606.0 1587.4 L1608.0 1587.4 L1610.0 1587.5 L1612.0 1587.6 L1614.0 1587.7 L1616.0 1587.8 L1618.0 1587.9 L1620.0 1588.0 L1622.0 1588.1 L1624.0 1588.2 L1626.0 1588.3 L1628.0 1588.4 L1630.0 1588.6 L1632.0 1588.7 L1634.0 1588.8 L1636.0 1588.9 L1638.0 1589.1 L1640.0 1589.2 L1642.0 1589.4 L1644.0 1589.5 L1646.0 1589.7 L1648.0 1589.8 L1650.0 1590.0 L1652.0 1590.2 L1654.0 1590.3 L1656.0 1590.5 L1658.0 1590.7 L1660.0 1590.9 L1662.0 1591.1 L1664.0 1591.3 L1666.0 1591.6 L1668.0 1591.8 L1670.0 1592.1 L1672.0 1592.3 L1674.0 1592.6 L1676.0 1592.9 L1678.0 1593.2 L1680.0 1593.6 L1682.0 1593.9 L1684.0 1594.3 L1686.0 1594.6 L1688.0 1595.0 L1690.0 1595.4 L1692.0 1595.8 L1694.0 1596.2 L1696.0 1596.7 L1698.0 1597.3 L1700.0 1597.9 L1702.0 1598.5 L1704.0 1599.1 L1706.0 1599.8 L1708.0 1600.4 L1710.0 1601.1 L1712.0 1601.7 L1714.0 1602.4 L1716.0 1603.0 L1718.0 1603.5 L1720.0 1604.1 L1722.0 1604.7 L1724.0 1605.3 L1726.0 1605.9 L1728.0 1606.5 L1730.0 1607.1 L1732.0 1607.6 L1734.0 1608.2 L1736.0 1608.7 L1738.0 1609.1 L1740.0 1609.5 L1742.0 1609.9 L1744.0 1610.2 L1746.0 1610.5 L1748.0 1610.9 L1750.0 1611.2 L1752.0 1611.4 L1754.0 1611.7 L1756.0 1612.0 L1758.0 1612.2 L1760.0 1612.5 L1762.0 1612.7 L1764.0 1612.9 L1766.0 1613.1 L1768.0 1613.3 L1770.0 1613.5 L1772.0 1613.7 L1774.0 1613.9 L1776.0 1614.0 L1778.0 1614.2 L1780.0 1614.3 L1782.0 1614.4 L1784.0 1614.6 L1786.0 1614.7 L1788.0 1614.8 L1790.0 1615.0 L1792.0 1615.1 L1794.0 1615.2 L1796.0 1615.3 L1798.0 1615.4 L1800.0 1615.5 L1802.0 1615.6 L1804.0 1615.7 L1806.0 1615.8 L1808.0 1615.9 L1810.0 1616.0 L1812.0 1616.1 L1814.0 1616.1 L1816.0 1616.2 L1818.0 1616.3 L1820.0 1616.4 L1822.0 1616.4 L1824.0 1616.5 L1826.0 1616.6 L1828.0 1616.6 L1830.0 1616.7 L1832.0 1616.7 L1834.0 1616.8 L1836.0 1616.9 L1838.0 1616.9 L1840.0 1617.0 L1842.0 1617.0 L1844.0 1617.1 L1846.0 1617.1 L1848.0 1617.2 L1850.0 1617.2 L1852.0 1617.3 L1854.0 1617.3 L1856.0 1617.4 L1858.0 1617.4 L1860.0 1617.5 L1862.0 1617.5 L1864.0 1617.6 L1866.0 1617.6 L1868.0 1617.6 L1870.0 1617.7 L1872.0 1617.7 L1874.0 1617.8 L1876.0 1617.8 L1878.0 1617.8 L1880.0 1617.9 L1882.0 1617.9 L1884.0 1617.9 L1886.0 1617.9 L1888.0 1618.0 L1890.0 1618.0 L1892.0 1618.0 L1894.0 1618.0 L1896.0 1618.1 L1898.0 1618.1 L1900.0 1618.1 L1902.0 1618.1 L1904.0 1618.1 L1906.0 1618.1 L1908.0 1618.2 L1910.0 1618.2 L1912.0 1618.2 L1914.0 1618.2 L1916.0 1618.2 L1918.0 1618.2 L1920.0 1618.3 L1922.0 1618.3 L1924.0 1618.3 L1926.0 1618.3 L1928.0 1618.3 L1930.0 1618.3 L1932.0 1618.4 L1934.0 1618.4 L1936.0 1618.4 L1938.0 1618.4 L1940.0 1618.4 L1942.0 1618.4 L1944.0 1618.4 L1946.0 1618.5 L1948.0 1618.5 L1950.0 1618.5 L1952.0 1618.5 L1954.0 1618.5 L1956.0 1618.5 L1958.0 1618.5 L1960.0 1618.5 L1962.0 1618.6 L1964.0 1618.6 L1966.0 1618.6 L1968.0 1618.6 L1970.0 1618.6 L1972.0 1618.6 L1974.0 1618.6 L1976.0 1618.6 L1978.0 1618.7 L1980.0 1618.7 L1982.0 1618.7 L1984.0 1618.7 L1986.0 1618.7 L1988.0 1618.7 L1990.0 1618.7 L1992.0 1618.7 L1994.0 1618.7 L1996.0 1618.7 L1998.0 1618.8 L2000.0 1618.8 L2002.0 1618.8 L2004.0 1618.8 L2006.0 1618.8 L2008.0 1618.8 L2010.0 1618.8 L2012.0 1618.8 L2014.0 1618.8 L2016.0 1618.8 L2018.0 1618.8 L2020.0 1618.9 L2022.0 1618.9 L2024.0 1618.9 L2026.0 1618.9 L2028.0 1618.9 L2030.0 1618.9 L2032.0 1618.9 L2034.0 1618.9 L2036.0 1618.9 L2038.0 1618.9 L2040.0 1618.9 L2042.0 1618.9 L2044.0 1618.9 L2046.0 1618.9 L2048.0 1618.9 L2050.0 1618.9 L2052.0 1619.0 L2054.0 1619.0 L2056.0 1619.0 L2058.0 1619.0 L2060.0 1619.0 L2062.0 1619.0 L2064.0 1619.0 L2066.0 1619.0 L2068.0 1619.0 L2070.0 1619.0 L2072.0 1619.0 L2074.0 1619.0 L2076.0 1619.0 L2078.0 1619.0 L2080.0 1619.0 L2082.0 1619.0 L2084.0 1619.0 L2086.0 1619.0 L2088.0 1619.0 L2090.0 1619.0 L2092.0 1619.0 L2094.0 1619.0" stroke="#7a3b3b" stroke-width="3.6"/>
<path d="M844.0 1561.0 L846.0 1561.0 L848.0 1561.0 L850.0 1561.0 L852.0 1561.0 L854.0 1561.0 L856.0 1561.0 L858.0 1561.1 L860.0 1561.1 L862.0 1561.1 L864.0 1561.1 L866.0 1561.1 L868.0 1561.1 L870.0 1561.1 L872.0 1561.2 L874.0 1561.2 L876.0 1561.2 L878.0 1561.2 L880.0 1561.2 L882.0 1561.2 L884.0 1561.3 L886.0 1561.3 L888.0 1561.3 L890.0 1561.3 L892.0 1561.3 L894.0 1561.4 L896.0 1561.4 L898.0 1561.4 L900.0 1561.4 L902.0 1561.5 L904.0 1561.5 L906.0 1561.5 L908.0 1561.5 L910.0 1561.6 L912.0 1561.6 L914.0 1561.6 L916.0 1561.6 L918.0 1561.7 L920.0 1561.7 L922.0 1561.7 L924.0 1561.7 L926.0 1561.8 L928.0 1561.8 L930.0 1561.8 L932.0 1561.8 L934.0 1561.8 L936.0 1561.8 L938.0 1561.9 L940.0 1561.9 L942.0 1561.9 L944.0 1561.9 L946.0 1561.9 L948.0 1561.9 L950.0 1561.9 L952.0 1561.8 L954.0 1561.8 L956.0 1561.8 L958.0 1561.7 L960.0 1561.7 L962.0 1561.6 L964.0 1561.5 L966.0 1561.4 L968.0 1561.3 L970.0 1561.2 L972.0 1561.0 L974.0 1560.8 L976.0 1560.6 L978.0 1560.4 L980.0 1560.1 L982.0 1559.9 L984.0 1559.5 L986.0 1559.2 L988.0 1558.8 L990.0 1558.3 L992.0 1557.8 L994.0 1557.3 L996.0 1556.7 L998.0 1556.1 L1000.0 1555.5 L1002.0 1554.8 L1004.0 1554.0 L1006.0 1553.2 L1008.0 1552.4 L1010.0 1551.5 L1012.0 1550.6 L1014.0 1549.6 L1016.0 1548.6 L1018.0 1547.6 L1020.0 1546.6 L1022.0 1545.5 L1024.0 1544.4 L1026.0 1543.3 L1028.0 1542.2 L1030.0 1541.1 L1032.0 1540.0 L1034.0 1539.0 L1036.0 1537.9 L1038.0 1536.9 L1040.0 1535.9 L1042.0 1535.0 L1044.0 1534.1 L1046.0 1533.3 L1048.0 1532.6 L1050.0 1531.9 L1052.0 1531.4 L1054.0 1530.9 L1056.0 1530.5 L1058.0 1530.2 L1060.0 1530.0 L1062.0 1529.9 L1064.0 1529.9 L1066.0 1530.0 L1068.0 1530.2 L1070.0 1530.5 L1072.0 1530.8 L1074.0 1531.3 L1076.0 1531.8 L1078.0 1532.4 L1080.0 1533.1 L1082.0 1533.9 L1084.0 1534.7 L1086.0 1535.6 L1088.0 1536.5 L1090.0 1537.5 L1092.0 1538.6 L1094.0 1539.6 L1096.0 1540.7 L1098.0 1541.9 L1100.0 1543.0 L1102.0 1544.2 L1104.0 1545.3 L1106.0 1546.5 L1108.0 1547.7 L1110.0 1548.8 L1112.0 1550.0 L1114.0 1551.1 L1116.0 1552.2 L1118.0 1553.3 L1120.0 1554.3 L1122.0 1555.3 L1124.0 1556.3 L1126.0 1557.3 L1128.0 1558.2 L1130.0 1559.0 L1132.0 1559.9 L1134.0 1560.7 L1136.0 1561.4 L1138.0 1562.1 L1140.0 1562.8 L1142.0 1563.4 L1144.0 1564.0 L1146.0 1564.6 L1148.0 1565.1 L1150.0 1565.6 L1152.0 1566.0 L1154.0 1566.5 L1156.0 1566.8 L1158.0 1567.2 L1160.0 1567.5 L1162.0 1567.9 L1164.0 1568.1 L1166.0 1568.4 L1168.0 1568.7 L1170.0 1568.9 L1172.0 1569.1 L1174.0 1569.3 L1176.0 1569.5 L1178.0 1569.7 L1180.0 1569.8 L1182.0 1570.0 L1184.0 1570.1 L1186.0 1570.2 L1188.0 1570.4 L1190.0 1570.5 L1192.0 1570.6 L1194.0 1570.7 L1196.0 1570.8 L1198.0 1570.9 L1200.0 1571.0 L1202.0 1571.0 L1204.0 1571.1 L1206.0 1571.2 L1208.0 1571.3 L1210.0 1571.4 L1212.0 1571.5 L1214.0 1571.5 L1216.0 1571.6 L1218.0 1571.7 L1220.0 1571.7 L1222.0 1571.8 L1224.0 1571.9 L1226.0 1572.0 L1228.0 1572.0 L1230.0 1572.1 L1232.0 1572.2 L1234.0 1572.2 L1236.0 1572.3 L1238.0 1572.4 L1240.0 1572.4 L1242.0 1572.5 L1244.0 1572.6 L1246.0 1572.6 L1248.0 1572.7 L1250.0 1572.8 L1252.0 1572.9 L1254.0 1572.9 L1256.0 1573.0 L1258.0 1573.1 L1260.0 1573.1 L1262.0 1573.2 L1264.0 1573.3 L1266.0 1573.3 L1268.0 1573.4 L1270.0 1573.5 L1272.0 1573.5 L1274.0 1573.6 L1276.0 1573.7 L1278.0 1573.7 L1280.0 1573.8 L1282.0 1573.9 L1284.0 1573.9 L1286.0 1574.0 L1288.0 1574.1 L1290.0 1574.2 L1292.0 1574.2 L1294.0 1574.3 L1296.0 1574.4 L1298.0 1574.4" stroke="#12c9d2" stroke-width="3.8"/>
<path d="M960.0 1562.3 L962.0 1562.3 L964.0 1562.3 L966.0 1562.4 L968.0 1562.4 L970.0 1562.5 L972.0 1562.5 L974.0 1562.6 L976.0 1562.6 L978.0 1562.7 L980.0 1562.7 L982.0 1562.8 L984.0 1562.9 L986.0 1562.9 L988.0 1563.0 L990.0 1563.0 L992.0 1563.1 L994.0 1563.2 L996.0 1563.2 L998.0 1563.3 L1000.0 1563.3 L1002.0 1563.4 L1004.0 1563.5 L1006.0 1563.5 L1008.0 1563.6 L1010.0 1563.7 L1012.0 1563.7 L1014.0 1563.8 L1016.0 1563.9 L1018.0 1563.9 L1020.0 1564.0 L1022.0 1564.1 L1024.0 1564.1 L1026.0 1564.2 L1028.0 1564.3 L1030.0 1564.4 L1032.0 1564.4 L1034.0 1564.5 L1036.0 1564.6 L1038.0 1564.6 L1040.0 1564.7 L1042.0 1564.8 L1044.0 1564.8 L1046.0 1564.9 L1048.0 1565.0 L1050.0 1565.0 L1052.0 1565.1 L1054.0 1565.2 L1056.0 1565.2 L1058.0 1565.3 L1060.0 1565.3 L1062.0 1565.4 L1064.0 1565.4 L1066.0 1565.5 L1068.0 1565.5 L1070.0 1565.6 L1072.0 1565.6 L1074.0 1565.6 L1076.0 1565.6 L1078.0 1565.6 L1080.0 1565.6 L1082.0 1565.6 L1084.0 1565.6 L1086.0 1565.5 L1088.0 1565.4 L1090.0 1565.4 L1092.0 1565.2 L1094.0 1565.1 L1096.0 1565.0 L1098.0 1564.8 L1100.0 1564.6 L1102.0 1564.4 L1104.0 1564.1 L1106.0 1563.8 L1108.0 1563.5 L1110.0 1563.2 L1112.0 1562.8 L1114.0 1562.4 L1116.0 1561.9 L1118.0 1561.5 L1120.0 1561.0 L1122.0 1560.4 L1124.0 1559.9 L1126.0 1559.3 L1128.0 1558.7 L1130.0 1558.1 L1132.0 1557.4 L1134.0 1556.8 L1136.0 1556.1 L1138.0 1555.5 L1140.0 1554.9 L1142.0 1554.3 L1144.0 1553.7 L1146.0 1553.1 L1148.0 1552.5 L1150.0 1552.1 L1152.0 1551.6 L1154.0 1551.2 L1156.0 1550.9 L1158.0 1550.7 L1160.0 1550.5 L1162.0 1550.4 L1164.0 1550.4 L1166.0 1550.4 L1168.0 1550.6 L1170.0 1550.8 L1172.0 1551.1 L1174.0 1551.5 L1176.0 1552.0 L1178.0 1552.5 L1180.0 1553.1 L1182.0 1553.7 L1184.0 1554.4 L1186.0 1555.1 L1188.0 1555.8 L1190.0 1556.6 L1192.0 1557.4 L1194.0 1558.1 L1196.0 1558.9 L1198.0 1559.7 L1200.0 1560.5 L1202.0 1561.2 L1204.0 1562.0 L1206.0 1562.7 L1208.0 1563.4 L1210.0 1564.1 L1212.0 1564.7 L1214.0 1565.3 L1216.0 1565.9 L1218.0 1566.5 L1220.0 1567.0 L1222.0 1567.5 L1224.0 1568.0 L1226.0 1568.4 L1228.0 1568.8 L1230.0 1569.2 L1232.0 1569.5 L1234.0 1569.9 L1236.0 1570.2 L1238.0 1570.4 L1240.0 1570.7 L1242.0 1570.9 L1244.0 1571.1 L1246.0 1571.3 L1248.0 1571.5 L1250.0 1571.7 L1252.0 1571.9 L1254.0 1572.0 L1256.0 1572.2 L1258.0 1572.3 L1260.0 1572.4 L1262.0 1572.5 L1264.0 1572.6 L1266.0 1572.8 L1268.0 1572.9 L1270.0 1573.0 L1272.0 1573.1 L1274.0 1573.1 L1276.0 1573.2 L1278.0 1573.3 L1280.0 1573.4 L1282.0 1573.5 L1284.0 1573.6 L1286.0 1573.7 L1288.0 1573.7 L1290.0 1573.8 L1292.0 1573.9 L1294.0 1574.0 L1296.0 1574.1 L1298.0 1574.1 L1300.0 1574.2 L1302.0 1574.3 L1304.0 1574.4 L1306.0 1574.5 L1308.0 1574.5 L1310.0 1574.6 L1312.0 1574.7 L1314.0 1574.8 L1316.0 1574.8 L1318.0 1574.9 L1320.0 1575.0 L1322.0 1575.1 L1324.0 1575.2 L1326.0 1575.2 L1328.0 1575.3 L1330.0 1575.4 L1332.0 1575.5 L1334.0 1575.5 L1336.0 1575.6 L1338.0 1575.7 L1340.0 1575.8 L1342.0 1575.9 L1344.0 1575.9 L1346.0 1576.0 L1348.0 1576.1 L1350.0 1576.2 L1352.0 1576.2 L1354.0 1576.3 L1356.0 1576.4 L1358.0 1576.5 L1360.0 1576.5 L1362.0 1576.6 L1364.0 1576.7 L1366.0 1576.8 L1368.0 1576.8 L1370.0 1576.9 L1372.0 1577.0 L1374.0 1577.0 L1376.0 1577.1 L1378.0 1577.2 L1380.0 1577.3 L1382.0 1577.3 L1384.0 1577.4 L1386.0 1577.5 L1388.0 1577.5 L1390.0 1577.6 L1392.0 1577.7 L1394.0 1577.7 L1396.0 1577.8 L1398.0 1577.8" stroke="#d9a00c" stroke-width="3.8"/>
<path d="M1050.0 1565.4 L1052.0 1565.5 L1054.0 1565.6 L1056.0 1565.6 L1058.0 1565.7 L1060.0 1565.8 L1062.0 1565.9 L1064.0 1566.0 L1066.0 1566.0 L1068.0 1566.1 L1070.0 1566.2 L1072.0 1566.3 L1074.0 1566.4 L1076.0 1566.5 L1078.0 1566.5 L1080.0 1566.6 L1082.0 1566.7 L1084.0 1566.8 L1086.0 1566.9 L1088.0 1566.9 L1090.0 1567.0 L1092.0 1567.1 L1094.0 1567.2 L1096.0 1567.3 L1098.0 1567.3 L1100.0 1567.4 L1102.0 1567.5 L1104.0 1567.6 L1106.0 1567.7 L1108.0 1567.7 L1110.0 1567.8 L1112.0 1567.9 L1114.0 1568.0 L1116.0 1568.0 L1118.0 1568.1 L1120.0 1568.2 L1122.0 1568.3 L1124.0 1568.3 L1126.0 1568.4 L1128.0 1568.5 L1130.0 1568.5 L1132.0 1568.6 L1134.0 1568.7 L1136.0 1568.7 L1138.0 1568.8 L1140.0 1568.9 L1142.0 1568.9 L1144.0 1569.0 L1146.0 1569.1 L1148.0 1569.1 L1150.0 1569.2 L1152.0 1569.2 L1154.0 1569.3 L1156.0 1569.3 L1158.0 1569.4 L1160.0 1569.4 L1162.0 1569.5 L1164.0 1569.5 L1166.0 1569.6 L1168.0 1569.6 L1170.0 1569.6 L1172.0 1569.7 L1174.0 1569.7 L1176.0 1569.7 L1178.0 1569.7 L1180.0 1569.7 L1182.0 1569.7 L1184.0 1569.6 L1186.0 1569.6 L1188.0 1569.6 L1190.0 1569.5 L1192.0 1569.4 L1194.0 1569.3 L1196.0 1569.2 L1198.0 1569.1 L1200.0 1569.0 L1202.0 1568.8 L1204.0 1568.6 L1206.0 1568.5 L1208.0 1568.3 L1210.0 1568.0 L1212.0 1567.8 L1214.0 1567.6 L1216.0 1567.3 L1218.0 1567.0 L1220.0 1566.8 L1222.0 1566.5 L1224.0 1566.2 L1226.0 1565.9 L1228.0 1565.6 L1230.0 1565.3 L1232.0 1565.1 L1234.0 1564.8 L1236.0 1564.6 L1238.0 1564.4 L1240.0 1564.2 L1242.0 1564.0 L1244.0 1563.9 L1246.0 1563.8 L1248.0 1563.8 L1250.0 1563.8 L1252.0 1563.9 L1254.0 1563.9 L1256.0 1564.1 L1258.0 1564.3 L1260.0 1564.5 L1262.0 1564.7 L1264.0 1565.0 L1266.0 1565.3 L1268.0 1565.7 L1270.0 1566.1 L1272.0 1566.4 L1274.0 1566.8 L1276.0 1567.3 L1278.0 1567.7 L1280.0 1568.1 L1282.0 1568.5 L1284.0 1568.9 L1286.0 1569.3 L1288.0 1569.8 L1290.0 1570.1 L1292.0 1570.5 L1294.0 1570.9 L1296.0 1571.3 L1298.0 1571.6 L1300.0 1571.9 L1302.0 1572.2 L1304.0 1572.5 L1306.0 1572.8 L1308.0 1573.1 L1310.0 1573.3 L1312.0 1573.5 L1314.0 1573.7 L1316.0 1573.9 L1318.0 1574.1 L1320.0 1574.3 L1322.0 1574.5 L1324.0 1574.6 L1326.0 1574.8 L1328.0 1574.9 L1330.0 1575.0 L1332.0 1575.2 L1334.0 1575.3 L1336.0 1575.4 L1338.0 1575.5 L1340.0 1575.6 L1342.0 1575.7 L1344.0 1575.8 L1346.0 1575.9 L1348.0 1576.0 L1350.0 1576.1 L1352.0 1576.2 L1354.0 1576.3 L1356.0 1576.3 L1358.0 1576.4 L1360.0 1576.5 L1362.0 1576.6 L1364.0 1576.7 L1366.0 1576.7 L1368.0 1576.8 L1370.0 1576.9 L1372.0 1577.0 L1374.0 1577.0 L1376.0 1577.1 L1378.0 1577.2 L1380.0 1577.2 L1382.0 1577.3 L1384.0 1577.4 L1386.0 1577.5 L1388.0 1577.5 L1390.0 1577.6 L1392.0 1577.7 L1394.0 1577.7 L1396.0 1577.8 L1398.0 1577.8 L1400.0 1577.9 L1402.0 1578.0 L1404.0 1578.0 L1406.0 1578.1 L1408.0 1578.1 L1410.0 1578.2 L1412.0 1578.3 L1414.0 1578.3 L1416.0 1578.4 L1418.0 1578.4 L1420.0 1578.5 L1422.0 1578.6 L1424.0 1578.6 L1426.0 1578.7 L1428.0 1578.7 L1430.0 1578.8 L1432.0 1578.8 L1434.0 1578.9 L1436.0 1579.0 L1438.0 1579.0 L1440.0 1579.1 L1442.0 1579.1 L1444.0 1579.2 L1446.0 1579.2 L1448.0 1579.3" stroke="#b066e6" stroke-width="3.8"/>
<path d="M1000.0 1563.1 L1002.0 1563.2 L1004.0 1563.2 L1006.0 1563.3 L1008.0 1563.4 L1010.0 1563.4 L1012.0 1563.5 L1014.0 1563.6 L1016.0 1563.6 L1018.0 1563.7 L1020.0 1563.8 L1022.0 1563.9 L1024.0 1563.9 L1026.0 1564.0 L1028.0 1564.1 L1030.0 1564.2 L1032.0 1564.2 L1034.0 1564.3 L1036.0 1564.4 L1038.0 1564.5 L1040.0 1564.5 L1042.0 1564.6 L1044.0 1564.7 L1046.0 1564.8 L1048.0 1564.9 L1050.0 1564.9 L1052.0 1565.0 L1054.0 1565.1 L1056.0 1565.2 L1058.0 1565.3 L1060.0 1565.3 L1062.0 1565.4 L1064.0 1565.5 L1066.0 1565.6 L1068.0 1565.7 L1070.0 1565.7 L1072.0 1565.8 L1074.0 1565.9 L1076.0 1566.0 L1078.0 1566.1 L1080.0 1566.1 L1082.0 1566.2 L1084.0 1566.3 L1086.0 1566.4 L1088.0 1566.5 L1090.0 1566.5 L1092.0 1566.6 L1094.0 1566.7 L1096.0 1566.8 L1098.0 1566.9 L1100.0 1566.9 L1102.0 1567.0 L1104.0 1567.1 L1106.0 1567.2 L1108.0 1567.2 L1110.0 1567.3 L1112.0 1567.4 L1114.0 1567.5 L1116.0 1567.5 L1118.0 1567.6 L1120.0 1567.7 L1122.0 1567.8 L1124.0 1567.8 L1126.0 1567.9 L1128.0 1568.0 L1130.0 1568.0 L1132.0 1568.1 L1134.0 1568.2 L1136.0 1568.2 L1138.0 1568.3 L1140.0 1568.4 L1142.0 1568.4 L1144.0 1568.5 L1146.0 1568.6 L1148.0 1568.6 L1150.0 1568.7 L1152.0 1568.8 L1154.0 1568.8 L1156.0 1568.9 L1158.0 1568.9 L1160.0 1569.0 L1162.0 1569.1 L1164.0 1569.1 L1166.0 1569.2 L1168.0 1569.3 L1170.0 1569.3 L1172.0 1569.4 L1174.0 1569.5 L1176.0 1569.5 L1178.0 1569.6 L1180.0 1569.6 L1182.0 1569.7 L1184.0 1569.8 L1186.0 1569.8 L1188.0 1569.9 L1190.0 1570.0 L1192.0 1570.0 L1194.0 1570.1 L1196.0 1570.1 L1198.0 1570.2 L1200.0 1570.3 L1202.0 1570.3 L1204.0 1570.4 L1206.0 1570.4 L1208.0 1570.5 L1210.0 1570.6 L1212.0 1570.6 L1214.0 1570.7 L1216.0 1570.8 L1218.0 1570.8 L1220.0 1570.9 L1222.0 1570.9 L1224.0 1571.0 L1226.0 1571.1 L1228.0 1571.1 L1230.0 1571.2 L1232.0 1571.2 L1234.0 1571.3 L1236.0 1571.4 L1238.0 1571.4 L1240.0 1571.5 L1242.0 1571.5 L1244.0 1571.6 L1246.0 1571.7 L1248.0 1571.7 L1250.0 1571.8 L1252.0 1571.8 L1254.0 1571.9 L1256.0 1572.0 L1258.0 1572.0 L1260.0 1572.1 L1262.0 1572.1 L1264.0 1572.2 L1266.0 1572.2 L1268.0 1572.3 L1270.0 1572.4 L1272.0 1572.4 L1274.0 1572.5 L1276.0 1572.5 L1278.0 1572.6 L1280.0 1572.7 L1282.0 1572.7 L1284.0 1572.8 L1286.0 1572.8 L1288.0 1572.9 L1290.0 1572.9 L1292.0 1573.0 L1294.0 1573.1 L1296.0 1573.1 L1298.0 1573.2 L1300.0 1573.2 L1302.0 1573.3 L1304.0 1573.4 L1306.0 1573.4 L1308.0 1573.5 L1310.0 1573.5 L1312.0 1573.6 L1314.0 1573.6 L1316.0 1573.7 L1318.0 1573.8 L1320.0 1573.8 L1322.0 1573.9 L1324.0 1573.9 L1326.0 1574.0 L1328.0 1574.1 L1330.0 1574.1 L1332.0 1574.2 L1334.0 1574.2 L1336.0 1574.3 L1338.0 1574.4 L1340.0 1574.4 L1342.0 1574.5 L1344.0 1574.5 L1346.0 1574.6 L1348.0 1574.6 L1350.0 1574.7 L1352.0 1574.8 L1354.0 1574.8 L1356.0 1574.9 L1358.0 1574.9 L1360.0 1575.0 L1362.0 1575.0 L1364.0 1575.1 L1366.0 1575.1 L1368.0 1575.2 L1370.0 1575.2 L1372.0 1575.3 L1374.0 1575.3 L1376.0 1575.4 L1378.0 1575.4 L1380.0 1575.5 L1382.0 1575.5 L1384.0 1575.5 L1386.0 1575.6 L1388.0 1575.6 L1390.0 1575.7 L1392.0 1575.7 L1394.0 1575.7 L1396.0 1575.8 L1398.0 1575.8 L1400.0 1575.8 L1402.0 1575.9 L1404.0 1575.9 L1406.0 1575.9 L1408.0 1576.0 L1410.0 1576.0 L1412.0 1576.0 L1414.0 1576.1 L1416.0 1576.1 L1418.0 1576.1 L1420.0 1576.1 L1422.0 1576.2 L1424.0 1576.2 L1426.0 1576.2 L1428.0 1576.2 L1430.0 1576.2 L1432.0 1576.3 L1434.0 1576.3 L1436.0 1576.3 L1438.0 1576.3 L1440.0 1576.3 L1442.0 1576.3 L1444.0 1576.4 L1446.0 1576.4 L1448.0 1576.4 L1450.0 1576.4 L1452.0 1576.4 L1454.0 1576.4 L1456.0 1576.4 L1458.0 1576.4 L1460.0 1576.4 L1462.0 1576.4 L1464.0 1576.4 L1466.0 1576.4 L1468.0 1576.4 L1470.0 1576.4 L1472.0 1576.4 L1474.0 1576.4 L1476.0 1576.4 L1478.0 1576.4 L1480.0 1576.3 L1482.0 1576.3 L1484.0 1576.3 L1486.0 1576.3 L1488.0 1576.3 L1490.0 1576.2 L1492.0 1576.2 L1494.0 1576.2 L1496.0 1576.1 L1498.0 1576.1 L1500.0 1576.1 L1502.0 1576.0 L1504.0 1576.0 L1506.0 1575.9 L1508.0 1575.9 L1510.0 1575.8 L1512.0 1575.8 L1514.0 1575.7 L1516.0 1575.6 L1518.0 1575.6 L1520.0 1575.5 L1522.0 1575.4 L1524.0 1575.3 L1526.0 1575.2 L1528.0 1575.1 L1530.0 1575.1 L1532.0 1575.0 L1534.0 1574.9 L1536.0 1574.8 L1538.0 1574.6 L1540.0 1574.5 L1542.0 1574.4 L1544.0 1574.3 L1546.0 1574.1 L1548.0 1574.0 L1550.0 1573.9 L1552.0 1573.7 L1554.0 1573.5 L1556.0 1573.3 L1558.0 1573.2 L1560.0 1572.9 L1562.0 1572.7 L1564.0 1572.5 L1566.0 1572.2 L1568.0 1571.9 L1570.0 1571.6 L1572.0 1571.3 L1574.0 1570.9 L1576.0 1570.5 L1578.0 1570.0 L1580.0 1569.5 L1582.0 1568.9 L1584.0 1568.2 L1586.0 1567.5 L1588.0 1566.7 L1590.0 1565.8 L1592.0 1564.8 L1594.0 1563.7 L1596.0 1562.5 L1598.0 1561.1 L1600.0 1559.6 L1602.0 1557.9 L1604.0 1556.0 L1606.0 1553.9 L1608.0 1551.6 L1610.0 1549.1 L1612.0 1546.3 L1614.0 1543.2 L1616.0 1539.8 L1618.0 1536.1 L1620.0 1532.0 L1622.0 1527.6 L1624.0 1522.7 L1626.0 1517.5 L1628.0 1511.8 L1630.0 1505.6 L1632.0 1498.9 L1634.0 1491.7 L1636.0 1484.0 L1638.0 1475.8 L1640.0 1466.9 L1642.0 1457.5 L1644.0 1447.5 L1646.0 1436.9 L1648.0 1425.6 L1650.0 1413.7 L1652.0 1401.3 L1654.0 1388.2 L1656.0 1374.5 L1658.0 1360.2 L1660.0 1345.4 L1662.0 1330.0 L1664.0 1314.1 L1666.0 1297.8 L1668.0 1281.0 L1670.0 1263.9 L1672.0 1246.4 L1674.0 1228.7 L1676.0 1210.8 L1678.0 1192.7 L1680.0 1174.6 L1682.0 1156.5 L1684.0 1138.5 L1686.0 1120.7 L1688.0 1103.2 L1690.0 1086.1 L1692.0 1069.4 L1694.0 1053.4 L1696.0 1038.0 L1698.0 1023.6 L1700.0 1010.0 L1702.0 997.4 L1704.0 985.9 L1706.0 975.6 L1708.0 966.5 L1710.0 958.8 L1712.0 952.5 L1714.0 947.5 L1716.0 944.1 L1718.0 942.2 L1720.0 941.9 L1722.0 943.1 L1724.0 946.0 L1726.0 950.5 L1728.0 956.6 L1730.0 964.1 L1732.0 973.1 L1734.0 983.4 L1736.0 995.0 L1738.0 1007.8 L1740.0 1021.6 L1742.0 1036.4 L1744.0 1052.0 L1746.0 1068.4 L1748.0 1085.5 L1750.0 1103.2 L1752.0 1121.4 L1754.0 1139.8 L1756.0 1158.6 L1758.0 1177.5 L1760.0 1196.5 L1762.0 1215.5 L1764.0 1234.4 L1766.0 1253.1 L1768.0 1271.5 L1770.0 1289.7 L1772.0 1307.4 L1774.0 1324.8 L1776.0 1341.6 L1778.0 1358.0 L1780.0 1373.8 L1782.0 1389.0 L1784.0 1403.6 L1786.0 1417.6 L1788.0 1431.0 L1790.0 1443.7 L1792.0 1455.8 L1794.0 1467.2 L1796.0 1478.0 L1798.0 1488.2 L1800.0 1497.7 L1802.0 1506.6 L1804.0 1515.0 L1806.0 1522.8 L1808.0 1530.0 L1810.0 1536.7 L1812.0 1542.9 L1814.0 1548.6 L1816.0 1553.9 L1818.0 1558.7 L1820.0 1563.2 L1822.0 1567.2 L1824.0 1570.9 L1826.0 1574.3 L1828.0 1577.4 L1830.0 1580.2 L1832.0 1582.8 L1834.0 1585.1 L1836.0 1587.2 L1838.0 1589.1 L1840.0 1590.8 L1842.0 1592.3 L1844.0 1593.7 L1846.0 1595.0 L1848.0 1596.2 L1850.0 1597.2 L1852.0 1598.1 L1854.0 1599.0 L1856.0 1599.8 L1858.0 1600.5 L1860.0 1601.1 L1862.0 1601.7 L1864.0 1602.2 L1866.0 1602.7 L1868.0 1603.1 L1870.0 1603.5 L1872.0 1603.9 L1874.0 1604.3 L1876.0 1604.6 L1878.0 1604.9 L1880.0 1605.2 L1882.0 1605.5 L1884.0 1605.7 L1886.0 1605.9 L1888.0 1606.2 L1890.0 1606.4 L1892.0 1606.6 L1894.0 1606.7 L1896.0 1606.9 L1898.0 1607.1 L1900.0 1607.3 L1902.0 1607.4 L1904.0 1607.6 L1906.0 1607.7 L1908.0 1607.8 L1910.0 1608.0 L1912.0 1608.1 L1914.0 1608.2 L1916.0 1608.3 L1918.0 1608.5 L1920.0 1608.6 L1922.0 1608.7 L1924.0 1608.8 L1926.0 1608.9 L1928.0 1609.0 L1930.0 1609.1 L1932.0 1609.2 L1934.0 1609.3 L1936.0 1609.4 L1938.0 1609.5 L1940.0 1609.6 L1942.0 1609.7 L1944.0 1609.8 L1946.0 1609.9 L1948.0 1609.9 L1950.0 1610.0 L1952.0 1610.1 L1954.0 1610.2 L1956.0 1610.2 L1958.0 1610.3 L1960.0 1610.4 L1962.0 1610.5 L1964.0 1610.5 L1966.0 1610.6 L1968.0 1610.7 L1970.0 1610.7 L1972.0 1610.8 L1974.0 1610.9 L1976.0 1610.9 L1978.0 1611.0 L1980.0 1611.0 L1982.0 1611.1 L1984.0 1611.1 L1986.0 1611.2 L1988.0 1611.3 L1990.0 1611.3 L1992.0 1611.4 L1994.0 1611.4 L1996.0 1611.5 L1998.0 1611.5 L2000.0 1611.6 L2002.0 1611.6 L2004.0 1611.6 L2006.0 1611.7 L2008.0 1611.7 L2010.0 1611.8 L2012.0 1611.8 L2014.0 1611.9 L2016.0 1611.9 L2018.0 1611.9 L2020.0 1612.0 L2022.0 1612.0 L2024.0 1612.1 L2026.0 1612.1 L2028.0 1612.1 L2030.0 1612.2 L2032.0 1612.2 L2034.0 1612.2 L2036.0 1612.3 L2038.0 1612.3 L2040.0 1612.3 L2042.0 1612.4 L2044.0 1612.4 L2046.0 1612.4 L2048.0 1612.4 L2050.0 1612.5 L2052.0 1612.5 L2054.0 1612.5 L2056.0 1612.6 L2058.0 1612.6 L2060.0 1612.6 L2062.0 1612.6 L2064.0 1612.7 L2066.0 1612.7 L2068.0 1612.7 L2070.0 1612.7 L2072.0 1612.8 L2074.0 1612.8 L2076.0 1612.8 L2078.0 1612.8 L2080.0 1612.8 L2082.0 1612.9 L2084.0 1612.9 L2086.0 1612.9 L2088.0 1612.9 L2090.0 1612.9 L2092.0 1612.9 L2094.0 1613.0" stroke="#f03a3a" stroke-width="3.8"/>
<path d="M1000.0 1563.4 L1002.0 1563.5 L1004.0 1563.6 L1006.0 1563.6 L1008.0 1563.7 L1010.0 1563.8 L1012.0 1563.8 L1014.0 1563.9 L1016.0 1564.0 L1018.0 1564.1 L1020.0 1564.1 L1022.0 1564.2 L1024.0 1564.3 L1026.0 1564.4 L1028.0 1564.4 L1030.0 1564.5 L1032.0 1564.6 L1034.0 1564.7 L1036.0 1564.8 L1038.0 1564.8 L1040.0 1564.9 L1042.0 1565.0 L1044.0 1565.1 L1046.0 1565.2 L1048.0 1565.2 L1050.0 1565.3 L1052.0 1565.4 L1054.0 1565.5 L1056.0 1565.6 L1058.0 1565.6 L1060.0 1565.7 L1062.0 1565.8 L1064.0 1565.9 L1066.0 1566.0 L1068.0 1566.1 L1070.0 1566.1 L1072.0 1566.2 L1074.0 1566.3 L1076.0 1566.4 L1078.0 1566.5 L1080.0 1566.6 L1082.0 1566.6 L1084.0 1566.7 L1086.0 1566.8 L1088.0 1566.9 L1090.0 1567.0 L1092.0 1567.0 L1094.0 1567.1 L1096.0 1567.2 L1098.0 1567.3 L1100.0 1567.4 L1102.0 1567.4 L1104.0 1567.5 L1106.0 1567.6 L1108.0 1567.7 L1110.0 1567.8 L1112.0 1567.8 L1114.0 1567.9 L1116.0 1568.0 L1118.0 1568.1 L1120.0 1568.1 L1122.0 1568.2 L1124.0 1568.3 L1126.0 1568.4 L1128.0 1568.4 L1130.0 1568.5 L1132.0 1568.6 L1134.0 1568.7 L1136.0 1568.7 L1138.0 1568.8 L1140.0 1568.9 L1142.0 1568.9 L1144.0 1569.0 L1146.0 1569.1 L1148.0 1569.1 L1150.0 1569.2 L1152.0 1569.3 L1154.0 1569.3 L1156.0 1569.4 L1158.0 1569.5 L1160.0 1569.5 L1162.0 1569.6 L1164.0 1569.7 L1166.0 1569.7 L1168.0 1569.8 L1170.0 1569.9 L1172.0 1569.9 L1174.0 1570.0 L1176.0 1570.1 L1178.0 1570.1 L1180.0 1570.2 L1182.0 1570.3 L1184.0 1570.3 L1186.0 1570.4 L1188.0 1570.5 L1190.0 1570.5 L1192.0 1570.6 L1194.0 1570.7 L1196.0 1570.7 L1198.0 1570.8 L1200.0 1570.9 L1202.0 1570.9 L1204.0 1571.0 L1206.0 1571.1 L1208.0 1571.1 L1210.0 1571.2 L1212.0 1571.3 L1214.0 1571.3 L1216.0 1571.4 L1218.0 1571.5 L1220.0 1571.5 L1222.0 1571.6 L1224.0 1571.7 L1226.0 1571.7 L1228.0 1571.8 L1230.0 1571.9 L1232.0 1571.9 L1234.0 1572.0 L1236.0 1572.1 L1238.0 1572.1 L1240.0 1572.2 L1242.0 1572.2 L1244.0 1572.3 L1246.0 1572.4 L1248.0 1572.4 L1250.0 1572.5 L1252.0 1572.6 L1254.0 1572.6 L1256.0 1572.7 L1258.0 1572.8 L1260.0 1572.8 L1262.0 1572.9 L1264.0 1573.0 L1266.0 1573.0 L1268.0 1573.1 L1270.0 1573.2 L1272.0 1573.2 L1274.0 1573.3 L1276.0 1573.4 L1278.0 1573.4 L1280.0 1573.5 L1282.0 1573.6 L1284.0 1573.6 L1286.0 1573.7 L1288.0 1573.8 L1290.0 1573.8 L1292.0 1573.9 L1294.0 1573.9 L1296.0 1574.0 L1298.0 1574.1 L1300.0 1574.1 L1302.0 1574.2 L1304.0 1574.3 L1306.0 1574.3 L1308.0 1574.4 L1310.0 1574.5 L1312.0 1574.5 L1314.0 1574.6 L1316.0 1574.7 L1318.0 1574.7 L1320.0 1574.8 L1322.0 1574.9 L1324.0 1575.0 L1326.0 1575.0 L1328.0 1575.1 L1330.0 1575.2 L1332.0 1575.2 L1334.0 1575.3 L1336.0 1575.4 L1338.0 1575.4 L1340.0 1575.5 L1342.0 1575.6 L1344.0 1575.6 L1346.0 1575.7 L1348.0 1575.8 L1350.0 1575.8 L1352.0 1575.9 L1354.0 1576.0 L1356.0 1576.0 L1358.0 1576.1 L1360.0 1576.2 L1362.0 1576.2 L1364.0 1576.3 L1366.0 1576.4 L1368.0 1576.4 L1370.0 1576.5 L1372.0 1576.6 L1374.0 1576.6 L1376.0 1576.7 L1378.0 1576.7 L1380.0 1576.8 L1382.0 1576.9 L1384.0 1576.9 L1386.0 1577.0 L1388.0 1577.0 L1390.0 1577.1 L1392.0 1577.1 L1394.0 1577.2 L1396.0 1577.2 L1398.0 1577.3 L1400.0 1577.3 L1402.0 1577.4 L1404.0 1577.4 L1406.0 1577.5 L1408.0 1577.5 L1410.0 1577.6 L1412.0 1577.6 L1414.0 1577.7 L1416.0 1577.7 L1418.0 1577.8 L1420.0 1577.8 L1422.0 1577.9 L1424.0 1577.9 L1426.0 1577.9 L1428.0 1578.0 L1430.0 1578.0 L1432.0 1578.1 L1434.0 1578.1 L1436.0 1578.1 L1438.0 1578.2 L1440.0 1578.2 L1442.0 1578.3 L1444.0 1578.3 L1446.0 1578.3 L1448.0 1578.4 L1450.0 1578.4 L1452.0 1578.4 L1454.0 1578.5 L1456.0 1578.5 L1458.0 1578.5 L1460.0 1578.6 L1462.0 1578.6 L1464.0 1578.6 L1466.0 1578.6 L1468.0 1578.7 L1470.0 1578.7 L1472.0 1578.7 L1474.0 1578.7 L1476.0 1578.8 L1478.0 1578.8 L1480.0 1578.8 L1482.0 1578.8 L1484.0 1578.8 L1486.0 1578.8 L1488.0 1578.8 L1490.0 1578.9 L1492.0 1578.9 L1494.0 1578.9 L1496.0 1578.9 L1498.0 1578.9 L1500.0 1578.9 L1502.0 1578.9 L1504.0 1578.9 L1506.0 1578.9 L1508.0 1578.9 L1510.0 1578.8 L1512.0 1578.8 L1514.0 1578.8 L1516.0 1578.8 L1518.0 1578.7 L1520.0 1578.7 L1522.0 1578.7 L1524.0 1578.6 L1526.0 1578.6 L1528.0 1578.5 L1530.0 1578.5 L1532.0 1578.4 L1534.0 1578.3 L1536.0 1578.3 L1538.0 1578.2 L1540.0 1578.1 L1542.0 1577.9 L1544.0 1577.8 L1546.0 1577.7 L1548.0 1577.5 L1550.0 1577.3 L1552.0 1577.1 L1554.0 1576.8 L1556.0 1576.6 L1558.0 1576.2 L1560.0 1575.9 L1562.0 1575.5 L1564.0 1575.1 L1566.0 1574.6 L1568.0 1574.0 L1570.0 1573.4 L1572.0 1572.7 L1574.0 1571.9 L1576.0 1571.0 L1578.0 1570.0 L1580.0 1569.0 L1582.0 1567.8 L1584.0 1566.5 L1586.0 1565.0 L1588.0 1563.5 L1590.0 1561.7 L1592.0 1559.9 L1594.0 1557.8 L1596.0 1555.6 L1598.0 1553.3 L1600.0 1550.7 L1602.0 1548.0 L1604.0 1545.1 L1606.0 1542.0 L1608.0 1538.7 L1610.0 1535.3 L1612.0 1531.6 L1614.0 1527.8 L1616.0 1523.9 L1618.0 1519.7 L1620.0 1515.5 L1622.0 1511.1 L1624.0 1506.5 L1626.0 1501.9 L1628.0 1497.3 L1630.0 1492.5 L1632.0 1487.8 L1634.0 1483.0 L1636.0 1478.3 L1638.0 1473.6 L1640.0 1469.0 L1642.0 1464.5 L1644.0 1460.2 L1646.0 1456.1 L1648.0 1452.2 L1650.0 1448.6 L1652.0 1445.3 L1654.0 1442.3 L1656.0 1439.7 L1658.0 1437.4 L1660.0 1435.6 L1662.0 1434.3 L1664.0 1433.4 L1666.0 1433.0 L1668.0 1433.1 L1670.0 1433.6 L1672.0 1434.5 L1674.0 1435.7 L1676.0 1437.3 L1678.0 1439.3 L1680.0 1441.5 L1682.0 1444.1 L1684.0 1447.0 L1686.0 1450.2 L1688.0 1453.6 L1690.0 1457.3 L1692.0 1461.1 L1694.0 1465.2 L1696.0 1469.5 L1698.0 1474.0 L1700.0 1478.6 L1702.0 1483.3 L1704.0 1488.1 L1706.0 1493.0 L1708.0 1497.9 L1710.0 1502.8 L1712.0 1507.6 L1714.0 1512.4 L1716.0 1517.2 L1718.0 1521.8 L1720.0 1526.4 L1722.0 1530.9 L1724.0 1535.4 L1726.0 1539.7 L1728.0 1543.9 L1730.0 1547.9 L1732.0 1551.9 L1734.0 1555.6 L1736.0 1559.2 L1738.0 1562.6 L1740.0 1565.8 L1742.0 1568.9 L1744.0 1571.7 L1746.0 1574.5 L1748.0 1577.0 L1750.0 1579.5 L1752.0 1581.8 L1754.0 1583.9 L1756.0 1585.9 L1758.0 1587.8 L1760.0 1589.6 L1762.0 1591.2 L1764.0 1592.7 L1766.0 1594.1 L1768.0 1595.5 L1770.0 1596.7 L1772.0 1597.8 L1774.0 1598.8 L1776.0 1599.7 L1778.0 1600.6 L1780.0 1601.4 L1782.0 1602.2 L1784.0 1602.8 L1786.0 1603.5 L1788.0 1604.0 L1790.0 1604.6 L1792.0 1605.1 L1794.0 1605.5 L1796.0 1606.0 L1798.0 1606.3 L1800.0 1606.7 L1802.0 1607.0 L1804.0 1607.3 L1806.0 1607.6 L1808.0 1607.9 L1810.0 1608.1 L1812.0 1608.4 L1814.0 1608.6 L1816.0 1608.8 L1818.0 1609.0 L1820.0 1609.1 L1822.0 1609.3 L1824.0 1609.4 L1826.0 1609.6 L1828.0 1609.7 L1830.0 1609.8 L1832.0 1610.0 L1834.0 1610.1 L1836.0 1610.2 L1838.0 1610.3 L1840.0 1610.4 L1842.0 1610.5 L1844.0 1610.6 L1846.0 1610.7 L1848.0 1610.8 L1850.0 1610.9 L1852.0 1611.0 L1854.0 1611.1 L1856.0 1611.2 L1858.0 1611.2 L1860.0 1611.3 L1862.0 1611.4 L1864.0 1611.5 L1866.0 1611.6 L1868.0 1611.6 L1870.0 1611.7 L1872.0 1611.8 L1874.0 1611.8 L1876.0 1611.9 L1878.0 1611.9 L1880.0 1612.0 L1882.0 1612.1 L1884.0 1612.1 L1886.0 1612.2 L1888.0 1612.2 L1890.0 1612.3 L1892.0 1612.3 L1894.0 1612.3 L1896.0 1612.4 L1898.0 1612.4 L1900.0 1612.5 L1902.0 1612.5 L1904.0 1612.5 L1906.0 1612.6 L1908.0 1612.6 L1910.0 1612.6 L1912.0 1612.7 L1914.0 1612.7 L1916.0 1612.7 L1918.0 1612.8 L1920.0 1612.8 L1922.0 1612.8 L1924.0 1612.8 L1926.0 1612.9 L1928.0 1612.9 L1930.0 1612.9 L1932.0 1613.0 L1934.0 1613.0 L1936.0 1613.0 L1938.0 1613.0 L1940.0 1613.1 L1942.0 1613.1 L1944.0 1613.1 L1946.0 1613.1 L1948.0 1613.2 L1950.0 1613.2 L1952.0 1613.2 L1954.0 1613.2 L1956.0 1613.3 L1958.0 1613.3 L1960.0 1613.3 L1962.0 1613.3 L1964.0 1613.4 L1966.0 1613.4 L1968.0 1613.4 L1970.0 1613.4 L1972.0 1613.4 L1974.0 1613.5 L1976.0 1613.5 L1978.0 1613.5 L1980.0 1613.5 L1982.0 1613.5 L1984.0 1613.6 L1986.0 1613.6 L1988.0 1613.6 L1990.0 1613.6 L1992.0 1613.6 L1994.0 1613.6 L1996.0 1613.7 L1998.0 1613.7 L2000.0 1613.7 L2002.0 1613.7 L2004.0 1613.7 L2006.0 1613.7 L2008.0 1613.8 L2010.0 1613.8 L2012.0 1613.8 L2014.0 1613.8 L2016.0 1613.8 L2018.0 1613.8 L2020.0 1613.8 L2022.0 1613.9 L2024.0 1613.9 L2026.0 1613.9 L2028.0 1613.9 L2030.0 1613.9 L2032.0 1613.9 L2034.0 1613.9 L2036.0 1613.9 L2038.0 1614.0 L2040.0 1614.0 L2042.0 1614.0 L2044.0 1614.0 L2046.0 1614.0 L2048.0 1614.0 L2050.0 1614.0 L2052.0 1614.0 L2054.0 1614.0 L2056.0 1614.0 L2058.0 1614.0 L2060.0 1614.1 L2062.0 1614.1 L2064.0 1614.1 L2066.0 1614.1 L2068.0 1614.1 L2070.0 1614.1 L2072.0 1614.1 L2074.0 1614.1 L2076.0 1614.1 L2078.0 1614.1 L2080.0 1614.1 L2082.0 1614.1 L2084.0 1614.1 L2086.0 1614.1 L2088.0 1614.1 L2090.0 1614.1 L2092.0 1614.1 L2094.0 1614.1" stroke="#1f6fe6" stroke-width="3.8"/>
<path d="M1000.0 1563.4 L1002.0 1563.5 L1004.0 1563.5 L1006.0 1563.6 L1008.0 1563.7 L1010.0 1563.8 L1012.0 1563.8 L1014.0 1563.9 L1016.0 1564.0 L1018.0 1564.0 L1020.0 1564.1 L1022.0 1564.2 L1024.0 1564.3 L1026.0 1564.4 L1028.0 1564.4 L1030.0 1564.5 L1032.0 1564.6 L1034.0 1564.7 L1036.0 1564.7 L1038.0 1564.8 L1040.0 1564.9 L1042.0 1565.0 L1044.0 1565.1 L1046.0 1565.1 L1048.0 1565.2 L1050.0 1565.3 L1052.0 1565.4 L1054.0 1565.5 L1056.0 1565.5 L1058.0 1565.6 L1060.0 1565.7 L1062.0 1565.8 L1064.0 1565.9 L1066.0 1566.0 L1068.0 1566.0 L1070.0 1566.1 L1072.0 1566.2 L1074.0 1566.3 L1076.0 1566.4 L1078.0 1566.5 L1080.0 1566.5 L1082.0 1566.6 L1084.0 1566.7 L1086.0 1566.8 L1088.0 1566.9 L1090.0 1566.9 L1092.0 1567.0 L1094.0 1567.1 L1096.0 1567.2 L1098.0 1567.3 L1100.0 1567.3 L1102.0 1567.4 L1104.0 1567.5 L1106.0 1567.6 L1108.0 1567.7 L1110.0 1567.7 L1112.0 1567.8 L1114.0 1567.9 L1116.0 1568.0 L1118.0 1568.0 L1120.0 1568.1 L1122.0 1568.2 L1124.0 1568.3 L1126.0 1568.3 L1128.0 1568.4 L1130.0 1568.5 L1132.0 1568.6 L1134.0 1568.6 L1136.0 1568.7 L1138.0 1568.8 L1140.0 1568.8 L1142.0 1568.9 L1144.0 1569.0 L1146.0 1569.0 L1148.0 1569.1 L1150.0 1569.2 L1152.0 1569.2 L1154.0 1569.3 L1156.0 1569.4 L1158.0 1569.4 L1160.0 1569.5 L1162.0 1569.6 L1164.0 1569.6 L1166.0 1569.7 L1168.0 1569.8 L1170.0 1569.8 L1172.0 1569.9 L1174.0 1570.0 L1176.0 1570.0 L1178.0 1570.1 L1180.0 1570.2 L1182.0 1570.2 L1184.0 1570.3 L1186.0 1570.4 L1188.0 1570.4 L1190.0 1570.5 L1192.0 1570.6 L1194.0 1570.6 L1196.0 1570.7 L1198.0 1570.8 L1200.0 1570.8 L1202.0 1570.9 L1204.0 1570.9 L1206.0 1571.0 L1208.0 1571.1 L1210.0 1571.1 L1212.0 1571.2 L1214.0 1571.3 L1216.0 1571.3 L1218.0 1571.4 L1220.0 1571.5 L1222.0 1571.5 L1224.0 1571.6 L1226.0 1571.7 L1228.0 1571.7 L1230.0 1571.8 L1232.0 1571.9 L1234.0 1571.9 L1236.0 1572.0 L1238.0 1572.0 L1240.0 1572.1 L1242.0 1572.2 L1244.0 1572.2 L1246.0 1572.3 L1248.0 1572.4 L1250.0 1572.4 L1252.0 1572.5 L1254.0 1572.6 L1256.0 1572.6 L1258.0 1572.7 L1260.0 1572.8 L1262.0 1572.8 L1264.0 1572.9 L1266.0 1572.9 L1268.0 1573.0 L1270.0 1573.1 L1272.0 1573.1 L1274.0 1573.2 L1276.0 1573.3 L1278.0 1573.3 L1280.0 1573.4 L1282.0 1573.5 L1284.0 1573.5 L1286.0 1573.6 L1288.0 1573.6 L1290.0 1573.7 L1292.0 1573.8 L1294.0 1573.8 L1296.0 1573.9 L1298.0 1574.0 L1300.0 1574.0 L1302.0 1574.1 L1304.0 1574.1 L1306.0 1574.2 L1308.0 1574.3 L1310.0 1574.3 L1312.0 1574.4 L1314.0 1574.5 L1316.0 1574.5 L1318.0 1574.6 L1320.0 1574.7 L1322.0 1574.7 L1324.0 1574.8 L1326.0 1574.8 L1328.0 1574.9 L1330.0 1575.0 L1332.0 1575.0 L1334.0 1575.1 L1336.0 1575.2 L1338.0 1575.2 L1340.0 1575.3 L1342.0 1575.3 L1344.0 1575.4 L1346.0 1575.5 L1348.0 1575.5 L1350.0 1575.6 L1352.0 1575.6 L1354.0 1575.7 L1356.0 1575.7 L1358.0 1575.8 L1360.0 1575.8 L1362.0 1575.9 L1364.0 1575.9 L1366.0 1576.0 L1368.0 1576.0 L1370.0 1576.0 L1372.0 1576.1 L1374.0 1576.1 L1376.0 1576.1 L1378.0 1576.1 L1380.0 1576.1 L1382.0 1576.2 L1384.0 1576.2 L1386.0 1576.2 L1388.0 1576.2 L1390.0 1576.1 L1392.0 1576.1 L1394.0 1576.1 L1396.0 1576.1 L1398.0 1576.0 L1400.0 1576.0 L1402.0 1575.9 L1404.0 1575.8 L1406.0 1575.7 L1408.0 1575.7 L1410.0 1575.6 L1412.0 1575.4 L1414.0 1575.3 L1416.0 1575.2 L1418.0 1575.0 L1420.0 1574.8 L1422.0 1574.6 L1424.0 1574.4 L1426.0 1574.2 L1428.0 1573.9 L1430.0 1573.7 L1432.0 1573.4 L1434.0 1573.1 L1436.0 1572.7 L1438.0 1572.4 L1440.0 1572.0 L1442.0 1571.5 L1444.0 1571.1 L1446.0 1570.6 L1448.0 1570.1 L1450.0 1569.6 L1452.0 1569.0 L1454.0 1568.4 L1456.0 1567.7 L1458.0 1567.0 L1460.0 1566.3 L1462.0 1565.5 L1464.0 1564.7 L1466.0 1563.9 L1468.0 1563.0 L1470.0 1562.1 L1472.0 1561.1 L1474.0 1560.1 L1476.0 1559.1 L1478.0 1558.0 L1480.0 1556.8 L1482.0 1555.6 L1484.0 1554.4 L1486.0 1553.2 L1488.0 1551.8 L1490.0 1550.5 L1492.0 1549.1 L1494.0 1547.7 L1496.0 1546.2 L1498.0 1544.7 L1500.0 1543.2 L1502.0 1541.6 L1504.0 1540.0 L1506.0 1538.3 L1508.0 1536.7 L1510.0 1535.0 L1512.0 1533.3 L1514.0 1531.5 L1516.0 1529.8 L1518.0 1528.0 L1520.0 1526.2 L1522.0 1524.4 L1524.0 1522.7 L1526.0 1520.9 L1528.0 1519.1 L1530.0 1517.3 L1532.0 1515.6 L1534.0 1513.8 L1536.0 1512.1 L1538.0 1510.4 L1540.0 1508.8 L1542.0 1507.2 L1544.0 1505.6 L1546.0 1504.1 L1548.0 1502.6 L1550.0 1501.2 L1552.0 1499.8 L1554.0 1498.5 L1556.0 1497.3 L1558.0 1496.1 L1560.0 1495.0 L1562.0 1494.0 L1564.0 1493.1 L1566.0 1492.3 L1568.0 1491.5 L1570.0 1490.9 L1572.0 1490.4 L1574.0 1489.9 L1576.0 1489.6 L1578.0 1489.3 L1580.0 1489.2 L1582.0 1489.1 L1584.0 1489.2 L1586.0 1489.4 L1588.0 1489.8 L1590.0 1490.3 L1592.0 1490.9 L1594.0 1491.7 L1596.0 1492.6 L1598.0 1493.6 L1600.0 1494.7 L1602.0 1496.0 L1604.0 1497.4 L1606.0 1498.9 L1608.0 1500.4 L1610.0 1502.1 L1612.0 1503.9 L1614.0 1505.7 L1616.0 1507.6 L1618.0 1509.6 L1620.0 1511.6 L1622.0 1513.7 L1624.0 1515.8 L1626.0 1517.9 L1628.0 1520.1 L1630.0 1522.3 L1632.0 1524.6 L1634.0 1526.8 L1636.0 1529.1 L1638.0 1531.3 L1640.0 1533.5 L1642.0 1535.8 L1644.0 1538.0 L1646.0 1540.2 L1648.0 1542.3 L1650.0 1544.4 L1652.0 1546.5 L1654.0 1548.6 L1656.0 1550.6 L1658.0 1552.6 L1660.0 1554.5 L1662.0 1556.4 L1664.0 1558.3 L1666.0 1560.1 L1668.0 1561.8 L1670.0 1563.6 L1672.0 1565.2 L1674.0 1566.9 L1676.0 1568.5 L1678.0 1570.0 L1680.0 1571.5 L1682.0 1573.0 L1684.0 1574.4 L1686.0 1575.8 L1688.0 1577.1 L1690.0 1578.4 L1692.0 1579.6 L1694.0 1580.9 L1696.0 1582.1 L1698.0 1583.4 L1700.0 1584.6 L1702.0 1585.9 L1704.0 1587.1 L1706.0 1588.3 L1708.0 1589.5 L1710.0 1590.6 L1712.0 1591.7 L1714.0 1592.7 L1716.0 1593.7 L1718.0 1594.6 L1720.0 1595.5 L1722.0 1596.4 L1724.0 1597.3 L1726.0 1598.1 L1728.0 1599.0 L1730.0 1599.7 L1732.0 1600.5 L1734.0 1601.2 L1736.0 1601.9 L1738.0 1602.5 L1740.0 1603.0 L1742.0 1603.5 L1744.0 1604.0 L1746.0 1604.4 L1748.0 1604.8 L1750.0 1605.2 L1752.0 1605.6 L1754.0 1605.9 L1756.0 1606.2 L1758.0 1606.5 L1760.0 1606.8 L1762.0 1607.1 L1764.0 1607.4 L1766.0 1607.6 L1768.0 1607.9 L1770.0 1608.1 L1772.0 1608.3 L1774.0 1608.5 L1776.0 1608.7 L1778.0 1608.9 L1780.0 1609.0 L1782.0 1609.2 L1784.0 1609.3 L1786.0 1609.5 L1788.0 1609.6 L1790.0 1609.8 L1792.0 1609.9 L1794.0 1610.0 L1796.0 1610.2 L1798.0 1610.3 L1800.0 1610.4 L1802.0 1610.5 L1804.0 1610.6 L1806.0 1610.7 L1808.0 1610.8 L1810.0 1610.9 L1812.0 1611.0 L1814.0 1611.1 L1816.0 1611.2 L1818.0 1611.3 L1820.0 1611.4 L1822.0 1611.4 L1824.0 1611.5 L1826.0 1611.6 L1828.0 1611.7 L1830.0 1611.7 L1832.0 1611.8 L1834.0 1611.8 L1836.0 1611.9 L1838.0 1612.0 L1840.0 1612.0 L1842.0 1612.1 L1844.0 1612.2 L1846.0 1612.2 L1848.0 1612.3 L1850.0 1612.3 L1852.0 1612.4 L1854.0 1612.4 L1856.0 1612.5 L1858.0 1612.5 L1860.0 1612.6 L1862.0 1612.6 L1864.0 1612.7 L1866.0 1612.7 L1868.0 1612.8 L1870.0 1612.8 L1872.0 1612.9 L1874.0 1612.9 L1876.0 1613.0 L1878.0 1613.0 L1880.0 1613.0 L1882.0 1613.1 L1884.0 1613.1 L1886.0 1613.1 L1888.0 1613.2 L1890.0 1613.2 L1892.0 1613.2 L1894.0 1613.2 L1896.0 1613.3 L1898.0 1613.3 L1900.0 1613.3 L1902.0 1613.3 L1904.0 1613.4 L1906.0 1613.4 L1908.0 1613.4 L1910.0 1613.4 L1912.0 1613.4 L1914.0 1613.4 L1916.0 1613.5 L1918.0 1613.5 L1920.0 1613.5 L1922.0 1613.5 L1924.0 1613.5 L1926.0 1613.6 L1928.0 1613.6 L1930.0 1613.6 L1932.0 1613.6 L1934.0 1613.6 L1936.0 1613.6 L1938.0 1613.7 L1940.0 1613.7 L1942.0 1613.7 L1944.0 1613.7 L1946.0 1613.7 L1948.0 1613.7 L1950.0 1613.8 L1952.0 1613.8 L1954.0 1613.8 L1956.0 1613.8 L1958.0 1613.8 L1960.0 1613.8 L1962.0 1613.9 L1964.0 1613.9 L1966.0 1613.9 L1968.0 1613.9 L1970.0 1613.9 L1972.0 1613.9 L1974.0 1613.9 L1976.0 1614.0 L1978.0 1614.0 L1980.0 1614.0 L1982.0 1614.0 L1984.0 1614.0 L1986.0 1614.0 L1988.0 1614.0 L1990.0 1614.0 L1992.0 1614.1 L1994.0 1614.1 L1996.0 1614.1 L1998.0 1614.1 L2000.0 1614.1 L2002.0 1614.1 L2004.0 1614.1 L2006.0 1614.1 L2008.0 1614.1 L2010.0 1614.2 L2012.0 1614.2 L2014.0 1614.2 L2016.0 1614.2 L2018.0 1614.2 L2020.0 1614.2 L2022.0 1614.2 L2024.0 1614.2 L2026.0 1614.2 L2028.0 1614.2 L2030.0 1614.2 L2032.0 1614.2 L2034.0 1614.3 L2036.0 1614.3 L2038.0 1614.3 L2040.0 1614.3 L2042.0 1614.3 L2044.0 1614.3 L2046.0 1614.3 L2048.0 1614.3 L2050.0 1614.3 L2052.0 1614.3 L2054.0 1614.3 L2056.0 1614.3 L2058.0 1614.3 L2060.0 1614.3 L2062.0 1614.3 L2064.0 1614.3 L2066.0 1614.4 L2068.0 1614.4 L2070.0 1614.4 L2072.0 1614.4 L2074.0 1614.4 L2076.0 1614.4 L2078.0 1614.4 L2080.0 1614.4 L2082.0 1614.4 L2084.0 1614.4 L2086.0 1614.4 L2088.0 1614.4 L2090.0 1614.4 L2092.0 1614.4 L2094.0 1614.4" stroke="#2ea860" stroke-width="3.8"/>
<path d="M940.0 1561.9 L942.0 1561.9 L944.0 1561.9 L946.0 1561.9 L948.0 1561.9 L950.0 1561.9 L952.0 1561.8 L954.0 1561.8 L956.0 1561.8 L958.0 1561.7 L960.0 1561.7 L962.0 1561.6 L964.0 1561.5 L966.0 1561.4 L968.0 1561.3 L970.0 1561.2 L972.0 1561.0 L974.0 1560.8 L976.0 1560.6 L978.0 1560.4 L980.0 1560.1 L982.0 1559.9 L984.0 1559.5 L986.0 1559.2 L988.0 1558.8 L990.0 1558.3 L992.0 1557.8 L994.0 1557.3 L996.0 1556.7 L998.0 1556.1 L1000.0 1555.5 L1002.0 1554.8 L1004.0 1554.0 L1006.0 1553.2 L1008.0 1552.4 L1010.0 1551.5 L1012.0 1550.6 L1014.0 1549.6 L1016.0 1548.6 L1018.0 1547.6 L1020.0 1546.6 L1022.0 1545.5 L1024.0 1544.4 L1026.0 1543.3 L1028.0 1542.2 L1030.0 1541.1 L1032.0 1540.0 L1034.0 1539.0 L1036.0 1537.9 L1038.0 1536.9 L1040.0 1535.9 L1042.0 1535.0 L1044.0 1534.1 L1046.0 1533.3 L1048.0 1532.6 L1050.0 1531.9 L1052.0 1531.4 L1054.0 1530.9 L1056.0 1530.5 L1058.0 1530.2 L1060.0 1530.0 L1062.0 1529.9 L1064.0 1529.9 L1066.0 1530.0 L1068.0 1530.2 L1070.0 1530.5 L1072.0 1530.8 L1074.0 1531.3 L1076.0 1531.8 L1078.0 1532.4 L1080.0 1533.1 L1082.0 1533.9 L1084.0 1534.7 L1086.0 1535.6 L1088.0 1536.5 L1090.0 1537.5 L1092.0 1538.6 L1094.0 1539.6 L1096.0 1540.7 L1098.0 1541.9 L1100.0 1543.0 L1102.0 1544.2 L1104.0 1545.3 L1106.0 1546.5 L1108.0 1547.7 L1110.0 1548.8 L1112.0 1550.0 L1114.0 1551.1 L1116.0 1552.2 L1118.0 1553.3 L1120.0 1554.3 L1122.0 1555.3 L1124.0 1556.3 L1126.0 1557.3 L1128.0 1558.2" stroke="#12c9d2" stroke-width="3.8"/>
<path d="M1100.0 1564.6 L1102.0 1564.4 L1104.0 1564.1 L1106.0 1563.8 L1108.0 1563.5 L1110.0 1563.2 L1112.0 1562.8 L1114.0 1562.4 L1116.0 1561.9 L1118.0 1561.5 L1120.0 1561.0 L1122.0 1560.4 L1124.0 1559.9 L1126.0 1559.3 L1128.0 1558.7 L1130.0 1558.1 L1132.0 1557.4 L1134.0 1556.8 L1136.0 1556.1 L1138.0 1555.5 L1140.0 1554.9 L1142.0 1554.3 L1144.0 1553.7 L1146.0 1553.1 L1148.0 1552.5 L1150.0 1552.1 L1152.0 1551.6 L1154.0 1551.2 L1156.0 1550.9 L1158.0 1550.7 L1160.0 1550.5 L1162.0 1550.4 L1164.0 1550.4 L1166.0 1550.4 L1168.0 1550.6 L1170.0 1550.8 L1172.0 1551.1 L1174.0 1551.5 L1176.0 1552.0 L1178.0 1552.5 L1180.0 1553.1 L1182.0 1553.7 L1184.0 1554.4 L1186.0 1555.1 L1188.0 1555.8 L1190.0 1556.6 L1192.0 1557.4 L1194.0 1558.1 L1196.0 1558.9 L1198.0 1559.7 L1200.0 1560.5 L1202.0 1561.2 L1204.0 1562.0 L1206.0 1562.7 L1208.0 1563.4 L1210.0 1564.1 L1212.0 1564.7 L1214.0 1565.3 L1216.0 1565.9 L1218.0 1566.5" stroke="#d9a00c" stroke-width="3.8"/>
<path d="M1200.0 1569.0 L1202.0 1568.8 L1204.0 1568.6 L1206.0 1568.5 L1208.0 1568.3 L1210.0 1568.0 L1212.0 1567.8 L1214.0 1567.6 L1216.0 1567.3 L1218.0 1567.0 L1220.0 1566.8 L1222.0 1566.5 L1224.0 1566.2 L1226.0 1565.9 L1228.0 1565.6 L1230.0 1565.3 L1232.0 1565.1 L1234.0 1564.8 L1236.0 1564.6 L1238.0 1564.4 L1240.0 1564.2 L1242.0 1564.0 L1244.0 1563.9 L1246.0 1563.8 L1248.0 1563.8 L1250.0 1563.8 L1252.0 1563.9 L1254.0 1563.9 L1256.0 1564.1 L1258.0 1564.3 L1260.0 1564.5 L1262.0 1564.7 L1264.0 1565.0 L1266.0 1565.3 L1268.0 1565.7 L1270.0 1566.1 L1272.0 1566.4 L1274.0 1566.8 L1276.0 1567.3 L1278.0 1567.7 L1280.0 1568.1 L1282.0 1568.5 L1284.0 1568.9 L1286.0 1569.3 L1288.0 1569.8 L1290.0 1570.1 L1292.0 1570.5 L1294.0 1570.9 L1296.0 1571.3 L1298.0 1571.6 L1300.0 1571.9 L1302.0 1572.2 L1304.0 1572.5 L1306.0 1572.8 L1308.0 1573.1 L1310.0 1573.3 L1312.0 1573.5 L1314.0 1573.7 L1316.0 1573.9 L1318.0 1574.1" stroke="#b066e6" stroke-width="3.8"/>
<path d="M1620.0 1515.5 L1622.0 1511.1 L1624.0 1506.5 L1626.0 1501.9 L1628.0 1497.3 L1630.0 1492.5 L1632.0 1487.8 L1634.0 1483.0 L1636.0 1478.3 L1638.0 1473.6 L1640.0 1469.0 L1642.0 1464.5 L1644.0 1460.2 L1646.0 1456.1 L1648.0 1452.2 L1650.0 1448.6 L1652.0 1445.3 L1654.0 1442.3 L1656.0 1439.7 L1658.0 1437.4 L1660.0 1435.6 L1662.0 1434.3 L1664.0 1433.4 L1666.0 1433.0 L1668.0 1433.1 L1670.0 1433.6 L1672.0 1434.5 L1674.0 1435.7 L1676.0 1437.3 L1678.0 1439.3 L1680.0 1441.5 L1682.0 1444.1 L1684.0 1447.0 L1686.0 1450.2 L1688.0 1453.6 L1690.0 1457.3 L1692.0 1461.1 L1694.0 1465.2 L1696.0 1469.5 L1698.0 1474.0 L1700.0 1478.6 L1702.0 1483.3 L1704.0 1488.1 L1706.0 1493.0 L1708.0 1497.9 L1710.0 1502.8 L1712.0 1507.6 L1714.0 1512.4 L1716.0 1517.2 L1718.0 1521.8 L1720.0 1526.4 L1722.0 1530.9 L1724.0 1535.4 L1726.0 1539.7 L1728.0 1543.9 L1730.0 1547.9 L1732.0 1551.9 L1734.0 1555.6 L1736.0 1559.2 L1738.0 1562.6 L1740.0 1565.8 L1742.0 1568.9 L1744.0 1571.7 L1746.0 1574.5 L1748.0 1577.0 L1750.0 1579.5 L1752.0 1581.8 L1754.0 1583.9 L1756.0 1585.9 L1758.0 1587.8 L1760.0 1589.6 L1762.0 1591.2 L1764.0 1592.7 L1766.0 1594.1 L1768.0 1595.5 L1770.0 1596.7 L1772.0 1597.8 L1774.0 1598.8 L1776.0 1599.7 L1778.0 1600.6 L1780.0 1601.4 L1782.0 1602.2 L1784.0 1602.8 L1786.0 1603.5 L1788.0 1604.0 L1790.0 1604.6 L1792.0 1605.1 L1794.0 1605.5 L1796.0 1606.0 L1798.0 1606.3" stroke="#1f6fe6" stroke-width="3.8"/>
<path d="M1700.0 1010.0 L1702.0 997.4 L1704.0 985.9 L1706.0 975.6 L1708.0 966.5 L1710.0 958.8 L1712.0 952.5 L1714.0 947.5 L1716.0 944.1 L1718.0 942.2 L1720.0 941.9 L1722.0 943.1 L1724.0 946.0 L1726.0 950.5 L1728.0 956.6 L1730.0 964.1 L1732.0 973.1 L1734.0 983.4 L1736.0 995.0 L1738.0 1007.8 L1740.0 1021.6 L1742.0 1036.4 L1744.0 1052.0 L1746.0 1068.4 L1748.0 1085.5 L1750.0 1103.2 L1752.0 1121.4 L1754.0 1139.8 L1756.0 1158.6 L1758.0 1177.5 L1760.0 1196.5 L1762.0 1215.5 L1764.0 1234.4 L1766.0 1253.1 L1768.0 1271.5 L1770.0 1289.7 L1772.0 1307.4 L1774.0 1324.8 L1776.0 1341.6 L1778.0 1358.0 L1780.0 1373.8 L1782.0 1389.0 L1784.0 1403.6 L1786.0 1417.6 L1788.0 1431.0 L1790.0 1443.7 L1792.0 1455.8 L1794.0 1467.2 L1796.0 1478.0 L1798.0 1488.2 L1800.0 1497.7 L1802.0 1506.6 L1804.0 1515.0 L1806.0 1522.8 L1808.0 1530.0 L1810.0 1536.7 L1812.0 1542.9 L1814.0 1548.6 L1816.0 1553.9 L1818.0 1558.7 L1820.0 1563.2 L1822.0 1567.2 L1824.0 1570.9 L1826.0 1574.3 L1828.0 1577.4 L1830.0 1580.2 L1832.0 1582.8 L1834.0 1585.1 L1836.0 1587.2 L1838.0 1589.1 L1840.0 1590.8 L1842.0 1592.3 L1844.0 1593.7 L1846.0 1595.0 L1848.0 1596.2 L1850.0 1597.2 L1852.0 1598.1 L1854.0 1599.0 L1856.0 1599.8 L1858.0 1600.5 L1860.0 1601.1 L1862.0 1601.7 L1864.0 1602.2 L1866.0 1602.7 L1868.0 1603.1 L1870.0 1603.5 L1872.0 1603.9 L1874.0 1604.3 L1876.0 1604.6 L1878.0 1604.9 L1880.0 1605.2 L1882.0 1605.5 L1884.0 1605.7 L1886.0 1605.9 L1888.0 1606.2 L1890.0 1606.4 L1892.0 1606.6 L1894.0 1606.7 L1896.0 1606.9 L1898.0 1607.1 L1900.0 1607.3 L1902.0 1607.4 L1904.0 1607.6 L1906.0 1607.7 L1908.0 1607.8 L1910.0 1608.0 L1912.0 1608.1 L1914.0 1608.2 L1916.0 1608.3 L1918.0 1608.5 L1920.0 1608.6 L1922.0 1608.7 L1924.0 1608.8 L1926.0 1608.9 L1928.0 1609.0 L1930.0 1609.1 L1932.0 1609.2 L1934.0 1609.3 L1936.0 1609.4 L1938.0 1609.5 L1940.0 1609.6 L1942.0 1609.7 L1944.0 1609.8 L1946.0 1609.9 L1948.0 1609.9 L1950.0 1610.0 L1952.0 1610.1 L1954.0 1610.2 L1956.0 1610.2 L1958.0 1610.3 L1960.0 1610.4 L1962.0 1610.5 L1964.0 1610.5 L1966.0 1610.6 L1968.0 1610.7 L1970.0 1610.7 L1972.0 1610.8 L1974.0 1610.9 L1976.0 1610.9 L1978.0 1611.0 L1980.0 1611.0 L1982.0 1611.1 L1984.0 1611.1 L1986.0 1611.2 L1988.0 1611.3 L1990.0 1611.3 L1992.0 1611.4 L1994.0 1611.4 L1996.0 1611.5 L1998.0 1611.5 L2000.0 1611.6 L2002.0 1611.6 L2004.0 1611.6 L2006.0 1611.7 L2008.0 1611.7 L2010.0 1611.8 L2012.0 1611.8 L2014.0 1611.9 L2016.0 1611.9 L2018.0 1611.9 L2020.0 1612.0 L2022.0 1612.0 L2024.0 1612.1 L2026.0 1612.1 L2028.0 1612.1 L2030.0 1612.2 L2032.0 1612.2 L2034.0 1612.2 L2036.0 1612.3 L2038.0 1612.3 L2040.0 1612.3 L2042.0 1612.4 L2044.0 1612.4 L2046.0 1612.4 L2048.0 1612.4 L2050.0 1612.5 L2052.0 1612.5 L2054.0 1612.5 L2056.0 1612.6 L2058.0 1612.6 L2060.0 1612.6 L2062.0 1612.6 L2064.0 1612.7 L2066.0 1612.7 L2068.0 1612.7 L2070.0 1612.7 L2072.0 1612.8 L2074.0 1612.8 L2076.0 1612.8 L2078.0 1612.8 L2080.0 1612.8 L2082.0 1612.9 L2084.0 1612.9 L2086.0 1612.9 L2088.0 1612.9 L2090.0 1612.9 L2092.0 1612.9 L2094.0 1613.0" stroke="#f03a3a" stroke-width="3.8"/>
</g>
<g stroke="#a0a0a0" stroke-width="2.8">
<line x1="641.8" y1="337.3" x2="595.0" y2="434.0"/>
<line x1="1638.5" y1="169.0" x2="1718.0" y2="304.0"/>
<line x1="1583.3" y1="366.4" x2="1667.4" y2="519.3"/>
<line x1="1462.6" y1="577.5" x2="1575.4" y2="675.4"/>
<line x1="772.0" y1="1173.8" x2="1051.0" y2="1521.0"/>
<line x1="1104.0" y1="1280.0" x2="1163.7" y2="1533.9"/>
<line x1="1344.7" y1="1421.6" x2="1265.6" y2="1542.6"/>
</g>
<g stroke="#000" stroke-width="5.6" fill="none">
<rect x="168.5" y="50.6" width="1971.5" height="1588.3"/>
<line x1="168.5" y1="1638.9" x2="168.5" y2="1668.9"/>
<line x1="309.3" y1="1638.9" x2="309.3" y2="1653.4"/>
<line x1="450.1" y1="1638.9" x2="450.1" y2="1668.9"/>
<line x1="591.0" y1="1638.9" x2="591.0" y2="1653.4"/>
<line x1="731.8" y1="1638.9" x2="731.8" y2="1668.9"/>
<line x1="872.6" y1="1638.9" x2="872.6" y2="1653.4"/>
<line x1="1013.4" y1="1638.9" x2="1013.4" y2="1668.9"/>
<line x1="1154.2" y1="1638.9" x2="1154.2" y2="1653.4"/>
<line x1="1295.1" y1="1638.9" x2="1295.1" y2="1668.9"/>
<line x1="1435.9" y1="1638.9" x2="1435.9" y2="1653.4"/>
<line x1="1576.7" y1="1638.9" x2="1576.7" y2="1668.9"/>
<line x1="1717.5" y1="1638.9" x2="1717.5" y2="1653.4"/>
<line x1="1858.4" y1="1638.9" x2="1858.4" y2="1668.9"/>
<line x1="1999.2" y1="1638.9" x2="1999.2" y2="1653.4"/>
<line x1="2140.0" y1="1638.9" x2="2140.0" y2="1668.9"/>
</g>
<g font-family="&apos;Liberation Sans&apos;, Arial, sans-serif" font-weight="bold" fill="#000">
<text x="168.5" y="1745" font-size="68" text-anchor="middle">960</text>
<text x="450.1" y="1745" font-size="68" text-anchor="middle">955</text>
<text x="731.8" y="1745" font-size="68" text-anchor="middle">950</text>
<text x="1013.4" y="1745" font-size="68" text-anchor="middle">945</text>
<text x="1295.1" y="1745" font-size="68" text-anchor="middle">940</text>
<text x="1576.7" y="1745" font-size="68" text-anchor="middle">935</text>
<text x="1858.4" y="1745" font-size="68" text-anchor="middle">930</text>
<text x="2140.0" y="1745" font-size="68" text-anchor="middle">925</text>
<text x="767" y="1875.5" font-size="82">Binding energy (eV)</text>
<text transform="translate(101.5,1137) rotate(-90)" font-size="83">Intensity (A.U.)</text>
<text x="535.0" y="307.0" font-size="74"><tspan dy="0" font-size="74">Cu 2p</tspan><tspan dy="20" font-size="50">1/2</tspan></text>
<text x="190.0" y="489.2" font-size="68"><tspan dy="0" font-size="68">Cu/TiO</tspan><tspan dy="19" font-size="48">2</tspan><tspan dy="-19" font-size="68">-Ar</tspan></text>
<text x="1210.5" y="152.4" font-size="74"><tspan dy="0" font-size="74">Cu 2p</tspan><tspan dy="20" font-size="50">3/2</tspan><tspan dy="-20" font-size="74"> Cu</tspan><tspan dy="-32" font-size="50">+</tspan></text>
<text x="1060.0" y="360.7" font-size="74"><tspan dy="0" font-size="74">Cu 2p</tspan><tspan dy="20" font-size="50">3/2</tspan><tspan dy="-20" font-size="74"> Cu</tspan><tspan dy="-32" font-size="50">2+</tspan><tspan dy="32" font-size="74"> 1</tspan></text>
<text x="958.0" y="565.0" font-size="74"><tspan dy="0" font-size="74">Cu 2p</tspan><tspan dy="20" font-size="50">3/2</tspan><tspan dy="-20" font-size="74"> Cu</tspan><tspan dy="-32" font-size="50">2+</tspan><tspan dy="32" font-size="74"> 2</tspan></text>
<text x="527.0" y="1134.6" font-size="74"><tspan dy="0" font-size="74">Cu 2p</tspan><tspan dy="20" font-size="50">3/2</tspan><tspan dy="-20" font-size="74"> sat 3</tspan></text>
<text x="192.7" y="1299.6" font-size="68"><tspan dy="0" font-size="68">Cu/TiO</tspan><tspan dy="19" font-size="48">2</tspan><tspan dy="-19" font-size="68">-He</tspan></text>
<text x="890.0" y="1257.7" font-size="74"><tspan dy="0" font-size="74">Cu 2p</tspan><tspan dy="20" font-size="50">3/2</tspan><tspan dy="-20" font-size="74"> sat 2</tspan></text>
<text x="1146.3" y="1385.0" font-size="74"><tspan dy="0" font-size="74">Cu 2p</tspan><tspan dy="20" font-size="50">3/2</tspan><tspan dy="-20" font-size="74"> sat 1</tspan></text>
</g>
</g>
</svg>
</body></html>
